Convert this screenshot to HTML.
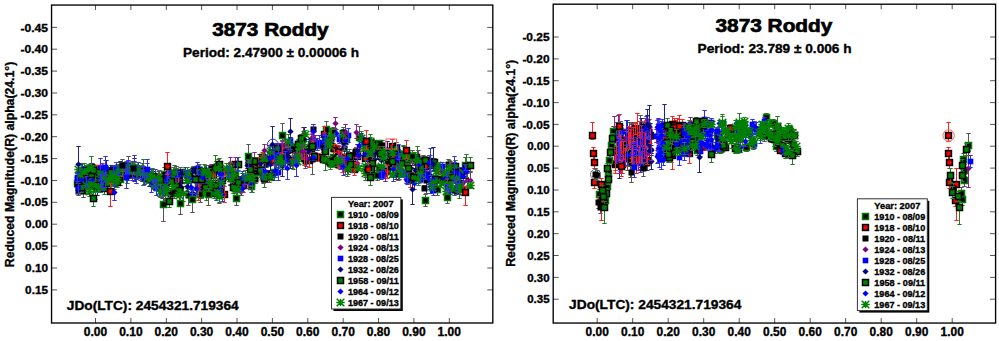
<!DOCTYPE html>
<html><head><meta charset="utf-8"><style>
html,body{margin:0;padding:0;background:#fff;}
svg{display:block;}
text{font-family:"Liberation Sans",sans-serif;font-weight:bold;fill:#000;stroke:#000;stroke-width:0.35px;}
.tk{stroke:#555;stroke-width:1;}
</style></head><body>
<svg width="999" height="341" viewBox="0 0 999 341">
<defs><g id="ast"><path d="M-4.2 0H4.2M0 -3.6V3.6M-3.8 -3.8L3.8 3.8M-3.8 3.8L3.8 -3.8" stroke="#008000" stroke-width="1.5"/><circle r="1.7" fill="#008000"/></g></defs>
<path d="M98.5 169.5V185.5M96.3 169.5h4.4M96.3 185.5h4.4" stroke="#555555"/>
<path d="M136.5 165.5V178.5M134.3 165.5h4.4M134.3 178.5h4.4" stroke="#555555"/>
<path d="M230.5 164.5V184.5M228.3 164.5h4.4M228.3 184.5h4.4" stroke="#555555"/>
<path d="M116.5 166.5V181.5M114.3 166.5h4.4M114.3 181.5h4.4" stroke="#555555"/>
<path d="M260.5 166.5V172.5M258.3 166.5h4.4M258.3 172.5h4.4" stroke="#555555"/>
<path d="M403.5 146.5V162.5M401.3 146.5h4.4M401.3 162.5h4.4" stroke="#555555"/>
<path d="M333.5 151.5V164.5M331.3 151.5h4.4M331.3 164.5h4.4" stroke="#555555"/>
<path d="M295.5 152.5V163.5M293.3 152.5h4.4M293.3 163.5h4.4" stroke="#555555"/>
<path d="M104.5 166.5V179.5M102.3 166.5h4.4M102.3 179.5h4.4" stroke="#555555"/>
<path d="M322.5 137.5V154.5M320.3 137.5h4.4M320.3 154.5h4.4" stroke="#555555"/>
<path d="M117.5 164.5V177.5M115.3 164.5h4.4M115.3 177.5h4.4" stroke="#555555"/>
<path d="M301.5 150.5V156.5M299.3 150.5h4.4M299.3 156.5h4.4" stroke="#555555"/>
<path d="M235.5 170.5V176.5M233.3 170.5h4.4M233.3 176.5h4.4" stroke="#555555"/>
<path d="M176.5 168.5V183.5M174.3 168.5h4.4M174.3 183.5h4.4" stroke="#555555"/>
<path d="M198.5 172.5V182.5M196.3 172.5h4.4M196.3 182.5h4.4" stroke="#555555"/>
<path d="M155.5 177.5V184.5M153.3 177.5h4.4M153.3 184.5h4.4" stroke="#555555"/>
<path d="M462.5 184.5V195.5M460.3 184.5h4.4M460.3 195.5h4.4" stroke="#555555"/>
<path d="M200.5 183.5V198.5M198.3 183.5h4.4M198.3 198.5h4.4" stroke="#555555"/>
<path d="M256.5 165.5V178.5M254.3 165.5h4.4M254.3 178.5h4.4" stroke="#555555"/>
<path d="M132.5 162.5V172.5M130.3 162.5h4.4M130.3 172.5h4.4" stroke="#555555"/>
<path d="M201.5 168.5V183.5M199.3 168.5h4.4M199.3 183.5h4.4" stroke="#555555"/>
<path d="M173.5 167.5V178.5M171.3 167.5h4.4M171.3 178.5h4.4" stroke="#555555"/>
<path d="M275.5 153.5V160.5M273.3 153.5h4.4M273.3 160.5h4.4" stroke="#555555"/>
<path d="M333.5 127.5V135.5M331.3 127.5h4.4M331.3 135.5h4.4" stroke="#555555"/>
<path d="M174.5 188.5V198.5M172.3 188.5h4.4M172.3 198.5h4.4" stroke="#555555"/>
<path d="M99.5 179.5V192.5M97.3 179.5h4.4M97.3 192.5h4.4" stroke="#555555"/>
<path d="M198.5 169.5V184.5M196.3 169.5h4.4M196.3 184.5h4.4" stroke="#555555"/>
<path d="M159.5 170.5V196.5M157.3 170.5h4.4M157.3 196.5h4.4" stroke="#555555"/>
<path d="M437.5 182.5V195.5M435.3 182.5h4.4M435.3 195.5h4.4" stroke="#555555"/>
<path d="M377.5 170.5V180.5M375.3 170.5h4.4M375.3 180.5h4.4" stroke="#555555"/>
<path d="M153.5 175.5V188.5M151.3 175.5h4.4M151.3 188.5h4.4" stroke="#555555"/>
<path d="M199.5 179.5V189.5M197.3 179.5h4.4M197.3 189.5h4.4" stroke="#555555"/>
<path d="M269.5 172.5V182.5M267.3 172.5h4.4M267.3 182.5h4.4" stroke="#555555"/>
<path d="M447.5 172.5V184.5M445.3 172.5h4.4M445.3 184.5h4.4" stroke="#555555"/>
<path d="M326.5 121.5V137.5M324.3 121.5h4.4M324.3 137.5h4.4" stroke="#555555"/>
<path d="M77.5 175.5V190.5M75.3 175.5h4.4M75.3 190.5h4.4" stroke="#555555"/>
<path d="M359.5 126.5V149.5M357.3 126.5h4.4M357.3 149.5h4.4" stroke="#555555"/>
<path d="M331.5 160.5V167.5M329.3 160.5h4.4M329.3 167.5h4.4" stroke="#555555"/>
<path d="M201.5 184.5V198.5M199.3 184.5h4.4M199.3 198.5h4.4" stroke="#555555"/>
<path d="M174.5 188.5V194.5M172.3 188.5h4.4M172.3 194.5h4.4" stroke="#555555"/>
<path d="M419.5 174.5V180.5M417.3 174.5h4.4M417.3 180.5h4.4" stroke="#555555"/>
<path d="M420.5 164.5V174.5M418.3 164.5h4.4M418.3 174.5h4.4" stroke="#555555"/>
<path d="M137.5 169.5V178.5M135.3 169.5h4.4M135.3 178.5h4.4" stroke="#555555"/>
<path d="M202.5 179.5V190.5M200.3 179.5h4.4M200.3 190.5h4.4" stroke="#555555"/>
<path d="M128.5 163.5V176.5M126.3 163.5h4.4M126.3 176.5h4.4" stroke="#555555"/>
<path d="M94.5 165.5V178.5M92.3 165.5h4.4M92.3 178.5h4.4" stroke="#555555"/>
<path d="M290.5 142.5V150.5M288.3 142.5h4.4M288.3 150.5h4.4" stroke="#555555"/>
<path d="M219.5 166.5V172.5M217.3 166.5h4.4M217.3 172.5h4.4" stroke="#555555"/>
<path d="M251.5 183.5V189.5M249.3 183.5h4.4M249.3 189.5h4.4" stroke="#555555"/>
<path d="M165.5 175.5V195.5M163.3 175.5h4.4M163.3 195.5h4.4" stroke="#555555"/>
<path d="M293.5 144.5V152.5M291.3 144.5h4.4M291.3 152.5h4.4" stroke="#555555"/>
<path d="M98.5 170.5V182.5M96.3 170.5h4.4M96.3 182.5h4.4" stroke="#555555"/>
<path d="M120.5 171.5V185.5M118.3 171.5h4.4M118.3 185.5h4.4" stroke="#555555"/>
<path d="M180.5 167.5V177.5M178.3 167.5h4.4M178.3 177.5h4.4" stroke="#555555"/>
<path d="M200.5 187.5V202.5M198.3 187.5h4.4M198.3 202.5h4.4" stroke="#555555"/>
<path d="M136.5 165.5V174.5M134.3 165.5h4.4M134.3 174.5h4.4" stroke="#555555"/>
<path d="M155.5 179.5V186.5M153.3 179.5h4.4M153.3 186.5h4.4" stroke="#555555"/>
<path d="M379.5 164.5V171.5M377.3 164.5h4.4M377.3 171.5h4.4" stroke="#555555"/>
<path d="M356.5 147.5V159.5M354.3 147.5h4.4M354.3 159.5h4.4" stroke="#555555"/>
<path d="M251.5 174.5V192.5M249.3 174.5h4.4M249.3 192.5h4.4" stroke="#555555"/>
<path d="M346.5 133.5V144.5M344.3 133.5h4.4M344.3 144.5h4.4" stroke="#555555"/>
<path d="M311.5 139.5V148.5M309.3 139.5h4.4M309.3 148.5h4.4" stroke="#555555"/>
<path d="M274.5 164.5V180.5M272.3 164.5h4.4M272.3 180.5h4.4" stroke="#555555"/>
<path d="M410.5 169.5V181.5M408.3 169.5h4.4M408.3 181.5h4.4" stroke="#555555"/>
<path d="M123.5 166.5V179.5M121.3 166.5h4.4M121.3 179.5h4.4" stroke="#555555"/>
<path d="M219.5 188.5V203.5M217.3 188.5h4.4M217.3 203.5h4.4" stroke="#555555"/>
<path d="M128.5 164.5V174.5M126.3 164.5h4.4M126.3 174.5h4.4" stroke="#555555"/>
<path d="M407.5 154.5V165.5M405.3 154.5h4.4M405.3 165.5h4.4" stroke="#555555"/>
<path d="M88.5 176.5V194.5M86.3 176.5h4.4M86.3 194.5h4.4" stroke="#555555"/>
<path d="M158.5 171.5V186.5M156.3 171.5h4.4M156.3 186.5h4.4" stroke="#555555"/>
<path d="M379.5 140.5V146.5M377.3 140.5h4.4M377.3 146.5h4.4" stroke="#555555"/>
<path d="M348.5 164.5V171.5M346.3 164.5h4.4M346.3 171.5h4.4" stroke="#555555"/>
<path d="M164.5 167.5V180.5M162.3 167.5h4.4M162.3 180.5h4.4" stroke="#555555"/>
<path d="M417.5 157.5V166.5M415.3 157.5h4.4M415.3 166.5h4.4" stroke="#555555"/>
<path d="M333.5 143.5V154.5M331.3 143.5h4.4M331.3 154.5h4.4" stroke="#555555"/>
<path d="M234.5 175.5V190.5M232.3 175.5h4.4M232.3 190.5h4.4" stroke="#555555"/>
<path d="M140.5 169.5V180.5M138.3 169.5h4.4M138.3 180.5h4.4" stroke="#555555"/>
<path d="M96.5 185.5V190.5M94.3 185.5h4.4M94.3 190.5h4.4" stroke="#555555"/>
<path d="M282.5 155.5V169.5M280.3 155.5h4.4M280.3 169.5h4.4" stroke="#555555"/>
<path d="M341.5 155.5V165.5M339.3 155.5h4.4M339.3 165.5h4.4" stroke="#555555"/>
<path d="M160.5 175.5V181.5M158.3 175.5h4.4M158.3 181.5h4.4" stroke="#555555"/>
<path d="M144.5 172.5V179.5M142.3 172.5h4.4M142.3 179.5h4.4" stroke="#555555"/>
<path d="M465.5 157.5V174.5M463.3 157.5h4.4M463.3 174.5h4.4" stroke="#555555"/>
<path d="M442.5 176.5V183.5M440.3 176.5h4.4M440.3 183.5h4.4" stroke="#555555"/>
<path d="M132.5 161.5V174.5M130.3 161.5h4.4M130.3 174.5h4.4" stroke="#555555"/>
<path d="M344.5 142.5V154.5M342.3 142.5h4.4M342.3 154.5h4.4" stroke="#555555"/>
<path d="M389.5 161.5V173.5M387.3 161.5h4.4M387.3 173.5h4.4" stroke="#555555"/>
<path d="M399.5 160.5V179.5M397.3 160.5h4.4M397.3 179.5h4.4" stroke="#555555"/>
<path d="M87.5 167.5V180.5M85.3 167.5h4.4M85.3 180.5h4.4" stroke="#555555"/>
<path d="M402.5 151.5V159.5M400.3 151.5h4.4M400.3 159.5h4.4" stroke="#555555"/>
<path d="M95.5 167.5V176.5M93.3 167.5h4.4M93.3 176.5h4.4" stroke="#555555"/>
<path d="M273.5 149.5V158.5M271.3 149.5h4.4M271.3 158.5h4.4" stroke="#555555"/>
<path d="M347.5 161.5V176.5M345.3 161.5h4.4M345.3 176.5h4.4" stroke="#555555"/>
<path d="M187.5 171.5V180.5M185.3 171.5h4.4M185.3 180.5h4.4" stroke="#555555"/>
<path d="M92.5 163.5V171.5M90.3 163.5h4.4M90.3 171.5h4.4" stroke="#555555"/>
<path d="M426.5 167.5V193.5M424.3 167.5h4.4M424.3 193.5h4.4" stroke="#555555"/>
<path d="M116.5 172.5V187.5M114.3 172.5h4.4M114.3 187.5h4.4" stroke="#555555"/>
<path d="M142.5 163.5V177.5M140.3 163.5h4.4M140.3 177.5h4.4" stroke="#555555"/>
<path d="M211.5 164.5V172.5M209.3 164.5h4.4M209.3 172.5h4.4" stroke="#555555"/>
<path d="M416.5 157.5V165.5M414.3 157.5h4.4M414.3 165.5h4.4" stroke="#555555"/>
<path d="M313.5 124.5V135.5M311.3 124.5h4.4M311.3 135.5h4.4" stroke="#555555"/>
<path d="M425.5 169.5V178.5M423.3 169.5h4.4M423.3 178.5h4.4" stroke="#555555"/>
<path d="M142.5 165.5V174.5M140.3 165.5h4.4M140.3 174.5h4.4" stroke="#555555"/>
<path d="M448.5 159.5V170.5M446.3 159.5h4.4M446.3 170.5h4.4" stroke="#555555"/>
<path d="M424.5 185.5V190.5M422.3 185.5h4.4M422.3 190.5h4.4" stroke="#555555"/>
<path d="M418.5 157.5V183.5M416.3 157.5h4.4M416.3 183.5h4.4" stroke="#555555"/>
<path d="M343.5 135.5V143.5M341.3 135.5h4.4M341.3 143.5h4.4" stroke="#555555"/>
<path d="M307.5 148.5V153.5M305.3 148.5h4.4M305.3 153.5h4.4" stroke="#555555"/>
<path d="M129.5 172.5V178.5M127.3 172.5h4.4M127.3 178.5h4.4" stroke="#555555"/>
<path d="M165.5 172.5V178.5M163.3 172.5h4.4M163.3 178.5h4.4" stroke="#555555"/>
<path d="M387.5 155.5V168.5M385.3 155.5h4.4M385.3 168.5h4.4" stroke="#555555"/>
<path d="M423.5 155.5V163.5M421.3 155.5h4.4M421.3 163.5h4.4" stroke="#555555"/>
<path d="M84.5 166.5V178.5M82.3 166.5h4.4M82.3 178.5h4.4" stroke="#555555"/>
<path d="M137.5 165.5V173.5M135.3 165.5h4.4M135.3 173.5h4.4" stroke="#555555"/>
<path d="M216.5 161.5V170.5M214.3 161.5h4.4M214.3 170.5h4.4" stroke="#555555"/>
<path d="M447.5 171.5V185.5M445.3 171.5h4.4M445.3 185.5h4.4" stroke="#555555"/>
<path d="M77.5 180.5V188.5M75.3 180.5h4.4M75.3 188.5h4.4" stroke="#555555"/>
<path d="M116.5 162.5V175.5M114.3 162.5h4.4M114.3 175.5h4.4" stroke="#555555"/>
<path d="M345.5 158.5V174.5M343.3 158.5h4.4M343.3 174.5h4.4" stroke="#555555"/>
<path d="M206.5 169.5V181.5M204.3 169.5h4.4M204.3 181.5h4.4" stroke="#555555"/>
<path d="M353.5 158.5V171.5M351.3 158.5h4.4M351.3 171.5h4.4" stroke="#555555"/>
<path d="M346.5 162.5V168.5M344.3 162.5h4.4M344.3 168.5h4.4" stroke="#555555"/>
<path d="M259.5 154.5V168.5M257.3 154.5h4.4M257.3 168.5h4.4" stroke="#555555"/>
<path d="M176.5 166.5V177.5M174.3 166.5h4.4M174.3 177.5h4.4" stroke="#555555"/>
<path d="M457.5 188.5V193.5M455.3 188.5h4.4M455.3 193.5h4.4" stroke="#555555"/>
<path d="M316.5 140.5V148.5M314.3 140.5h4.4M314.3 148.5h4.4" stroke="#555555"/>
<path d="M398.5 168.5V180.5M396.3 168.5h4.4M396.3 180.5h4.4" stroke="#555555"/>
<path d="M382.5 150.5V158.5M380.3 150.5h4.4M380.3 158.5h4.4" stroke="#555555"/>
<path d="M454.5 185.5V195.5M452.3 185.5h4.4M452.3 195.5h4.4" stroke="#555555"/>
<path d="M451.5 166.5V177.5M449.3 166.5h4.4M449.3 177.5h4.4" stroke="#555555"/>
<path d="M453.5 173.5V183.5M451.3 173.5h4.4M451.3 183.5h4.4" stroke="#555555"/>
<path d="M124.5 162.5V171.5M122.3 162.5h4.4M122.3 171.5h4.4" stroke="#555555"/>
<path d="M198.5 169.5V179.5M196.3 169.5h4.4M196.3 179.5h4.4" stroke="#555555"/>
<path d="M188.5 183.5V205.5M186.3 183.5h4.4M186.3 205.5h4.4" stroke="#555555"/>
<path d="M324.5 134.5V163.5M322.3 134.5h4.4M322.3 163.5h4.4" stroke="#555555"/>
<path d="M238.5 180.5V191.5M236.3 180.5h4.4M236.3 191.5h4.4" stroke="#555555"/>
<path d="M267.5 170.5V176.5M265.3 170.5h4.4M265.3 176.5h4.4" stroke="#555555"/>
<path d="M151.5 173.5V179.5M149.3 173.5h4.4M149.3 179.5h4.4" stroke="#555555"/>
<path d="M278.5 154.5V167.5M276.3 154.5h4.4M276.3 167.5h4.4" stroke="#555555"/>
<path d="M193.5 166.5V173.5M191.3 166.5h4.4M191.3 173.5h4.4" stroke="#555555"/>
<path d="M405.5 170.5V176.5M403.3 170.5h4.4M403.3 176.5h4.4" stroke="#555555"/>
<path d="M353.5 157.5V170.5M351.3 157.5h4.4M351.3 170.5h4.4" stroke="#555555"/>
<path d="M221.5 187.5V193.5M219.3 187.5h4.4M219.3 193.5h4.4" stroke="#555555"/>
<path d="M382.5 140.5V149.5M380.3 140.5h4.4M380.3 149.5h4.4" stroke="#555555"/>
<path d="M119.5 171.5V182.5M117.3 171.5h4.4M117.3 182.5h4.4" stroke="#555555"/>
<path d="M105.5 160.5V187.5M103.3 160.5h4.4M103.3 187.5h4.4" stroke="#555555"/>
<path d="M266.5 159.5V167.5M264.3 159.5h4.4M264.3 167.5h4.4" stroke="#555555"/>
<path d="M142.5 166.5V175.5M140.3 166.5h4.4M140.3 175.5h4.4" stroke="#555555"/>
<path d="M305.5 154.5V168.5M303.3 154.5h4.4M303.3 168.5h4.4" stroke="#555555"/>
<path d="M392.5 153.5V166.5M390.3 153.5h4.4M390.3 166.5h4.4" stroke="#555555"/>
<path d="M179.5 177.5V185.5M177.3 177.5h4.4M177.3 185.5h4.4" stroke="#555555"/>
<path d="M193.5 189.5V200.5M191.3 189.5h4.4M191.3 200.5h4.4" stroke="#555555"/>
<path d="M83.5 184.5V197.5M81.3 184.5h4.4M81.3 197.5h4.4" stroke="#555555"/>
<path d="M78.5 187.5V195.5M76.3 187.5h4.4M76.3 195.5h4.4" stroke="#555555"/>
<path d="M312.5 145.5V174.5M310.3 145.5h4.4M310.3 174.5h4.4" stroke="#555555"/>
<path d="M207.5 172.5V185.5M205.3 172.5h4.4M205.3 185.5h4.4" stroke="#555555"/>
<path d="M154.5 176.5V182.5M152.3 176.5h4.4M152.3 182.5h4.4" stroke="#555555"/>
<path d="M344.5 135.5V141.5M342.3 135.5h4.4M342.3 141.5h4.4" stroke="#555555"/>
<path d="M454.5 167.5V182.5M452.3 167.5h4.4M452.3 182.5h4.4" stroke="#555555"/>
<path d="M255.5 175.5V183.5M253.3 175.5h4.4M253.3 183.5h4.4" stroke="#555555"/>
<path d="M199.5 164.5V174.5M197.3 164.5h4.4M197.3 174.5h4.4" stroke="#555555"/>
<path d="M215.5 189.5V196.5M213.3 189.5h4.4M213.3 196.5h4.4" stroke="#555555"/>
<path d="M314.5 148.5V161.5M312.3 148.5h4.4M312.3 161.5h4.4" stroke="#555555"/>
<path d="M162.5 181.5V196.5M160.3 181.5h4.4M160.3 196.5h4.4" stroke="#555555"/>
<path d="M355.5 148.5V155.5M353.3 148.5h4.4M353.3 155.5h4.4" stroke="#555555"/>
<path d="M128.5 156.5V176.5M126.3 156.5h4.4M126.3 176.5h4.4" stroke="#555555"/>
<path d="M170.5 188.5V201.5M168.3 188.5h4.4M168.3 201.5h4.4" stroke="#555555"/>
<path d="M250.5 175.5V183.5M248.3 175.5h4.4M248.3 183.5h4.4" stroke="#555555"/>
<path d="M86.5 179.5V188.5M84.3 179.5h4.4M84.3 188.5h4.4" stroke="#555555"/>
<path d="M458.5 171.5V194.5M456.3 171.5h4.4M456.3 194.5h4.4" stroke="#555555"/>
<path d="M208.5 176.5V186.5M206.3 176.5h4.4M206.3 186.5h4.4" stroke="#555555"/>
<path d="M326.5 132.5V142.5M324.3 132.5h4.4M324.3 142.5h4.4" stroke="#555555"/>
<path d="M88.5 180.5V188.5M86.3 180.5h4.4M86.3 188.5h4.4" stroke="#555555"/>
<path d="M389.5 148.5V159.5M387.3 148.5h4.4M387.3 159.5h4.4" stroke="#555555"/>
<rect x="95.5" y="175.5" width="6.0" height="6.0" fill="#000" stroke="#008000" stroke-width="1.5"/>
<rect x="133.5" y="168.5" width="6.0" height="6.0" fill="#000" stroke="#008000" stroke-width="1.5"/>
<rect x="227.5" y="172.5" width="6.0" height="6.0" fill="#000" stroke="#008000" stroke-width="1.5"/>
<rect x="113.5" y="170.5" width="6.0" height="6.0" fill="#000" stroke="#008000" stroke-width="1.5"/>
<rect x="257.5" y="166.5" width="6.0" height="6.0" fill="#000" stroke="#008000" stroke-width="1.5"/>
<rect x="400.5" y="151.5" width="6.0" height="6.0" fill="#000" stroke="#008000" stroke-width="1.5"/>
<rect x="330.5" y="154.5" width="6.0" height="6.0" fill="#000" stroke="#008000" stroke-width="1.5"/>
<rect x="292.5" y="155.5" width="6.0" height="6.0" fill="#000" stroke="#008000" stroke-width="1.5"/>
<rect x="101.5" y="169.5" width="6.0" height="6.0" fill="#000" stroke="#008000" stroke-width="1.5"/>
<rect x="319.5" y="142.5" width="6.0" height="6.0" fill="#000" stroke="#008000" stroke-width="1.5"/>
<rect x="114.5" y="168.5" width="6.0" height="6.0" fill="#000" stroke="#008000" stroke-width="1.5"/>
<rect x="298.5" y="150.5" width="6.0" height="6.0" fill="#000" stroke="#008000" stroke-width="1.5"/>
<rect x="232.5" y="170.5" width="6.0" height="6.0" fill="#000" stroke="#008000" stroke-width="1.5"/>
<rect x="173.5" y="172.5" width="6.0" height="6.0" fill="#000" stroke="#008000" stroke-width="1.5"/>
<rect x="195.5" y="174.5" width="6.0" height="6.0" fill="#000" stroke="#008000" stroke-width="1.5"/>
<rect x="152.5" y="178.5" width="6.0" height="6.0" fill="#000" stroke="#008000" stroke-width="1.5"/>
<rect x="459.5" y="186.5" width="6.0" height="6.0" fill="#000" stroke="#008000" stroke-width="1.5"/>
<rect x="197.5" y="187.5" width="6.0" height="6.0" fill="#000" stroke="#008000" stroke-width="1.5"/>
<rect x="253.5" y="169.5" width="6.0" height="6.0" fill="#000" stroke="#008000" stroke-width="1.5"/>
<rect x="129.5" y="164.5" width="6.0" height="6.0" fill="#000" stroke="#008000" stroke-width="1.5"/>
<rect x="198.5" y="172.5" width="6.0" height="6.0" fill="#000" stroke="#008000" stroke-width="1.5"/>
<rect x="170.5" y="170.5" width="6.0" height="6.0" fill="#000" stroke="#008000" stroke-width="1.5"/>
<rect x="272.5" y="154.5" width="6.0" height="6.0" fill="#000" stroke="#008000" stroke-width="1.5"/>
<rect x="330.5" y="128.5" width="6.0" height="6.0" fill="#000" stroke="#008000" stroke-width="1.5"/>
<rect x="171.5" y="190.5" width="6.0" height="6.0" fill="#000" stroke="#008000" stroke-width="1.5"/>
<rect x="96.5" y="182.5" width="6.0" height="6.0" fill="#000" stroke="#008000" stroke-width="1.5"/>
<rect x="195.5" y="173.5" width="6.0" height="6.0" fill="#000" stroke="#008000" stroke-width="1.5"/>
<rect x="156.5" y="181.5" width="6.0" height="6.0" fill="#000" stroke="#008000" stroke-width="1.5"/>
<rect x="434.5" y="186.5" width="6.0" height="6.0" fill="#000" stroke="#008000" stroke-width="1.5"/>
<rect x="374.5" y="172.5" width="6.0" height="6.0" fill="#000" stroke="#008000" stroke-width="1.5"/>
<rect x="150.5" y="179.5" width="6.0" height="6.0" fill="#000" stroke="#008000" stroke-width="1.5"/>
<rect x="196.5" y="181.5" width="6.0" height="6.0" fill="#000" stroke="#008000" stroke-width="1.5"/>
<rect x="266.5" y="174.5" width="6.0" height="6.0" fill="#000" stroke="#008000" stroke-width="1.5"/>
<rect x="444.5" y="175.5" width="6.0" height="6.0" fill="#000" stroke="#008000" stroke-width="1.5"/>
<rect x="323.5" y="126.5" width="6.0" height="6.0" fill="#000" stroke="#008000" stroke-width="1.5"/>
<rect x="74.5" y="180.5" width="6.0" height="6.0" fill="#000" stroke="#008000" stroke-width="1.5"/>
<rect x="356.5" y="134.5" width="6.0" height="6.0" fill="#000" stroke="#008000" stroke-width="1.5"/>
<rect x="328.5" y="160.5" width="6.0" height="6.0" fill="#000" stroke="#008000" stroke-width="1.5"/>
<rect x="198.5" y="189.5" width="6.0" height="6.0" fill="#000" stroke="#008000" stroke-width="1.5"/>
<rect x="171.5" y="188.5" width="6.0" height="6.0" fill="#000" stroke="#008000" stroke-width="1.5"/>
<rect x="416.5" y="174.5" width="6.0" height="6.0" fill="#000" stroke="#008000" stroke-width="1.5"/>
<rect x="417.5" y="166.5" width="6.0" height="6.0" fill="#000" stroke="#008000" stroke-width="1.5"/>
<rect x="134.5" y="170.5" width="6.0" height="6.0" fill="#000" stroke="#008000" stroke-width="1.5"/>
<rect x="199.5" y="182.5" width="6.0" height="6.0" fill="#000" stroke="#008000" stroke-width="1.5"/>
<rect x="125.5" y="166.5" width="6.0" height="6.0" fill="#000" stroke="#008000" stroke-width="1.5"/>
<rect x="91.5" y="169.5" width="6.0" height="6.0" fill="#000" stroke="#008000" stroke-width="1.5"/>
<rect x="287.5" y="143.5" width="6.0" height="6.0" fill="#000" stroke="#008000" stroke-width="1.5"/>
<rect x="216.5" y="166.5" width="6.0" height="6.0" fill="#000" stroke="#008000" stroke-width="1.5"/>
<rect x="248.5" y="183.5" width="6.0" height="6.0" fill="#000" stroke="#008000" stroke-width="1.5"/>
<rect x="162.5" y="182.5" width="6.0" height="6.0" fill="#000" stroke="#008000" stroke-width="1.5"/>
<rect x="290.5" y="145.5" width="6.0" height="6.0" fill="#000" stroke="#008000" stroke-width="1.5"/>
<rect x="95.5" y="173.5" width="6.0" height="6.0" fill="#000" stroke="#008000" stroke-width="1.5"/>
<rect x="117.5" y="176.5" width="6.0" height="6.0" fill="#000" stroke="#008000" stroke-width="1.5"/>
<rect x="177.5" y="169.5" width="6.0" height="6.0" fill="#000" stroke="#008000" stroke-width="1.5"/>
<rect x="197.5" y="191.5" width="6.0" height="6.0" fill="#000" stroke="#008000" stroke-width="1.5"/>
<rect x="133.5" y="166.5" width="6.0" height="6.0" fill="#000" stroke="#008000" stroke-width="1.5"/>
<rect x="152.5" y="179.5" width="6.0" height="6.0" fill="#000" stroke="#008000" stroke-width="1.5"/>
<rect x="376.5" y="165.5" width="6.0" height="6.0" fill="#000" stroke="#008000" stroke-width="1.5"/>
<rect x="353.5" y="150.5" width="6.0" height="6.0" fill="#000" stroke="#008000" stroke-width="1.5"/>
<rect x="248.5" y="180.5" width="6.0" height="6.0" fill="#000" stroke="#008000" stroke-width="1.5"/>
<rect x="343.5" y="136.5" width="6.0" height="6.0" fill="#000" stroke="#008000" stroke-width="1.5"/>
<rect x="308.5" y="141.5" width="6.0" height="6.0" fill="#000" stroke="#008000" stroke-width="1.5"/>
<rect x="271.5" y="169.5" width="6.0" height="6.0" fill="#000" stroke="#008000" stroke-width="1.5"/>
<rect x="407.5" y="172.5" width="6.0" height="6.0" fill="#000" stroke="#008000" stroke-width="1.5"/>
<rect x="120.5" y="170.5" width="6.0" height="6.0" fill="#000" stroke="#008000" stroke-width="1.5"/>
<rect x="216.5" y="192.5" width="6.0" height="6.0" fill="#000" stroke="#008000" stroke-width="1.5"/>
<rect x="125.5" y="166.5" width="6.0" height="6.0" fill="#000" stroke="#008000" stroke-width="1.5"/>
<rect x="404.5" y="157.5" width="6.0" height="6.0" fill="#000" stroke="#008000" stroke-width="1.5"/>
<rect x="85.5" y="182.5" width="6.0" height="6.0" fill="#000" stroke="#008000" stroke-width="1.5"/>
<rect x="155.5" y="175.5" width="6.0" height="6.0" fill="#000" stroke="#008000" stroke-width="1.5"/>
<rect x="376.5" y="140.5" width="6.0" height="6.0" fill="#000" stroke="#008000" stroke-width="1.5"/>
<rect x="345.5" y="165.5" width="6.0" height="6.0" fill="#000" stroke="#008000" stroke-width="1.5"/>
<rect x="161.5" y="171.5" width="6.0" height="6.0" fill="#000" stroke="#008000" stroke-width="1.5"/>
<rect x="414.5" y="158.5" width="6.0" height="6.0" fill="#000" stroke="#008000" stroke-width="1.5"/>
<rect x="330.5" y="145.5" width="6.0" height="6.0" fill="#000" stroke="#008000" stroke-width="1.5"/>
<rect x="231.5" y="180.5" width="6.0" height="6.0" fill="#000" stroke="#008000" stroke-width="1.5"/>
<rect x="137.5" y="172.5" width="6.0" height="6.0" fill="#000" stroke="#008000" stroke-width="1.5"/>
<rect x="93.5" y="185.5" width="6.0" height="6.0" fill="#000" stroke="#008000" stroke-width="1.5"/>
<rect x="279.5" y="159.5" width="6.0" height="6.0" fill="#000" stroke="#008000" stroke-width="1.5"/>
<rect x="338.5" y="157.5" width="6.0" height="6.0" fill="#000" stroke="#008000" stroke-width="1.5"/>
<rect x="157.5" y="175.5" width="6.0" height="6.0" fill="#000" stroke="#008000" stroke-width="1.5"/>
<rect x="141.5" y="173.5" width="6.0" height="6.0" fill="#000" stroke="#008000" stroke-width="1.5"/>
<rect x="462.5" y="162.5" width="6.0" height="6.0" fill="#000" stroke="#008000" stroke-width="1.5"/>
<rect x="439.5" y="176.5" width="6.0" height="6.0" fill="#000" stroke="#008000" stroke-width="1.5"/>
<rect x="240.6" y="182.6" width="5.8" height="5.8" fill="#f00" stroke="#000" stroke-width="1.6"/>
<rect x="81.6" y="174.6" width="5.8" height="5.8" fill="#f00" stroke="#000" stroke-width="1.6"/>
<rect x="176.6" y="177.6" width="5.8" height="5.8" fill="#f00" stroke="#000" stroke-width="1.6"/>
<rect x="369.6" y="154.6" width="5.8" height="5.8" fill="#f00" stroke="#000" stroke-width="1.6"/>
<rect x="175.6" y="178.6" width="5.8" height="5.8" fill="#f00" stroke="#000" stroke-width="1.6"/>
<rect x="362.6" y="155.6" width="5.8" height="5.8" fill="#f00" stroke="#000" stroke-width="1.6"/>
<rect x="342.6" y="154.6" width="5.8" height="5.8" fill="#f00" stroke="#000" stroke-width="1.6"/>
<rect x="250.6" y="162.6" width="5.8" height="5.8" fill="#f00" stroke="#000" stroke-width="1.6"/>
<rect x="327.6" y="137.6" width="5.8" height="5.8" fill="#f00" stroke="#000" stroke-width="1.6"/>
<rect x="336.6" y="161.6" width="5.8" height="5.8" fill="#f00" stroke="#000" stroke-width="1.6"/>
<rect x="335.6" y="161.6" width="5.8" height="5.8" fill="#f00" stroke="#000" stroke-width="1.6"/>
<rect x="353.6" y="149.6" width="5.8" height="5.8" fill="#f00" stroke="#000" stroke-width="1.6"/>
<rect x="308.6" y="145.6" width="5.8" height="5.8" fill="#f00" stroke="#000" stroke-width="1.6"/>
<rect x="219.6" y="177.6" width="5.8" height="5.8" fill="#f00" stroke="#000" stroke-width="1.6"/>
<rect x="277.6" y="152.6" width="5.8" height="5.8" fill="#f00" stroke="#000" stroke-width="1.6"/>
<rect x="259.6" y="154.6" width="5.8" height="5.8" fill="#f00" stroke="#000" stroke-width="1.6"/>
<rect x="341.6" y="161.6" width="5.8" height="5.8" fill="#f00" stroke="#000" stroke-width="1.6"/>
<rect x="210.6" y="172.6" width="5.8" height="5.8" fill="#f00" stroke="#000" stroke-width="1.6"/>
<rect x="422.6" y="163.6" width="5.8" height="5.8" fill="#f00" stroke="#000" stroke-width="1.6"/>
<rect x="339.6" y="162.6" width="5.8" height="5.8" fill="#f00" stroke="#000" stroke-width="1.6"/>
<rect x="430.6" y="181.6" width="5.8" height="5.8" fill="#f00" stroke="#000" stroke-width="1.6"/>
<rect x="195.6" y="184.6" width="5.8" height="5.8" fill="#f00" stroke="#000" stroke-width="1.6"/>
<rect x="309.6" y="138.6" width="5.8" height="5.8" fill="#f00" stroke="#000" stroke-width="1.6"/>
<rect x="354.6" y="153.6" width="5.8" height="5.8" fill="#f00" stroke="#000" stroke-width="1.6"/>
<rect x="391.6" y="154.6" width="5.8" height="5.8" fill="#f00" stroke="#000" stroke-width="1.6"/>
<rect x="393.6" y="162.6" width="5.8" height="5.8" fill="#f00" stroke="#000" stroke-width="1.6"/>
<rect x="270.6" y="158.6" width="5.8" height="5.8" fill="#f00" stroke="#000" stroke-width="1.6"/>
<rect x="232.6" y="161.6" width="5.8" height="5.8" fill="#f00" stroke="#000" stroke-width="1.6"/>
<rect x="221.6" y="191.6" width="5.8" height="5.8" fill="#f00" stroke="#000" stroke-width="1.6"/>
<rect x="321.6" y="131.6" width="5.8" height="5.8" fill="#f00" stroke="#000" stroke-width="1.6"/>
<rect x="88.6" y="164.6" width="5.8" height="5.8" fill="#f00" stroke="#000" stroke-width="1.6"/>
<rect x="407.6" y="176.6" width="5.8" height="5.8" fill="#f00" stroke="#000" stroke-width="1.6"/>
<rect x="295.6" y="141.6" width="5.8" height="5.8" fill="#f00" stroke="#000" stroke-width="1.6"/>
<rect x="289.6" y="157.6" width="5.8" height="5.8" fill="#f00" stroke="#000" stroke-width="1.6"/>
<rect x="389.6" y="143.6" width="5.8" height="5.8" fill="#f00" stroke="#000" stroke-width="1.6"/>
<rect x="264.6" y="173.6" width="5.8" height="5.8" fill="#f00" stroke="#000" stroke-width="1.6"/>
<rect x="301.6" y="155.6" width="5.8" height="5.8" fill="#f00" stroke="#000" stroke-width="1.6"/>
<rect x="126.6" y="167.6" width="5.8" height="5.8" fill="#f00" stroke="#000" stroke-width="1.6"/>
<rect x="221.6" y="168.6" width="5.8" height="5.8" fill="#f00" stroke="#000" stroke-width="1.6"/>
<rect x="306.6" y="157.6" width="5.8" height="5.8" fill="#f00" stroke="#000" stroke-width="1.6"/>
<rect x="321.6" y="143.6" width="5.8" height="5.8" fill="#f00" stroke="#000" stroke-width="1.6"/>
<rect x="119.6" y="168.6" width="5.8" height="5.8" fill="#f00" stroke="#000" stroke-width="1.6"/>
<rect x="298.6" y="150.6" width="5.8" height="5.8" fill="#f00" stroke="#000" stroke-width="1.6"/>
<rect x="384.6" y="168.6" width="5.8" height="5.8" fill="#f00" stroke="#000" stroke-width="1.6"/>
<rect x="261.6" y="172.6" width="5.8" height="5.8" fill="#f00" stroke="#000" stroke-width="1.6"/>
<rect x="338.6" y="154.6" width="5.8" height="5.8" fill="#f00" stroke="#000" stroke-width="1.6"/>
<rect x="436.6" y="166.6" width="5.8" height="5.8" fill="#f00" stroke="#000" stroke-width="1.6"/>
<rect x="457.6" y="180.6" width="5.8" height="5.8" fill="#f00" stroke="#000" stroke-width="1.6"/>
<rect x="216.6" y="184.6" width="5.8" height="5.8" fill="#f00" stroke="#000" stroke-width="1.6"/>
<rect x="279.6" y="144.6" width="5.8" height="5.8" fill="#f00" stroke="#000" stroke-width="1.6"/>
<rect x="375.6" y="147.6" width="5.8" height="5.8" fill="#f00" stroke="#000" stroke-width="1.6"/>
<rect x="246.6" y="160.6" width="5.8" height="5.8" fill="#f00" stroke="#000" stroke-width="1.6"/>
<rect x="294.6" y="151.6" width="5.8" height="5.8" fill="#f00" stroke="#000" stroke-width="1.6"/>
<rect x="331.6" y="145.6" width="5.8" height="5.8" fill="#f00" stroke="#000" stroke-width="1.6"/>
<rect x="351.6" y="166.6" width="5.8" height="5.8" fill="#f00" stroke="#000" stroke-width="1.6"/>
<rect x="94.6" y="165.6" width="5.8" height="5.8" fill="#f00" stroke="#000" stroke-width="1.6"/>
<rect x="335.6" y="148.6" width="5.8" height="5.8" fill="#f00" stroke="#000" stroke-width="1.6"/>
<rect x="315.6" y="154.6" width="5.8" height="5.8" fill="#f00" stroke="#000" stroke-width="1.6"/>
<rect x="255.6" y="159.6" width="5.8" height="5.8" fill="#f00" stroke="#000" stroke-width="1.6"/>
<rect x="129.5" y="165.5" width="6.0" height="6.0" fill="#000"/>
<rect x="341.5" y="145.5" width="6.0" height="6.0" fill="#000"/>
<rect x="386.5" y="164.5" width="6.0" height="6.0" fill="#000"/>
<rect x="396.5" y="167.5" width="6.0" height="6.0" fill="#000"/>
<rect x="84.5" y="170.5" width="6.0" height="6.0" fill="#000"/>
<rect x="399.5" y="152.5" width="6.0" height="6.0" fill="#000"/>
<rect x="92.5" y="168.5" width="6.0" height="6.0" fill="#000"/>
<rect x="270.5" y="151.5" width="6.0" height="6.0" fill="#000"/>
<rect x="344.5" y="165.5" width="6.0" height="6.0" fill="#000"/>
<rect x="184.5" y="173.5" width="6.0" height="6.0" fill="#000"/>
<rect x="89.5" y="164.5" width="6.0" height="6.0" fill="#000"/>
<rect x="423.5" y="177.5" width="6.0" height="6.0" fill="#000"/>
<rect x="113.5" y="177.5" width="6.0" height="6.0" fill="#000"/>
<rect x="139.5" y="167.5" width="6.0" height="6.0" fill="#000"/>
<rect x="208.5" y="165.5" width="6.0" height="6.0" fill="#000"/>
<rect x="413.5" y="158.5" width="6.0" height="6.0" fill="#000"/>
<rect x="310.5" y="126.5" width="6.0" height="6.0" fill="#000"/>
<rect x="422.5" y="170.5" width="6.0" height="6.0" fill="#000"/>
<rect x="139.5" y="166.5" width="6.0" height="6.0" fill="#000"/>
<rect x="445.5" y="161.5" width="6.0" height="6.0" fill="#000"/>
<rect x="421.5" y="185.5" width="6.0" height="6.0" fill="#000"/>
<rect x="415.5" y="166.5" width="6.0" height="6.0" fill="#000"/>
<rect x="340.5" y="136.5" width="6.0" height="6.0" fill="#000"/>
<rect x="304.5" y="148.5" width="6.0" height="6.0" fill="#000"/>
<rect x="126.5" y="172.5" width="6.0" height="6.0" fill="#000"/>
<rect x="162.5" y="172.5" width="6.0" height="6.0" fill="#000"/>
<rect x="384.5" y="158.5" width="6.0" height="6.0" fill="#000"/>
<rect x="420.5" y="156.5" width="6.0" height="6.0" fill="#000"/>
<rect x="81.5" y="169.5" width="6.0" height="6.0" fill="#000"/>
<rect x="134.5" y="166.5" width="6.0" height="6.0" fill="#000"/>
<rect x="213.5" y="163.5" width="6.0" height="6.0" fill="#000"/>
<rect x="444.5" y="175.5" width="6.0" height="6.0" fill="#000"/>
<rect x="74.5" y="181.5" width="6.0" height="6.0" fill="#000"/>
<rect x="113.5" y="166.5" width="6.0" height="6.0" fill="#000"/>
<rect x="342.5" y="163.5" width="6.0" height="6.0" fill="#000"/>
<rect x="203.5" y="172.5" width="6.0" height="6.0" fill="#000"/>
<rect x="350.5" y="161.5" width="6.0" height="6.0" fill="#000"/>
<rect x="343.5" y="162.5" width="6.0" height="6.0" fill="#000"/>
<rect x="256.5" y="158.5" width="6.0" height="6.0" fill="#000"/>
<rect x="173.5" y="169.5" width="6.0" height="6.0" fill="#000"/>
<rect x="454.5" y="188.5" width="6.0" height="6.0" fill="#000"/>
<rect x="313.5" y="141.5" width="6.0" height="6.0" fill="#000"/>
<rect x="395.5" y="171.5" width="6.0" height="6.0" fill="#000"/>
<rect x="379.5" y="151.5" width="6.0" height="6.0" fill="#000"/>
<rect x="451.5" y="187.5" width="6.0" height="6.0" fill="#000"/>
<rect x="448.5" y="169.5" width="6.0" height="6.0" fill="#000"/>
<rect x="450.5" y="175.5" width="6.0" height="6.0" fill="#000"/>
<rect x="121.5" y="164.5" width="6.0" height="6.0" fill="#000"/>
<rect x="195.5" y="171.5" width="6.0" height="6.0" fill="#000"/>
<rect x="185.5" y="192.5" width="6.0" height="6.0" fill="#000"/>
<rect x="321.5" y="145.5" width="6.0" height="6.0" fill="#000"/>
<rect x="235.5" y="183.5" width="6.0" height="6.0" fill="#000"/>
<rect x="264.5" y="170.5" width="6.0" height="6.0" fill="#000"/>
<rect x="148.5" y="173.5" width="6.0" height="6.0" fill="#000"/>
<rect x="275.5" y="158.5" width="6.0" height="6.0" fill="#000"/>
<rect x="190.5" y="167.5" width="6.0" height="6.0" fill="#000"/>
<rect x="402.5" y="170.5" width="6.0" height="6.0" fill="#000"/>
<rect x="350.5" y="160.5" width="6.0" height="6.0" fill="#000"/>
<rect x="218.5" y="187.5" width="6.0" height="6.0" fill="#000"/>
<rect x="379.5" y="142.5" width="6.0" height="6.0" fill="#000"/>
<rect x="116.5" y="174.5" width="6.0" height="6.0" fill="#000"/>
<rect x="102.5" y="170.5" width="6.0" height="6.0" fill="#000"/>
<rect x="263.5" y="160.5" width="6.0" height="6.0" fill="#000"/>
<rect x="139.5" y="167.5" width="6.0" height="6.0" fill="#000"/>
<rect x="302.5" y="158.5" width="6.0" height="6.0" fill="#000"/>
<rect x="389.5" y="157.5" width="6.0" height="6.0" fill="#000"/>
<rect x="176.5" y="178.5" width="6.0" height="6.0" fill="#000"/>
<rect x="190.5" y="192.5" width="6.0" height="6.0" fill="#000"/>
<rect x="80.5" y="188.5" width="6.0" height="6.0" fill="#000"/>
<rect x="75.5" y="188.5" width="6.0" height="6.0" fill="#000"/>
<rect x="309.5" y="156.5" width="6.0" height="6.0" fill="#000"/>
<rect x="204.5" y="176.5" width="6.0" height="6.0" fill="#000"/>
<rect x="151.5" y="176.5" width="6.0" height="6.0" fill="#000"/>
<rect x="341.5" y="135.5" width="6.0" height="6.0" fill="#000"/>
<rect x="451.5" y="171.5" width="6.0" height="6.0" fill="#000"/>
<rect x="252.5" y="176.5" width="6.0" height="6.0" fill="#000"/>
<rect x="196.5" y="166.5" width="6.0" height="6.0" fill="#000"/>
<rect x="212.5" y="190.5" width="6.0" height="6.0" fill="#000"/>
<rect x="311.5" y="152.5" width="6.0" height="6.0" fill="#000"/>
<rect x="159.5" y="185.5" width="6.0" height="6.0" fill="#000"/>
<rect x="352.5" y="149.5" width="6.0" height="6.0" fill="#000"/>
<rect x="125.5" y="163.5" width="6.0" height="6.0" fill="#000"/>
<rect x="167.5" y="191.5" width="6.0" height="6.0" fill="#000"/>
<rect x="247.5" y="176.5" width="6.0" height="6.0" fill="#000"/>
<rect x="83.5" y="180.5" width="6.0" height="6.0" fill="#000"/>
<rect x="455.5" y="180.5" width="6.0" height="6.0" fill="#000"/>
<rect x="205.5" y="178.5" width="6.0" height="6.0" fill="#000"/>
<rect x="323.5" y="134.5" width="6.0" height="6.0" fill="#000"/>
<rect x="85.5" y="181.5" width="6.0" height="6.0" fill="#000"/>
<rect x="386.5" y="151.5" width="6.0" height="6.0" fill="#000"/>
<path d="M158.5 173.4L161.6 176.5L158.5 179.6L155.4 176.5Z" fill="#800080"/>
<path d="M175.5 177.4L178.6 180.5L175.5 183.6L172.4 180.5Z" fill="#800080"/>
<path d="M463.5 179.4L466.6 182.5L463.5 185.6L460.4 182.5Z" fill="#800080"/>
<path d="M306.5 155.4L309.6 158.5L306.5 161.6L303.4 158.5Z" fill="#800080"/>
<path d="M282.5 141.4L285.6 144.5L282.5 147.6L279.4 144.5Z" fill="#800080"/>
<path d="M280.5 155.4L283.6 158.5L280.5 161.6L277.4 158.5Z" fill="#800080"/>
<path d="M470.5 177.4L473.6 180.5L470.5 183.6L467.4 180.5Z" fill="#800080"/>
<path d="M277.5 149.4L280.6 152.5L277.5 155.6L274.4 152.5Z" fill="#800080"/>
<path d="M372.5 152.4L375.6 155.5L372.5 158.6L369.4 155.5Z" fill="#800080"/>
<path d="M456.5 167.4L459.6 170.5L456.5 173.6L453.4 170.5Z" fill="#800080"/>
<path d="M95.5 174.4L98.6 177.5L95.5 180.6L92.4 177.5Z" fill="#800080"/>
<path d="M199.5 180.4L202.6 183.5L199.5 186.6L196.4 183.5Z" fill="#800080"/>
<path d="M243.5 182.4L246.6 185.5L243.5 188.6L240.4 185.5Z" fill="#800080"/>
<path d="M467.5 177.4L470.6 180.5L467.5 183.6L464.4 180.5Z" fill="#800080"/>
<path d="M351.5 162.4L354.6 165.5L351.5 168.6L348.4 165.5Z" fill="#800080"/>
<path d="M118.5 177.4L121.6 180.5L118.5 183.6L115.4 180.5Z" fill="#800080"/>
<path d="M248.5 179.4L251.6 182.5L248.5 185.6L245.4 182.5Z" fill="#800080"/>
<path d="M148.5 173.4L151.6 176.5L148.5 179.6L145.4 176.5Z" fill="#800080"/>
<path d="M302.5 151.4L305.6 154.5L302.5 157.6L299.4 154.5Z" fill="#800080"/>
<path d="M324.5 134.4L327.6 137.5L324.5 140.6L321.4 137.5Z" fill="#800080"/>
<path d="M158.5 182.4L161.6 185.5L158.5 188.6L155.4 185.5Z" fill="#800080"/>
<path d="M242.5 179.4L245.6 182.5L242.5 185.6L239.4 182.5Z" fill="#800080"/>
<path d="M165.5 190.4L168.6 193.5L165.5 196.6L162.4 193.5Z" fill="#800080"/>
<path d="M412.5 158.4L415.6 161.5L412.5 164.6L409.4 161.5Z" fill="#800080"/>
<path d="M285.5 158.4L288.6 161.5L285.5 164.6L282.4 161.5Z" fill="#800080"/>
<path d="M324.5 149.4L327.6 152.5L324.5 155.6L321.4 152.5Z" fill="#800080"/>
<path d="M313.5 135.4L316.6 138.5L313.5 141.6L310.4 138.5Z" fill="#800080"/>
<path d="M147.5 174.4L150.6 177.5L147.5 180.6L144.4 177.5Z" fill="#800080"/>
<path d="M296.5 157.4L299.6 160.5L296.5 163.6L293.4 160.5Z" fill="#800080"/>
<path d="M149.5 177.4L152.6 180.5L149.5 183.6L146.4 180.5Z" fill="#800080"/>
<path d="M285.5 141.4L288.6 144.5L285.5 147.6L282.4 144.5Z" fill="#800080"/>
<path d="M315.5 137.4L318.6 140.5L315.5 143.6L312.4 140.5Z" fill="#800080"/>
<path d="M230.5 177.4L233.6 180.5L230.5 183.6L227.4 180.5Z" fill="#800080"/>
<path d="M300.5 139.4L303.6 142.5L300.5 145.6L297.4 142.5Z" fill="#800080"/>
<path d="M359.5 143.4L362.6 146.5L359.5 149.6L356.4 146.5Z" fill="#800080"/>
<path d="M132.5 168.4L135.6 171.5L132.5 174.6L129.4 171.5Z" fill="#800080"/>
<path d="M121.5 166.4L124.6 169.5L121.5 172.6L118.4 169.5Z" fill="#800080"/>
<path d="M222.5 179.4L225.6 182.5L222.5 185.6L219.4 182.5Z" fill="#800080"/>
<path d="M450.5 161.4L453.6 164.5L450.5 167.6L447.4 164.5Z" fill="#800080"/>
<path d="M78.5 177.4L81.6 180.5L78.5 183.6L75.4 180.5Z" fill="#800080"/>
<path d="M312.5 134.4L315.6 137.5L312.5 140.6L309.4 137.5Z" fill="#800080"/>
<path d="M273.5 149.4L276.6 152.5L273.5 155.6L270.4 152.5Z" fill="#800080"/>
<path d="M241.5 188.4L244.6 191.5L241.5 194.6L238.4 191.5Z" fill="#800080"/>
<path d="M418.5 154.4L421.6 157.5L418.5 160.6L415.4 157.5Z" fill="#800080"/>
<path d="M254.5 157.4L257.6 160.5L254.5 163.6L251.4 160.5Z" fill="#800080"/>
<path d="M281.5 148.4L284.6 151.5L281.5 154.6L278.4 151.5Z" fill="#800080"/>
<path d="M396.5 155.4L399.6 158.5L396.5 161.6L393.4 158.5Z" fill="#800080"/>
<path d="M459.5 181.4L462.6 184.5L459.5 187.6L456.4 184.5Z" fill="#800080"/>
<path d="M263.5 175.4L266.6 178.5L263.5 181.6L260.4 178.5Z" fill="#800080"/>
<path d="M340.5 155.4L343.6 158.5L340.5 161.6L337.4 158.5Z" fill="#800080"/>
<path d="M288.5 148.4L291.6 151.5L288.5 154.6L285.4 151.5Z" fill="#800080"/>
<path d="M385.5 172.4L388.6 175.5L385.5 178.6L382.4 175.5Z" fill="#800080"/>
<path d="M230.5 160.4L233.6 163.5L230.5 166.6L227.4 163.5Z" fill="#800080"/>
<path d="M128.5 168.4L131.6 171.5L128.5 174.6L125.4 171.5Z" fill="#800080"/>
<path d="M143.5 174.4L146.6 177.5L143.5 180.6L140.4 177.5Z" fill="#800080"/>
<path d="M346.5 155.4L349.6 158.5L346.5 161.6L343.4 158.5Z" fill="#800080"/>
<path d="M208.5 169.4L211.6 172.5L208.5 175.6L205.4 172.5Z" fill="#800080"/>
<path d="M416.5 167.4L419.6 170.5L416.5 173.6L413.4 170.5Z" fill="#800080"/>
<path d="M303.5 131.4L306.6 134.5L303.5 137.6L300.4 134.5Z" fill="#800080"/>
<path d="M393.5 164.4L396.6 167.5L393.5 170.6L390.4 167.5Z" fill="#800080"/>
<path d="M373.5 148.4L376.6 151.5L373.5 154.6L370.4 151.5Z" fill="#800080"/>
<path d="M373.5 161.4L376.6 164.5L373.5 167.6L370.4 164.5Z" fill="#800080"/>
<path d="M447.5 181.4L450.6 184.5L447.5 187.6L444.4 184.5Z" fill="#800080"/>
<path d="M339.5 149.4L342.6 152.5L339.5 155.6L336.4 152.5Z" fill="#800080"/>
<path d="M332.5 134.4L335.6 137.5L332.5 140.6L329.4 137.5Z" fill="#800080"/>
<path d="M281.5 154.4L284.6 157.5L281.5 160.6L278.4 157.5Z" fill="#800080"/>
<path d="M344.5 160.4L347.6 163.5L344.5 166.6L341.4 163.5Z" fill="#800080"/>
<path d="M199.5 181.4L202.6 184.5L199.5 187.6L196.4 184.5Z" fill="#800080"/>
<path d="M102.5 163.4L105.6 166.5L102.5 169.6L99.4 166.5Z" fill="#800080"/>
<path d="M122.5 164.4L125.6 167.5L122.5 170.6L119.4 167.5Z" fill="#800080"/>
<path d="M203.5 175.4L206.6 178.5L203.5 181.6L200.4 178.5Z" fill="#800080"/>
<path d="M357.5 160.4L360.6 163.5L357.5 166.6L354.4 163.5Z" fill="#800080"/>
<path d="M243.5 181.5V189.5M241.3 181.5h4.4M241.3 189.5h4.4" stroke="#ff2020"/>
<path d="M84.5 174.5V180.5M82.3 174.5h4.4M82.3 180.5h4.4" stroke="#ff2020"/>
<path d="M179.5 173.5V187.5M177.3 173.5h4.4M177.3 187.5h4.4" stroke="#ff2020"/>
<path d="M372.5 150.5V163.5M370.3 150.5h4.4M370.3 163.5h4.4" stroke="#ff2020"/>
<path d="M178.5 173.5V188.5M176.3 173.5h4.4M176.3 188.5h4.4" stroke="#ff2020"/>
<path d="M365.5 149.5V169.5M363.3 149.5h4.4M363.3 169.5h4.4" stroke="#ff2020"/>
<path d="M345.5 154.5V159.5M343.3 154.5h4.4M343.3 159.5h4.4" stroke="#ff2020"/>
<path d="M253.5 157.5V172.5M251.3 157.5h4.4M251.3 172.5h4.4" stroke="#ff2020"/>
<path d="M330.5 136.5V144.5M328.3 136.5h4.4M328.3 144.5h4.4" stroke="#ff2020"/>
<path d="M339.5 161.5V167.5M337.3 161.5h4.4M337.3 167.5h4.4" stroke="#ff2020"/>
<path d="M338.5 159.5V168.5M336.3 159.5h4.4M336.3 168.5h4.4" stroke="#ff2020"/>
<path d="M356.5 147.5V157.5M354.3 147.5h4.4M354.3 157.5h4.4" stroke="#ff2020"/>
<path d="M311.5 143.5V152.5M309.3 143.5h4.4M309.3 152.5h4.4" stroke="#ff2020"/>
<path d="M222.5 176.5V184.5M220.3 176.5h4.4M220.3 184.5h4.4" stroke="#ff2020"/>
<path d="M280.5 151.5V159.5M278.3 151.5h4.4M278.3 159.5h4.4" stroke="#ff2020"/>
<path d="M262.5 152.5V161.5M260.3 152.5h4.4M260.3 161.5h4.4" stroke="#ff2020"/>
<path d="M344.5 157.5V170.5M342.3 157.5h4.4M342.3 170.5h4.4" stroke="#ff2020"/>
<path d="M213.5 168.5V183.5M211.3 168.5h4.4M211.3 183.5h4.4" stroke="#ff2020"/>
<path d="M425.5 162.5V170.5M423.3 162.5h4.4M423.3 170.5h4.4" stroke="#ff2020"/>
<path d="M342.5 159.5V172.5M340.3 159.5h4.4M340.3 172.5h4.4" stroke="#ff2020"/>
<path d="M433.5 177.5V192.5M431.3 177.5h4.4M431.3 192.5h4.4" stroke="#ff2020"/>
<path d="M198.5 174.5V200.5M196.3 174.5h4.4M196.3 200.5h4.4" stroke="#ff2020"/>
<path d="M312.5 133.5V148.5M310.3 133.5h4.4M310.3 148.5h4.4" stroke="#ff2020"/>
<path d="M357.5 149.5V163.5M355.3 149.5h4.4M355.3 163.5h4.4" stroke="#ff2020"/>
<path d="M394.5 154.5V160.5M392.3 154.5h4.4M392.3 160.5h4.4" stroke="#ff2020"/>
<path d="M396.5 162.5V168.5M394.3 162.5h4.4M394.3 168.5h4.4" stroke="#ff2020"/>
<path d="M273.5 157.5V165.5M271.3 157.5h4.4M271.3 165.5h4.4" stroke="#ff2020"/>
<path d="M235.5 157.5V171.5M233.3 157.5h4.4M233.3 171.5h4.4" stroke="#ff2020"/>
<path d="M224.5 186.5V202.5M222.3 186.5h4.4M222.3 202.5h4.4" stroke="#ff2020"/>
<path d="M324.5 126.5V142.5M322.3 126.5h4.4M322.3 142.5h4.4" stroke="#ff2020"/>
<path d="M91.5 163.5V170.5M89.3 163.5h4.4M89.3 170.5h4.4" stroke="#ff2020"/>
<path d="M410.5 172.5V187.5M408.3 172.5h4.4M408.3 187.5h4.4" stroke="#ff2020"/>
<path d="M298.5 141.5V147.5M296.3 141.5h4.4M296.3 147.5h4.4" stroke="#ff2020"/>
<path d="M292.5 152.5V168.5M290.3 152.5h4.4M290.3 168.5h4.4" stroke="#ff2020"/>
<path d="M392.5 139.5V154.5M390.3 139.5h4.4M390.3 154.5h4.4" stroke="#ff2020"/>
<path d="M267.5 170.5V182.5M265.3 170.5h4.4M265.3 182.5h4.4" stroke="#ff2020"/>
<path d="M304.5 151.5V165.5M302.3 151.5h4.4M302.3 165.5h4.4" stroke="#ff2020"/>
<path d="M129.5 164.5V175.5M127.3 164.5h4.4M127.3 175.5h4.4" stroke="#ff2020"/>
<path d="M224.5 168.5V175.5M222.3 168.5h4.4M222.3 175.5h4.4" stroke="#ff2020"/>
<path d="M309.5 154.5V167.5M307.3 154.5h4.4M307.3 167.5h4.4" stroke="#ff2020"/>
<path d="M324.5 140.5V151.5M322.3 140.5h4.4M322.3 151.5h4.4" stroke="#ff2020"/>
<path d="M122.5 166.5V176.5M120.3 166.5h4.4M120.3 176.5h4.4" stroke="#ff2020"/>
<path d="M301.5 146.5V159.5M299.3 146.5h4.4M299.3 159.5h4.4" stroke="#ff2020"/>
<path d="M387.5 165.5V178.5M385.3 165.5h4.4M385.3 178.5h4.4" stroke="#ff2020"/>
<path d="M264.5 172.5V178.5M262.3 172.5h4.4M262.3 178.5h4.4" stroke="#ff2020"/>
<path d="M341.5 151.5V164.5M339.3 151.5h4.4M339.3 164.5h4.4" stroke="#ff2020"/>
<path d="M439.5 164.5V174.5M437.3 164.5h4.4M437.3 174.5h4.4" stroke="#ff2020"/>
<path d="M460.5 176.5V189.5M458.3 176.5h4.4M458.3 189.5h4.4" stroke="#ff2020"/>
<path d="M219.5 180.5V193.5M217.3 180.5h4.4M217.3 193.5h4.4" stroke="#ff2020"/>
<path d="M282.5 140.5V153.5M280.3 140.5h4.4M280.3 153.5h4.4" stroke="#ff2020"/>
<path d="M378.5 146.5V154.5M376.3 146.5h4.4M376.3 154.5h4.4" stroke="#ff2020"/>
<path d="M249.5 156.5V170.5M247.3 156.5h4.4M247.3 170.5h4.4" stroke="#ff2020"/>
<path d="M297.5 150.5V157.5M295.3 150.5h4.4M295.3 157.5h4.4" stroke="#ff2020"/>
<path d="M334.5 144.5V152.5M332.3 144.5h4.4M332.3 152.5h4.4" stroke="#ff2020"/>
<path d="M354.5 162.5V175.5M352.3 162.5h4.4M352.3 175.5h4.4" stroke="#ff2020"/>
<path d="M97.5 165.5V171.5M95.3 165.5h4.4M95.3 171.5h4.4" stroke="#ff2020"/>
<path d="M338.5 145.5V158.5M336.3 145.5h4.4M336.3 158.5h4.4" stroke="#ff2020"/>
<path d="M318.5 153.5V161.5M316.3 153.5h4.4M316.3 161.5h4.4" stroke="#ff2020"/>
<path d="M258.5 157.5V167.5M256.3 157.5h4.4M256.3 167.5h4.4" stroke="#ff2020"/>
<path d="M158.5 173.5V178.5M156.3 173.5h4.4M156.3 178.5h4.4" stroke="#902090"/>
<path d="M175.5 177.5V184.5M173.3 177.5h4.4M173.3 184.5h4.4" stroke="#902090"/>
<path d="M463.5 172.5V190.5M461.3 172.5h4.4M461.3 190.5h4.4" stroke="#902090"/>
<path d="M306.5 150.5V166.5M304.3 150.5h4.4M304.3 166.5h4.4" stroke="#902090"/>
<path d="M282.5 140.5V147.5M280.3 140.5h4.4M280.3 147.5h4.4" stroke="#902090"/>
<path d="M280.5 155.5V162.5M278.3 155.5h4.4M278.3 162.5h4.4" stroke="#902090"/>
<path d="M470.5 171.5V188.5M468.3 171.5h4.4M468.3 188.5h4.4" stroke="#902090"/>
<path d="M277.5 144.5V161.5M275.3 144.5h4.4M275.3 161.5h4.4" stroke="#902090"/>
<path d="M372.5 150.5V160.5M370.3 150.5h4.4M370.3 160.5h4.4" stroke="#902090"/>
<path d="M456.5 163.5V178.5M454.3 163.5h4.4M454.3 178.5h4.4" stroke="#902090"/>
<path d="M95.5 169.5V184.5M93.3 169.5h4.4M93.3 184.5h4.4" stroke="#902090"/>
<path d="M199.5 178.5V188.5M197.3 178.5h4.4M197.3 188.5h4.4" stroke="#902090"/>
<path d="M243.5 178.5V192.5M241.3 178.5h4.4M241.3 192.5h4.4" stroke="#902090"/>
<path d="M467.5 173.5V187.5M465.3 173.5h4.4M465.3 187.5h4.4" stroke="#902090"/>
<path d="M351.5 159.5V172.5M349.3 159.5h4.4M349.3 172.5h4.4" stroke="#902090"/>
<path d="M118.5 174.5V185.5M116.3 174.5h4.4M116.3 185.5h4.4" stroke="#902090"/>
<path d="M248.5 176.5V188.5M246.3 176.5h4.4M246.3 188.5h4.4" stroke="#902090"/>
<path d="M148.5 169.5V182.5M146.3 169.5h4.4M146.3 182.5h4.4" stroke="#902090"/>
<path d="M302.5 150.5V158.5M300.3 150.5h4.4M300.3 158.5h4.4" stroke="#902090"/>
<path d="M324.5 132.5V142.5M322.3 132.5h4.4M322.3 142.5h4.4" stroke="#902090"/>
<path d="M158.5 178.5V191.5M156.3 178.5h4.4M156.3 191.5h4.4" stroke="#902090"/>
<path d="M242.5 178.5V186.5M240.3 178.5h4.4M240.3 186.5h4.4" stroke="#902090"/>
<path d="M165.5 187.5V200.5M163.3 187.5h4.4M163.3 200.5h4.4" stroke="#902090"/>
<path d="M412.5 157.5V165.5M410.3 157.5h4.4M410.3 165.5h4.4" stroke="#902090"/>
<path d="M285.5 154.5V169.5M283.3 154.5h4.4M283.3 169.5h4.4" stroke="#902090"/>
<path d="M324.5 144.5V159.5M322.3 144.5h4.4M322.3 159.5h4.4" stroke="#902090"/>
<path d="M313.5 131.5V145.5M311.3 131.5h4.4M311.3 145.5h4.4" stroke="#902090"/>
<path d="M147.5 171.5V182.5M145.3 171.5h4.4M145.3 182.5h4.4" stroke="#902090"/>
<path d="M296.5 146.5V176.5M294.3 146.5h4.4M294.3 176.5h4.4" stroke="#902090"/>
<path d="M149.5 177.5V183.5M147.3 177.5h4.4M147.3 183.5h4.4" stroke="#902090"/>
<path d="M285.5 139.5V148.5M283.3 139.5h4.4M283.3 148.5h4.4" stroke="#902090"/>
<path d="M315.5 135.5V145.5M313.3 135.5h4.4M313.3 145.5h4.4" stroke="#902090"/>
<path d="M230.5 176.5V185.5M228.3 176.5h4.4M228.3 185.5h4.4" stroke="#902090"/>
<path d="M300.5 139.5V145.5M298.3 139.5h4.4M298.3 145.5h4.4" stroke="#902090"/>
<path d="M359.5 135.5V157.5M357.3 135.5h4.4M357.3 157.5h4.4" stroke="#902090"/>
<path d="M132.5 164.5V178.5M130.3 164.5h4.4M130.3 178.5h4.4" stroke="#902090"/>
<path d="M121.5 165.5V172.5M119.3 165.5h4.4M119.3 172.5h4.4" stroke="#902090"/>
<path d="M222.5 177.5V188.5M220.3 177.5h4.4M220.3 188.5h4.4" stroke="#902090"/>
<path d="M450.5 161.5V167.5M448.3 161.5h4.4M448.3 167.5h4.4" stroke="#902090"/>
<path d="M78.5 177.5V183.5M76.3 177.5h4.4M76.3 183.5h4.4" stroke="#902090"/>
<path d="M312.5 134.5V140.5M310.3 134.5h4.4M310.3 140.5h4.4" stroke="#902090"/>
<path d="M273.5 147.5V158.5M271.3 147.5h4.4M271.3 158.5h4.4" stroke="#902090"/>
<path d="M241.5 186.5V195.5M239.3 186.5h4.4M239.3 195.5h4.4" stroke="#902090"/>
<path d="M418.5 150.5V165.5M416.3 150.5h4.4M416.3 165.5h4.4" stroke="#902090"/>
<path d="M254.5 152.5V169.5M252.3 152.5h4.4M252.3 169.5h4.4" stroke="#902090"/>
<path d="M281.5 143.5V158.5M279.3 143.5h4.4M279.3 158.5h4.4" stroke="#902090"/>
<path d="M396.5 152.5V165.5M394.3 152.5h4.4M394.3 165.5h4.4" stroke="#902090"/>
<path d="M459.5 173.5V194.5M457.3 173.5h4.4M457.3 194.5h4.4" stroke="#902090"/>
<path d="M263.5 173.5V183.5M261.3 173.5h4.4M261.3 183.5h4.4" stroke="#902090"/>
<path d="M340.5 155.5V161.5M338.3 155.5h4.4M338.3 161.5h4.4" stroke="#902090"/>
<path d="M288.5 146.5V156.5M286.3 146.5h4.4M286.3 156.5h4.4" stroke="#902090"/>
<path d="M385.5 169.5V181.5M383.3 169.5h4.4M383.3 181.5h4.4" stroke="#902090"/>
<path d="M230.5 157.5V168.5M228.3 157.5h4.4M228.3 168.5h4.4" stroke="#902090"/>
<path d="M128.5 166.5V176.5M126.3 166.5h4.4M126.3 176.5h4.4" stroke="#902090"/>
<path d="M143.5 170.5V185.5M141.3 170.5h4.4M141.3 185.5h4.4" stroke="#902090"/>
<path d="M346.5 151.5V166.5M344.3 151.5h4.4M344.3 166.5h4.4" stroke="#902090"/>
<path d="M208.5 165.5V179.5M206.3 165.5h4.4M206.3 179.5h4.4" stroke="#902090"/>
<path d="M416.5 162.5V179.5M414.3 162.5h4.4M414.3 179.5h4.4" stroke="#902090"/>
<path d="M303.5 127.5V141.5M301.3 127.5h4.4M301.3 141.5h4.4" stroke="#902090"/>
<path d="M393.5 159.5V175.5M391.3 159.5h4.4M391.3 175.5h4.4" stroke="#902090"/>
<path d="M373.5 143.5V159.5M371.3 143.5h4.4M371.3 159.5h4.4" stroke="#902090"/>
<path d="M373.5 157.5V170.5M371.3 157.5h4.4M371.3 170.5h4.4" stroke="#902090"/>
<path d="M447.5 179.5V189.5M445.3 179.5h4.4M445.3 189.5h4.4" stroke="#902090"/>
<path d="M339.5 146.5V157.5M337.3 146.5h4.4M337.3 157.5h4.4" stroke="#902090"/>
<path d="M332.5 134.5V141.5M330.3 134.5h4.4M330.3 141.5h4.4" stroke="#902090"/>
<path d="M281.5 151.5V163.5M279.3 151.5h4.4M279.3 163.5h4.4" stroke="#902090"/>
<path d="M344.5 156.5V169.5M342.3 156.5h4.4M342.3 169.5h4.4" stroke="#902090"/>
<path d="M199.5 179.5V190.5M197.3 179.5h4.4M197.3 190.5h4.4" stroke="#902090"/>
<path d="M102.5 163.5V169.5M100.3 163.5h4.4M100.3 169.5h4.4" stroke="#902090"/>
<path d="M122.5 162.5V173.5M120.3 162.5h4.4M120.3 173.5h4.4" stroke="#902090"/>
<path d="M203.5 172.5V183.5M201.3 172.5h4.4M201.3 183.5h4.4" stroke="#902090"/>
<path d="M357.5 158.5V169.5M355.3 158.5h4.4M355.3 169.5h4.4" stroke="#902090"/>
<polyline points="76,178.0 79,178.2 82,178.4 85,178.6 88,178.9 91,178.9 94,178.7 97,178.5 100,178.3 103,178.1 106,177.8 109,177.2 112,176.6 115,176.0 118,174.3 121,172.6 124,171.8 127,171.4 130,171.0 133,171.4 136,171.9 139,172.4 142,173.4 145,174.7 148,176.0 151,178.4 154,180.7 157,182.0 160,182.8 163,183.5 166,184.0 169,184.0 172,184.0 175,184.0 178,183.7 181,183.4 184,183.1 187,182.8 190,182.5 193,182.2 196,181.9 199,181.6 202,181.3 205,181.0 208,180.7 211,180.5 214,180.5 217,180.5 220,180.5 223,180.0 226,179.6 229,179.1 232,178.7 235,178.0 238,177.3 241,176.7 244,176.0 247,175.1 250,173.8 253,172.5 256,171.2 259,169.9 262,168.6 265,167.2 268,165.8 271,164.4 274,162.9 277,161.0 280,159.2 283,157.3 286,155.5 289,153.9 292,152.3 295,150.7 298,149.0 301,148.0 304,147.2 307,146.3 310,145.5 313,144.9 316,144.8 319,144.6 322,144.9 325,145.5 328,146.1 331,146.8 334,147.7 337,148.6 340,149.5 343,150.4 346,151.3 349,152.1 352,152.9 355,153.7 358,154.5 361,155.3 364,156.1 367,156.9 370,157.7 373,158.5 376,159.1 379,159.5 382,159.9 385,160.3 388,160.7 391,161.3 394,162.1 397,162.9 400,163.7 403,164.5 406,165.4 409,166.6 412,167.8 415,169.0 418,170.5 421,172.0 424,173.5 427,174.4 430,175.0 433,175.6 436,176.2 439,176.8 442,177.2 445,177.5 448,177.8 451,178.1 454,178.4 457,178.4 460,178.3 463,178.2 466,178.1 469,178.0" fill="none" stroke="#000" stroke-width="1.5"/>
<path d="M328.5 138.5V143.5M326.3 138.5h4.4M326.3 143.5h4.4" stroke="#202090"/>
<path d="M168.5 179.5V186.5M166.3 179.5h4.4M166.3 186.5h4.4" stroke="#202090"/>
<path d="M459.5 174.5V189.5M457.3 174.5h4.4M457.3 189.5h4.4" stroke="#202090"/>
<path d="M381.5 153.5V168.5M379.3 153.5h4.4M379.3 168.5h4.4" stroke="#202090"/>
<path d="M139.5 167.5V175.5M137.3 167.5h4.4M137.3 175.5h4.4" stroke="#202090"/>
<path d="M361.5 133.5V142.5M359.3 133.5h4.4M359.3 142.5h4.4" stroke="#202090"/>
<path d="M181.5 169.5V176.5M179.3 169.5h4.4M179.3 176.5h4.4" stroke="#202090"/>
<path d="M117.5 173.5V185.5M115.3 173.5h4.4M115.3 185.5h4.4" stroke="#202090"/>
<path d="M429.5 171.5V176.5M427.3 171.5h4.4M427.3 176.5h4.4" stroke="#202090"/>
<path d="M120.5 161.5V172.5M118.3 161.5h4.4M118.3 172.5h4.4" stroke="#202090"/>
<path d="M136.5 171.5V179.5M134.3 171.5h4.4M134.3 179.5h4.4" stroke="#202090"/>
<path d="M164.5 181.5V189.5M162.3 181.5h4.4M162.3 189.5h4.4" stroke="#202090"/>
<path d="M154.5 176.5V189.5M152.3 176.5h4.4M152.3 189.5h4.4" stroke="#202090"/>
<path d="M168.5 176.5V190.5M166.3 176.5h4.4M166.3 190.5h4.4" stroke="#202090"/>
<path d="M260.5 160.5V167.5M258.3 160.5h4.4M258.3 167.5h4.4" stroke="#202090"/>
<path d="M270.5 157.5V170.5M268.3 157.5h4.4M268.3 170.5h4.4" stroke="#202090"/>
<path d="M220.5 172.5V185.5M218.3 172.5h4.4M218.3 185.5h4.4" stroke="#202090"/>
<path d="M400.5 168.5V176.5M398.3 168.5h4.4M398.3 176.5h4.4" stroke="#202090"/>
<path d="M81.5 167.5V184.5M79.3 167.5h4.4M79.3 184.5h4.4" stroke="#202090"/>
<path d="M449.5 182.5V189.5M447.3 182.5h4.4M447.3 189.5h4.4" stroke="#202090"/>
<path d="M396.5 170.5V179.5M394.3 170.5h4.4M394.3 179.5h4.4" stroke="#202090"/>
<path d="M387.5 141.5V157.5M385.3 141.5h4.4M385.3 157.5h4.4" stroke="#202090"/>
<path d="M343.5 136.5V149.5M341.3 136.5h4.4M341.3 149.5h4.4" stroke="#202090"/>
<path d="M82.5 171.5V191.5M80.3 171.5h4.4M80.3 191.5h4.4" stroke="#202090"/>
<path d="M290.5 160.5V168.5M288.3 160.5h4.4M288.3 168.5h4.4" stroke="#202090"/>
<path d="M272.5 170.5V180.5M270.3 170.5h4.4M270.3 180.5h4.4" stroke="#202090"/>
<path d="M234.5 173.5V189.5M232.3 173.5h4.4M232.3 189.5h4.4" stroke="#202090"/>
<path d="M137.5 165.5V175.5M135.3 165.5h4.4M135.3 175.5h4.4" stroke="#202090"/>
<path d="M181.5 179.5V195.5M179.3 179.5h4.4M179.3 195.5h4.4" stroke="#202090"/>
<path d="M282.5 154.5V176.5M280.3 154.5h4.4M280.3 176.5h4.4" stroke="#202090"/>
<path d="M115.5 178.5V186.5M113.3 178.5h4.4M113.3 186.5h4.4" stroke="#202090"/>
<path d="M97.5 179.5V195.5M95.3 179.5h4.4M95.3 195.5h4.4" stroke="#202090"/>
<path d="M459.5 169.5V175.5M457.3 169.5h4.4M457.3 175.5h4.4" stroke="#202090"/>
<path d="M221.5 168.5V176.5M219.3 168.5h4.4M219.3 176.5h4.4" stroke="#202090"/>
<path d="M142.5 170.5V181.5M140.3 170.5h4.4M140.3 181.5h4.4" stroke="#202090"/>
<path d="M247.5 162.5V168.5M245.3 162.5h4.4M245.3 168.5h4.4" stroke="#202090"/>
<path d="M138.5 167.5V173.5M136.3 167.5h4.4M136.3 173.5h4.4" stroke="#202090"/>
<path d="M187.5 181.5V191.5M185.3 181.5h4.4M185.3 191.5h4.4" stroke="#202090"/>
<path d="M176.5 169.5V177.5M174.3 169.5h4.4M174.3 177.5h4.4" stroke="#202090"/>
<path d="M179.5 171.5V202.5M177.3 171.5h4.4M177.3 202.5h4.4" stroke="#202090"/>
<path d="M288.5 150.5V162.5M286.3 150.5h4.4M286.3 162.5h4.4" stroke="#202090"/>
<path d="M99.5 174.5V182.5M97.3 174.5h4.4M97.3 182.5h4.4" stroke="#202090"/>
<path d="M357.5 144.5V156.5M355.3 144.5h4.4M355.3 156.5h4.4" stroke="#202090"/>
<path d="M442.5 173.5V184.5M440.3 173.5h4.4M440.3 184.5h4.4" stroke="#202090"/>
<path d="M374.5 149.5V160.5M372.3 149.5h4.4M372.3 160.5h4.4" stroke="#202090"/>
<path d="M415.5 165.5V174.5M413.3 165.5h4.4M413.3 174.5h4.4" stroke="#202090"/>
<path d="M286.5 148.5V156.5M284.3 148.5h4.4M284.3 156.5h4.4" stroke="#202090"/>
<path d="M191.5 171.5V179.5M189.3 171.5h4.4M189.3 179.5h4.4" stroke="#202090"/>
<path d="M267.5 170.5V180.5M265.3 170.5h4.4M265.3 180.5h4.4" stroke="#202090"/>
<path d="M193.5 167.5V173.5M191.3 167.5h4.4M191.3 173.5h4.4" stroke="#202090"/>
<path d="M88.5 169.5V185.5M86.3 169.5h4.4M86.3 185.5h4.4" stroke="#202090"/>
<path d="M304.5 127.5V152.5M302.3 127.5h4.4M302.3 152.5h4.4" stroke="#202090"/>
<path d="M404.5 151.5V156.5M402.3 151.5h4.4M402.3 156.5h4.4" stroke="#202090"/>
<path d="M377.5 147.5V158.5M375.3 147.5h4.4M375.3 158.5h4.4" stroke="#202090"/>
<path d="M185.5 167.5V182.5M183.3 167.5h4.4M183.3 182.5h4.4" stroke="#202090"/>
<path d="M149.5 175.5V186.5M147.3 175.5h4.4M147.3 186.5h4.4" stroke="#202090"/>
<path d="M99.5 170.5V183.5M97.3 170.5h4.4M97.3 183.5h4.4" stroke="#202090"/>
<path d="M324.5 147.5V157.5M322.3 147.5h4.4M322.3 157.5h4.4" stroke="#202090"/>
<path d="M152.5 177.5V186.5M150.3 177.5h4.4M150.3 186.5h4.4" stroke="#202090"/>
<path d="M153.5 171.5V185.5M151.3 171.5h4.4M151.3 185.5h4.4" stroke="#202090"/>
<path d="M132.5 171.5V177.5M130.3 171.5h4.4M130.3 177.5h4.4" stroke="#202090"/>
<path d="M106.5 160.5V174.5M104.3 160.5h4.4M104.3 174.5h4.4" stroke="#202090"/>
<path d="M309.5 139.5V160.5M307.3 139.5h4.4M307.3 160.5h4.4" stroke="#202090"/>
<path d="M168.5 177.5V188.5M166.3 177.5h4.4M166.3 188.5h4.4" stroke="#202090"/>
<path d="M134.5 158.5V180.5M132.3 158.5h4.4M132.3 180.5h4.4" stroke="#202090"/>
<path d="M168.5 171.5V181.5M166.3 171.5h4.4M166.3 181.5h4.4" stroke="#202090"/>
<path d="M111.5 165.5V172.5M109.3 165.5h4.4M109.3 172.5h4.4" stroke="#202090"/>
<path d="M203.5 168.5V174.5M201.3 168.5h4.4M201.3 174.5h4.4" stroke="#208020"/>
<path d="M421.5 161.5V173.5M419.3 161.5h4.4M419.3 173.5h4.4" stroke="#208020"/>
<path d="M153.5 169.5V184.5M151.3 169.5h4.4M151.3 184.5h4.4" stroke="#208020"/>
<path d="M144.5 168.5V179.5M142.3 168.5h4.4M142.3 179.5h4.4" stroke="#208020"/>
<path d="M264.5 171.5V187.5M262.3 171.5h4.4M262.3 187.5h4.4" stroke="#208020"/>
<path d="M137.5 170.5V177.5M135.3 170.5h4.4M135.3 177.5h4.4" stroke="#208020"/>
<path d="M104.5 181.5V194.5M102.3 181.5h4.4M102.3 194.5h4.4" stroke="#208020"/>
<path d="M372.5 156.5V170.5M370.3 156.5h4.4M370.3 170.5h4.4" stroke="#208020"/>
<path d="M99.5 166.5V179.5M97.3 166.5h4.4M97.3 179.5h4.4" stroke="#208020"/>
<path d="M461.5 167.5V175.5M459.3 167.5h4.4M459.3 175.5h4.4" stroke="#208020"/>
<path d="M370.5 137.5V146.5M368.3 137.5h4.4M368.3 146.5h4.4" stroke="#208020"/>
<path d="M371.5 166.5V173.5M369.3 166.5h4.4M369.3 173.5h4.4" stroke="#208020"/>
<path d="M299.5 140.5V147.5M297.3 140.5h4.4M297.3 147.5h4.4" stroke="#208020"/>
<path d="M176.5 182.5V189.5M174.3 182.5h4.4M174.3 189.5h4.4" stroke="#208020"/>
<path d="M219.5 166.5V173.5M217.3 166.5h4.4M217.3 173.5h4.4" stroke="#208020"/>
<path d="M81.5 171.5V185.5M79.3 171.5h4.4M79.3 185.5h4.4" stroke="#208020"/>
<path d="M312.5 142.5V150.5M310.3 142.5h4.4M310.3 150.5h4.4" stroke="#208020"/>
<path d="M277.5 145.5V151.5M275.3 145.5h4.4M275.3 151.5h4.4" stroke="#208020"/>
<path d="M117.5 177.5V187.5M115.3 177.5h4.4M115.3 187.5h4.4" stroke="#208020"/>
<path d="M298.5 139.5V150.5M296.3 139.5h4.4M296.3 150.5h4.4" stroke="#208020"/>
<path d="M350.5 160.5V168.5M348.3 160.5h4.4M348.3 168.5h4.4" stroke="#208020"/>
<path d="M325.5 143.5V159.5M323.3 143.5h4.4M323.3 159.5h4.4" stroke="#208020"/>
<path d="M349.5 149.5V161.5M347.3 149.5h4.4M347.3 161.5h4.4" stroke="#208020"/>
<path d="M410.5 169.5V183.5M408.3 169.5h4.4M408.3 183.5h4.4" stroke="#208020"/>
<path d="M188.5 170.5V179.5M186.3 170.5h4.4M186.3 179.5h4.4" stroke="#208020"/>
<path d="M107.5 176.5V190.5M105.3 176.5h4.4M105.3 190.5h4.4" stroke="#208020"/>
<path d="M233.5 182.5V193.5M231.3 182.5h4.4M231.3 193.5h4.4" stroke="#208020"/>
<path d="M245.5 175.5V184.5M243.3 175.5h4.4M243.3 184.5h4.4" stroke="#208020"/>
<path d="M260.5 163.5V177.5M258.3 163.5h4.4M258.3 177.5h4.4" stroke="#208020"/>
<path d="M455.5 160.5V171.5M453.3 160.5h4.4M453.3 171.5h4.4" stroke="#208020"/>
<path d="M430.5 155.5V167.5M428.3 155.5h4.4M428.3 167.5h4.4" stroke="#208020"/>
<path d="M435.5 173.5V185.5M433.3 173.5h4.4M433.3 185.5h4.4" stroke="#208020"/>
<path d="M344.5 131.5V150.5M342.3 131.5h4.4M342.3 150.5h4.4" stroke="#208020"/>
<path d="M201.5 171.5V185.5M199.3 171.5h4.4M199.3 185.5h4.4" stroke="#208020"/>
<path d="M238.5 157.5V170.5M236.3 157.5h4.4M236.3 170.5h4.4" stroke="#208020"/>
<path d="M126.5 162.5V170.5M124.3 162.5h4.4M124.3 170.5h4.4" stroke="#208020"/>
<path d="M95.5 172.5V199.5M93.3 172.5h4.4M93.3 199.5h4.4" stroke="#208020"/>
<path d="M219.5 180.5V190.5M217.3 180.5h4.4M217.3 190.5h4.4" stroke="#208020"/>
<path d="M329.5 156.5V166.5M327.3 156.5h4.4M327.3 166.5h4.4" stroke="#208020"/>
<path d="M343.5 129.5V136.5M341.3 129.5h4.4M341.3 136.5h4.4" stroke="#208020"/>
<path d="M401.5 157.5V168.5M399.3 157.5h4.4M399.3 168.5h4.4" stroke="#208020"/>
<path d="M147.5 172.5V183.5M145.3 172.5h4.4M145.3 183.5h4.4" stroke="#208020"/>
<path d="M425.5 156.5V164.5M423.3 156.5h4.4M423.3 164.5h4.4" stroke="#208020"/>
<path d="M215.5 178.5V193.5M213.3 178.5h4.4M213.3 193.5h4.4" stroke="#208020"/>
<path d="M280.5 154.5V163.5M278.3 154.5h4.4M278.3 163.5h4.4" stroke="#208020"/>
<path d="M214.5 188.5V198.5M212.3 188.5h4.4M212.3 198.5h4.4" stroke="#208020"/>
<path d="M408.5 164.5V172.5M406.3 164.5h4.4M406.3 172.5h4.4" stroke="#208020"/>
<path d="M380.5 149.5V157.5M378.3 149.5h4.4M378.3 157.5h4.4" stroke="#208020"/>
<path d="M398.5 149.5V165.5M396.3 149.5h4.4M396.3 165.5h4.4" stroke="#208020"/>
<path d="M171.5 177.5V184.5M169.3 177.5h4.4M169.3 184.5h4.4" stroke="#208020"/>
<path d="M254.5 157.5V166.5M252.3 157.5h4.4M252.3 166.5h4.4" stroke="#208020"/>
<path d="M238.5 178.5V186.5M236.3 178.5h4.4M236.3 186.5h4.4" stroke="#208020"/>
<path d="M91.5 171.5V178.5M89.3 171.5h4.4M89.3 178.5h4.4" stroke="#208020"/>
<path d="M372.5 139.5V149.5M370.3 139.5h4.4M370.3 149.5h4.4" stroke="#208020"/>
<path d="M367.5 163.5V172.5M365.3 163.5h4.4M365.3 172.5h4.4" stroke="#208020"/>
<path d="M198.5 165.5V177.5M196.3 165.5h4.4M196.3 177.5h4.4" stroke="#208020"/>
<path d="M323.5 155.5V162.5M321.3 155.5h4.4M321.3 162.5h4.4" stroke="#208020"/>
<path d="M396.5 142.5V153.5M394.3 142.5h4.4M394.3 153.5h4.4" stroke="#208020"/>
<path d="M452.5 173.5V181.5M450.3 173.5h4.4M450.3 181.5h4.4" stroke="#208020"/>
<path d="M86.5 165.5V174.5M84.3 165.5h4.4M84.3 174.5h4.4" stroke="#208020"/>
<path d="M160.5 174.5V185.5M158.3 174.5h4.4M158.3 185.5h4.4" stroke="#208020"/>
<path d="M210.5 180.5V193.5M208.3 180.5h4.4M208.3 193.5h4.4" stroke="#208020"/>
<path d="M367.5 167.5V177.5M365.3 167.5h4.4M365.3 177.5h4.4" stroke="#208020"/>
<path d="M93.5 166.5V174.5M91.3 166.5h4.4M91.3 174.5h4.4" stroke="#208020"/>
<path d="M141.5 167.5V175.5M139.3 167.5h4.4M139.3 175.5h4.4" stroke="#208020"/>
<path d="M314.5 152.5V160.5M312.3 152.5h4.4M312.3 160.5h4.4" stroke="#208020"/>
<path d="M205.5 182.5V192.5M203.3 182.5h4.4M203.3 192.5h4.4" stroke="#208020"/>
<path d="M466.5 154.5V177.5M464.3 154.5h4.4M464.3 177.5h4.4" stroke="#208020"/>
<path d="M368.5 142.5V156.5M366.3 142.5h4.4M366.3 156.5h4.4" stroke="#208020"/>
<path d="M114.5 167.5V173.5M112.3 167.5h4.4M112.3 173.5h4.4" stroke="#208020"/>
<path d="M219.5 158.5V170.5M217.3 158.5h4.4M217.3 170.5h4.4" stroke="#208020"/>
<path d="M470.5 157.5V172.5M468.3 157.5h4.4M468.3 172.5h4.4" stroke="#208020"/>
<path d="M434.5 158.5V167.5M432.3 158.5h4.4M432.3 167.5h4.4" stroke="#208020"/>
<path d="M250.5 165.5V173.5M248.3 165.5h4.4M248.3 173.5h4.4" stroke="#208020"/>
<path d="M416.5 154.5V161.5M414.3 154.5h4.4M414.3 161.5h4.4" stroke="#208020"/>
<path d="M392.5 155.5V167.5M390.3 155.5h4.4M390.3 167.5h4.4" stroke="#208020"/>
<path d="M110.5 167.5V177.5M108.3 167.5h4.4M108.3 177.5h4.4" stroke="#208020"/>
<path d="M330.5 156.5V169.5M328.3 156.5h4.4M328.3 169.5h4.4" stroke="#208020"/>
<path d="M127.5 162.5V183.5M125.3 162.5h4.4M125.3 183.5h4.4" stroke="#208020"/>
<path d="M119.5 165.5V173.5M117.3 165.5h4.4M117.3 173.5h4.4" stroke="#208020"/>
<path d="M81.5 181.5V192.5M79.3 181.5h4.4M79.3 192.5h4.4" stroke="#208020"/>
<path d="M104.5 166.5V180.5M102.3 166.5h4.4M102.3 180.5h4.4" stroke="#208020"/>
<path d="M249.5 158.5V164.5M247.3 158.5h4.4M247.3 164.5h4.4" stroke="#208020"/>
<path d="M215.5 155.5V183.5M213.3 155.5h4.4M213.3 183.5h4.4" stroke="#208020"/>
<path d="M81.5 164.5V179.5M79.3 164.5h4.4M79.3 179.5h4.4" stroke="#208020"/>
<path d="M195.5 170.5V189.5M193.3 170.5h4.4M193.3 189.5h4.4" stroke="#208020"/>
<path d="M413.5 173.5V180.5M411.3 173.5h4.4M411.3 180.5h4.4" stroke="#208020"/>
<path d="M433.5 159.5V171.5M431.3 159.5h4.4M431.3 171.5h4.4" stroke="#208020"/>
<path d="M301.5 134.5V141.5M299.3 134.5h4.4M299.3 141.5h4.4" stroke="#208020"/>
<path d="M366.5 144.5V157.5M364.3 144.5h4.4M364.3 157.5h4.4" stroke="#208020"/>
<path d="M179.5 186.5V194.5M177.3 186.5h4.4M177.3 194.5h4.4" stroke="#208020"/>
<path d="M266.5 155.5V162.5M264.3 155.5h4.4M264.3 162.5h4.4" stroke="#208020"/>
<path d="M206.5 165.5V182.5M204.3 165.5h4.4M204.3 182.5h4.4" stroke="#3030f0"/>
<path d="M242.5 184.5V191.5M240.3 184.5h4.4M240.3 191.5h4.4" stroke="#3030f0"/>
<path d="M464.5 163.5V174.5M462.3 163.5h4.4M462.3 174.5h4.4" stroke="#3030f0"/>
<path d="M428.5 171.5V184.5M426.3 171.5h4.4M426.3 184.5h4.4" stroke="#3030f0"/>
<path d="M275.5 163.5V177.5M273.3 163.5h4.4M273.3 177.5h4.4" stroke="#3030f0"/>
<path d="M269.5 145.5V159.5M267.3 145.5h4.4M267.3 159.5h4.4" stroke="#3030f0"/>
<path d="M336.5 129.5V136.5M334.3 129.5h4.4M334.3 136.5h4.4" stroke="#3030f0"/>
<path d="M364.5 137.5V153.5M362.3 137.5h4.4M362.3 153.5h4.4" stroke="#3030f0"/>
<path d="M265.5 160.5V182.5M263.3 160.5h4.4M263.3 182.5h4.4" stroke="#3030f0"/>
<path d="M134.5 161.5V177.5M132.3 161.5h4.4M132.3 177.5h4.4" stroke="#3030f0"/>
<path d="M365.5 143.5V164.5M363.3 143.5h4.4M363.3 164.5h4.4" stroke="#3030f0"/>
<path d="M345.5 133.5V147.5M343.3 133.5h4.4M343.3 147.5h4.4" stroke="#3030f0"/>
<path d="M459.5 169.5V176.5M457.3 169.5h4.4M457.3 176.5h4.4" stroke="#3030f0"/>
<path d="M393.5 162.5V176.5M391.3 162.5h4.4M391.3 176.5h4.4" stroke="#3030f0"/>
<path d="M202.5 174.5V180.5M200.3 174.5h4.4M200.3 180.5h4.4" stroke="#3030f0"/>
<path d="M276.5 143.5V167.5M274.3 143.5h4.4M274.3 167.5h4.4" stroke="#3030f0"/>
<path d="M118.5 165.5V180.5M116.3 165.5h4.4M116.3 180.5h4.4" stroke="#3030f0"/>
<path d="M433.5 176.5V183.5M431.3 176.5h4.4M431.3 183.5h4.4" stroke="#3030f0"/>
<path d="M92.5 175.5V186.5M90.3 175.5h4.4M90.3 186.5h4.4" stroke="#3030f0"/>
<path d="M269.5 151.5V165.5M267.3 151.5h4.4M267.3 165.5h4.4" stroke="#3030f0"/>
<path d="M414.5 176.5V189.5M412.3 176.5h4.4M412.3 189.5h4.4" stroke="#3030f0"/>
<path d="M101.5 171.5V178.5M99.3 171.5h4.4M99.3 178.5h4.4" stroke="#3030f0"/>
<path d="M369.5 138.5V146.5M367.3 138.5h4.4M367.3 146.5h4.4" stroke="#3030f0"/>
<path d="M78.5 182.5V193.5M76.3 182.5h4.4M76.3 193.5h4.4" stroke="#3030f0"/>
<path d="M219.5 183.5V196.5M217.3 183.5h4.4M217.3 196.5h4.4" stroke="#3030f0"/>
<path d="M115.5 165.5V172.5M113.3 165.5h4.4M113.3 172.5h4.4" stroke="#3030f0"/>
<path d="M416.5 154.5V160.5M414.3 154.5h4.4M414.3 160.5h4.4" stroke="#3030f0"/>
<path d="M142.5 167.5V178.5M140.3 167.5h4.4M140.3 178.5h4.4" stroke="#3030f0"/>
<path d="M127.5 168.5V180.5M125.3 168.5h4.4M125.3 180.5h4.4" stroke="#3030f0"/>
<path d="M340.5 156.5V169.5M338.3 156.5h4.4M338.3 169.5h4.4" stroke="#3030f0"/>
<path d="M242.5 173.5V182.5M240.3 173.5h4.4M240.3 182.5h4.4" stroke="#3030f0"/>
<path d="M147.5 163.5V179.5M145.3 163.5h4.4M145.3 179.5h4.4" stroke="#3030f0"/>
<path d="M91.5 163.5V176.5M89.3 163.5h4.4M89.3 176.5h4.4" stroke="#3030f0"/>
<path d="M313.5 153.5V160.5M311.3 153.5h4.4M311.3 160.5h4.4" stroke="#3030f0"/>
<path d="M242.5 171.5V184.5M240.3 171.5h4.4M240.3 184.5h4.4" stroke="#3030f0"/>
<path d="M110.5 178.5V186.5M108.3 178.5h4.4M108.3 186.5h4.4" stroke="#3030f0"/>
<path d="M429.5 155.5V171.5M427.3 155.5h4.4M427.3 171.5h4.4" stroke="#3030f0"/>
<path d="M361.5 135.5V144.5M359.3 135.5h4.4M359.3 144.5h4.4" stroke="#3030f0"/>
<path d="M134.5 169.5V176.5M132.3 169.5h4.4M132.3 176.5h4.4" stroke="#3030f0"/>
<path d="M393.5 168.5V181.5M391.3 168.5h4.4M391.3 181.5h4.4" stroke="#3030f0"/>
<path d="M367.5 160.5V171.5M365.3 160.5h4.4M365.3 171.5h4.4" stroke="#3030f0"/>
<path d="M429.5 172.5V189.5M427.3 172.5h4.4M427.3 189.5h4.4" stroke="#3030f0"/>
<path d="M123.5 165.5V171.5M121.3 165.5h4.4M121.3 171.5h4.4" stroke="#3030f0"/>
<path d="M251.5 179.5V185.5M249.3 179.5h4.4M249.3 185.5h4.4" stroke="#3030f0"/>
<path d="M205.5 168.5V176.5M203.3 168.5h4.4M203.3 176.5h4.4" stroke="#3030f0"/>
<path d="M219.5 166.5V182.5M217.3 166.5h4.4M217.3 182.5h4.4" stroke="#3030f0"/>
<path d="M196.5 183.5V194.5M194.3 183.5h4.4M194.3 194.5h4.4" stroke="#3030f0"/>
<path d="M313.5 124.5V138.5M311.3 124.5h4.4M311.3 138.5h4.4" stroke="#3030f0"/>
<path d="M137.5 166.5V172.5M135.3 166.5h4.4M135.3 172.5h4.4" stroke="#3030f0"/>
<path d="M466.5 168.5V173.5M464.3 168.5h4.4M464.3 173.5h4.4" stroke="#3030f0"/>
<path d="M134.5 155.5V181.5M132.3 155.5h4.4M132.3 181.5h4.4" stroke="#3030f0"/>
<path d="M419.5 157.5V170.5M417.3 157.5h4.4M417.3 170.5h4.4" stroke="#3030f0"/>
<path d="M264.5 171.5V178.5M262.3 171.5h4.4M262.3 178.5h4.4" stroke="#3030f0"/>
<path d="M203.5 171.5V177.5M201.3 171.5h4.4M201.3 177.5h4.4" stroke="#3030f0"/>
<path d="M155.5 169.5V190.5M153.3 169.5h4.4M153.3 190.5h4.4" stroke="#3030f0"/>
<path d="M116.5 162.5V173.5M114.3 162.5h4.4M114.3 173.5h4.4" stroke="#3030f0"/>
<path d="M191.5 181.5V193.5M189.3 181.5h4.4M189.3 193.5h4.4" stroke="#3030f0"/>
<path d="M112.5 166.5V184.5M110.3 166.5h4.4M110.3 184.5h4.4" stroke="#3030f0"/>
<path d="M190.5 169.5V189.5M188.3 169.5h4.4M188.3 189.5h4.4" stroke="#3030f0"/>
<path d="M397.5 149.5V169.5M395.3 149.5h4.4M395.3 169.5h4.4" stroke="#3030f0"/>
<path d="M383.5 167.5V178.5M381.3 167.5h4.4M381.3 178.5h4.4" stroke="#3030f0"/>
<path d="M457.5 180.5V187.5M455.3 180.5h4.4M455.3 187.5h4.4" stroke="#3030f0"/>
<path d="M82.5 163.5V173.5M80.3 163.5h4.4M80.3 173.5h4.4" stroke="#3030f0"/>
<path d="M200.5 167.5V177.5M198.3 167.5h4.4M198.3 177.5h4.4" stroke="#3030f0"/>
<path d="M324.5 134.5V140.5M322.3 134.5h4.4M322.3 140.5h4.4" stroke="#3030f0"/>
<path d="M430.5 179.5V193.5M428.3 179.5h4.4M428.3 193.5h4.4" stroke="#3030f0"/>
<path d="M343.5 158.5V175.5M341.3 158.5h4.4M341.3 175.5h4.4" stroke="#3030f0"/>
<path d="M450.5 183.5V194.5M448.3 183.5h4.4M448.3 194.5h4.4" stroke="#3030f0"/>
<path d="M216.5 183.5V200.5M214.3 183.5h4.4M214.3 200.5h4.4" stroke="#3030f0"/>
<path d="M463.5 171.5V181.5M461.3 171.5h4.4M461.3 181.5h4.4" stroke="#3030f0"/>
<path d="M166.5 174.5V188.5M164.3 174.5h4.4M164.3 188.5h4.4" stroke="#3030f0"/>
<path d="M221.5 171.5V177.5M219.3 171.5h4.4M219.3 177.5h4.4" stroke="#3030f0"/>
<path d="M406.5 175.5V183.5M404.3 175.5h4.4M404.3 183.5h4.4" stroke="#3030f0"/>
<path d="M382.5 167.5V177.5M380.3 167.5h4.4M380.3 177.5h4.4" stroke="#3030f0"/>
<path d="M347.5 151.5V164.5M345.3 151.5h4.4M345.3 164.5h4.4" stroke="#3030f0"/>
<path d="M104.5 165.5V177.5M102.3 165.5h4.4M102.3 177.5h4.4" stroke="#3030f0"/>
<path d="M222.5 187.5V201.5M220.3 187.5h4.4M220.3 201.5h4.4" stroke="#3030f0"/>
<path d="M81.5 172.5V185.5M79.3 172.5h4.4M79.3 185.5h4.4" stroke="#3030f0"/>
<path d="M359.5 138.5V151.5M357.3 138.5h4.4M357.3 151.5h4.4" stroke="#3030f0"/>
<path d="M151.5 169.5V192.5M149.3 169.5h4.4M149.3 192.5h4.4" stroke="#3030f0"/>
<path d="M138.5 162.5V177.5M136.3 162.5h4.4M136.3 177.5h4.4" stroke="#3030f0"/>
<path d="M358.5 152.5V158.5M356.3 152.5h4.4M356.3 158.5h4.4" stroke="#3030f0"/>
<path d="M303.5 141.5V147.5M301.3 141.5h4.4M301.3 147.5h4.4" stroke="#208020"/>
<path d="M364.5 145.5V151.5M362.3 145.5h4.4M362.3 151.5h4.4" stroke="#208020"/>
<path d="M331.5 159.5V167.5M329.3 159.5h4.4M329.3 167.5h4.4" stroke="#208020"/>
<path d="M293.5 155.5V169.5M291.3 155.5h4.4M291.3 169.5h4.4" stroke="#208020"/>
<path d="M217.5 189.5V195.5M215.3 189.5h4.4M215.3 195.5h4.4" stroke="#208020"/>
<path d="M221.5 176.5V188.5M219.3 176.5h4.4M219.3 188.5h4.4" stroke="#208020"/>
<path d="M343.5 127.5V142.5M341.3 127.5h4.4M341.3 142.5h4.4" stroke="#208020"/>
<path d="M446.5 186.5V195.5M444.3 186.5h4.4M444.3 195.5h4.4" stroke="#208020"/>
<path d="M126.5 161.5V174.5M124.3 161.5h4.4M124.3 174.5h4.4" stroke="#208020"/>
<path d="M297.5 158.5V164.5M295.3 158.5h4.4M295.3 164.5h4.4" stroke="#208020"/>
<path d="M179.5 189.5V200.5M177.3 189.5h4.4M177.3 200.5h4.4" stroke="#208020"/>
<path d="M131.5 168.5V175.5M129.3 168.5h4.4M129.3 175.5h4.4" stroke="#208020"/>
<path d="M441.5 179.5V187.5M439.3 179.5h4.4M439.3 187.5h4.4" stroke="#208020"/>
<path d="M325.5 149.5V170.5M323.3 149.5h4.4M323.3 170.5h4.4" stroke="#208020"/>
<path d="M100.5 170.5V176.5M98.3 170.5h4.4M98.3 176.5h4.4" stroke="#208020"/>
<path d="M452.5 185.5V190.5M450.3 185.5h4.4M450.3 190.5h4.4" stroke="#208020"/>
<path d="M402.5 170.5V177.5M400.3 170.5h4.4M400.3 177.5h4.4" stroke="#208020"/>
<path d="M282.5 156.5V169.5M280.3 156.5h4.4M280.3 169.5h4.4" stroke="#208020"/>
<path d="M365.5 169.5V177.5M363.3 169.5h4.4M363.3 177.5h4.4" stroke="#208020"/>
<path d="M89.5 164.5V172.5M87.3 164.5h4.4M87.3 172.5h4.4" stroke="#208020"/>
<path d="M209.5 168.5V179.5M207.3 168.5h4.4M207.3 179.5h4.4" stroke="#208020"/>
<path d="M263.5 168.5V182.5M261.3 168.5h4.4M261.3 182.5h4.4" stroke="#208020"/>
<path d="M123.5 162.5V175.5M121.3 162.5h4.4M121.3 175.5h4.4" stroke="#208020"/>
<path d="M235.5 184.5V191.5M233.3 184.5h4.4M233.3 191.5h4.4" stroke="#208020"/>
<path d="M270.5 173.5V180.5M268.3 173.5h4.4M268.3 180.5h4.4" stroke="#208020"/>
<path d="M327.5 135.5V147.5M325.3 135.5h4.4M325.3 147.5h4.4" stroke="#208020"/>
<path d="M370.5 148.5V156.5M368.3 148.5h4.4M368.3 156.5h4.4" stroke="#208020"/>
<path d="M456.5 172.5V183.5M454.3 172.5h4.4M454.3 183.5h4.4" stroke="#208020"/>
<path d="M234.5 169.5V180.5M232.3 169.5h4.4M232.3 180.5h4.4" stroke="#208020"/>
<path d="M157.5 173.5V183.5M155.3 173.5h4.4M155.3 183.5h4.4" stroke="#208020"/>
<path d="M205.5 165.5V177.5M203.3 165.5h4.4M203.3 177.5h4.4" stroke="#208020"/>
<path d="M116.5 166.5V181.5M114.3 166.5h4.4M114.3 181.5h4.4" stroke="#208020"/>
<path d="M381.5 160.5V173.5M379.3 160.5h4.4M379.3 173.5h4.4" stroke="#208020"/>
<path d="M278.5 158.5V168.5M276.3 158.5h4.4M276.3 168.5h4.4" stroke="#208020"/>
<path d="M98.5 179.5V192.5M96.3 179.5h4.4M96.3 192.5h4.4" stroke="#208020"/>
<path d="M91.5 179.5V189.5M89.3 179.5h4.4M89.3 189.5h4.4" stroke="#208020"/>
<path d="M78.5 163.5V175.5M76.3 163.5h4.4M76.3 175.5h4.4" stroke="#208020"/>
<path d="M155.5 181.5V189.5M153.3 181.5h4.4M153.3 189.5h4.4" stroke="#208020"/>
<path d="M134.5 162.5V171.5M132.3 162.5h4.4M132.3 171.5h4.4" stroke="#208020"/>
<path d="M89.5 186.5V196.5M87.3 186.5h4.4M87.3 196.5h4.4" stroke="#208020"/>
<path d="M383.5 150.5V165.5M381.3 150.5h4.4M381.3 165.5h4.4" stroke="#208020"/>
<path d="M432.5 184.5V190.5M430.3 184.5h4.4M430.3 190.5h4.4" stroke="#208020"/>
<path d="M163.5 185.5V198.5M161.3 185.5h4.4M161.3 198.5h4.4" stroke="#208020"/>
<path d="M114.5 177.5V189.5M112.3 177.5h4.4M112.3 189.5h4.4" stroke="#208020"/>
<path d="M137.5 166.5V174.5M135.3 166.5h4.4M135.3 174.5h4.4" stroke="#208020"/>
<path d="M219.5 188.5V202.5M217.3 188.5h4.4M217.3 202.5h4.4" stroke="#208020"/>
<path d="M149.5 172.5V180.5M147.3 172.5h4.4M147.3 180.5h4.4" stroke="#208020"/>
<path d="M270.5 146.5V157.5M268.3 146.5h4.4M268.3 157.5h4.4" stroke="#208020"/>
<path d="M100.5 182.5V192.5M98.3 182.5h4.4M98.3 192.5h4.4" stroke="#208020"/>
<path d="M288.5 134.5V147.5M286.3 134.5h4.4M286.3 147.5h4.4" stroke="#208020"/>
<path d="M229.5 171.5V181.5M227.3 171.5h4.4M227.3 181.5h4.4" stroke="#208020"/>
<path d="M459.5 179.5V192.5M457.3 179.5h4.4M457.3 192.5h4.4" stroke="#208020"/>
<path d="M110.5 171.5V183.5M108.3 171.5h4.4M108.3 183.5h4.4" stroke="#208020"/>
<path d="M80.5 170.5V178.5M78.3 170.5h4.4M78.3 178.5h4.4" stroke="#208020"/>
<path d="M119.5 162.5V175.5M117.3 162.5h4.4M117.3 175.5h4.4" stroke="#208020"/>
<path d="M437.5 162.5V168.5M435.3 162.5h4.4M435.3 168.5h4.4" stroke="#208020"/>
<path d="M305.5 130.5V139.5M303.3 130.5h4.4M303.3 139.5h4.4" stroke="#208020"/>
<path d="M299.5 141.5V155.5M297.3 141.5h4.4M297.3 155.5h4.4" stroke="#208020"/>
<path d="M249.5 173.5V181.5M247.3 173.5h4.4M247.3 181.5h4.4" stroke="#208020"/>
<path d="M143.5 159.5V185.5M141.3 159.5h4.4M141.3 185.5h4.4" stroke="#208020"/>
<path d="M174.5 165.5V179.5M172.3 165.5h4.4M172.3 179.5h4.4" stroke="#208020"/>
<path d="M187.5 173.5V188.5M185.3 173.5h4.4M185.3 188.5h4.4" stroke="#208020"/>
<path d="M187.5 167.5V178.5M185.3 167.5h4.4M185.3 178.5h4.4" stroke="#208020"/>
<path d="M245.5 170.5V182.5M243.3 170.5h4.4M243.3 182.5h4.4" stroke="#208020"/>
<path d="M279.5 154.5V162.5M277.3 154.5h4.4M277.3 162.5h4.4" stroke="#208020"/>
<path d="M109.5 175.5V186.5M107.3 175.5h4.4M107.3 186.5h4.4" stroke="#208020"/>
<path d="M86.5 181.5V189.5M84.3 181.5h4.4M84.3 189.5h4.4" stroke="#208020"/>
<path d="M399.5 161.5V177.5M397.3 161.5h4.4M397.3 177.5h4.4" stroke="#208020"/>
<path d="M361.5 131.5V146.5M359.3 131.5h4.4M359.3 146.5h4.4" stroke="#208020"/>
<path d="M339.5 157.5V163.5M337.3 157.5h4.4M337.3 163.5h4.4" stroke="#208020"/>
<path d="M459.5 181.5V198.5M457.3 181.5h4.4M457.3 198.5h4.4" stroke="#208020"/>
<path d="M121.5 162.5V173.5M119.3 162.5h4.4M119.3 173.5h4.4" stroke="#208020"/>
<path d="M374.5 140.5V151.5M372.3 140.5h4.4M372.3 151.5h4.4" stroke="#208020"/>
<path d="M230.5 162.5V174.5M228.3 162.5h4.4M228.3 174.5h4.4" stroke="#208020"/>
<path d="M420.5 166.5V179.5M418.3 166.5h4.4M418.3 179.5h4.4" stroke="#208020"/>
<path d="M152.5 168.5V187.5M150.3 168.5h4.4M150.3 187.5h4.4" stroke="#208020"/>
<path d="M226.5 163.5V174.5M224.3 163.5h4.4M224.3 174.5h4.4" stroke="#208020"/>
<path d="M263.5 153.5V163.5M261.3 153.5h4.4M261.3 163.5h4.4" stroke="#208020"/>
<path d="M297.5 149.5V163.5M295.3 149.5h4.4M295.3 163.5h4.4" stroke="#208020"/>
<path d="M446.5 167.5V178.5M444.3 167.5h4.4M444.3 178.5h4.4" stroke="#208020"/>
<path d="M102.5 170.5V184.5M100.3 170.5h4.4M100.3 184.5h4.4" stroke="#208020"/>
<path d="M150.5 172.5V185.5M148.3 172.5h4.4M148.3 185.5h4.4" stroke="#208020"/>
<path d="M383.5 146.5V157.5M381.3 146.5h4.4M381.3 157.5h4.4" stroke="#208020"/>
<path d="M237.5 184.5V195.5M235.3 184.5h4.4M235.3 195.5h4.4" stroke="#208020"/>
<path d="M417.5 146.5V173.5M415.3 146.5h4.4M415.3 173.5h4.4" stroke="#208020"/>
<path d="M358.5 165.5V170.5M356.3 165.5h4.4M356.3 170.5h4.4" stroke="#208020"/>
<path d="M160.5 184.5V197.5M158.3 184.5h4.4M158.3 197.5h4.4" stroke="#208020"/>
<path d="M348.5 162.5V174.5M346.3 162.5h4.4M346.3 174.5h4.4" stroke="#208020"/>
<path d="M470.5 182.5V188.5M468.3 182.5h4.4M468.3 188.5h4.4" stroke="#208020"/>
<path d="M418.5 172.5V185.5M416.3 172.5h4.4M416.3 185.5h4.4" stroke="#208020"/>
<path d="M392.5 146.5V157.5M390.3 146.5h4.4M390.3 157.5h4.4" stroke="#208020"/>
<path d="M407.5 148.5V161.5M405.3 148.5h4.4M405.3 161.5h4.4" stroke="#208020"/>
<path d="M436.5 168.5V175.5M434.3 168.5h4.4M434.3 175.5h4.4" stroke="#208020"/>
<path d="M403.5 145.5V162.5M401.3 145.5h4.4M401.3 162.5h4.4" stroke="#208020"/>
<path d="M183.5 186.5V201.5M181.3 186.5h4.4M181.3 201.5h4.4" stroke="#208020"/>
<path d="M134.5 165.5V171.5M132.3 165.5h4.4M132.3 171.5h4.4" stroke="#208020"/>
<path d="M173.5 183.5V189.5M171.3 183.5h4.4M171.3 189.5h4.4" stroke="#208020"/>
<path d="M206.5 186.5V200.5M204.3 186.5h4.4M204.3 200.5h4.4" stroke="#208020"/>
<path d="M433.5 175.5V189.5M431.3 175.5h4.4M431.3 189.5h4.4" stroke="#208020"/>
<path d="M401.5 168.5V177.5M399.3 168.5h4.4M399.3 177.5h4.4" stroke="#208020"/>
<path d="M449.5 160.5V173.5M447.3 160.5h4.4M447.3 173.5h4.4" stroke="#208020"/>
<path d="M210.5 176.5V189.5M208.3 176.5h4.4M208.3 189.5h4.4" stroke="#208020"/>
<path d="M231.5 173.5V184.5M229.3 173.5h4.4M229.3 184.5h4.4" stroke="#208020"/>
<path d="M252.5 167.5V192.5M250.3 167.5h4.4M250.3 192.5h4.4" stroke="#208020"/>
<path d="M204.5 164.5V177.5M202.3 164.5h4.4M202.3 177.5h4.4" stroke="#208020"/>
<path d="M131.5 168.5V175.5M129.3 168.5h4.4M129.3 175.5h4.4" stroke="#208020"/>
<path d="M149.5 171.5V178.5M147.3 171.5h4.4M147.3 178.5h4.4" stroke="#208020"/>
<path d="M165.5 184.5V199.5M163.3 184.5h4.4M163.3 199.5h4.4" stroke="#208020"/>
<path d="M140.5 169.5V176.5M138.3 169.5h4.4M138.3 176.5h4.4" stroke="#208020"/>
<path d="M157.5 173.5V182.5M155.3 173.5h4.4M155.3 182.5h4.4" stroke="#208020"/>
<path d="M91.5 156.5V178.5M89.3 156.5h4.4M89.3 178.5h4.4" stroke="#208020"/>
<path d="M117.5 170.5V184.5M115.3 170.5h4.4M115.3 184.5h4.4" stroke="#208020"/>
<path d="M370.5 134.5V148.5M368.3 134.5h4.4M368.3 148.5h4.4" stroke="#208020"/>
<path d="M365.5 153.5V180.5M363.3 153.5h4.4M363.3 180.5h4.4" stroke="#208020"/>
<path d="M113.5 169.5V182.5M111.3 169.5h4.4M111.3 182.5h4.4" stroke="#208020"/>
<path d="M84.5 163.5V178.5M82.3 163.5h4.4M82.3 178.5h4.4" stroke="#208020"/>
<path d="M444.5 169.5V175.5M442.3 169.5h4.4M442.3 175.5h4.4" stroke="#208020"/>
<path d="M132.5 162.5V172.5M130.3 162.5h4.4M130.3 172.5h4.4" stroke="#208020"/>
<path d="M329.5 142.5V148.5M327.3 142.5h4.4M327.3 148.5h4.4" stroke="#208020"/>
<path d="M414.5 152.5V162.5M412.3 152.5h4.4M412.3 162.5h4.4" stroke="#208020"/>
<path d="M218.5 159.5V176.5M216.3 159.5h4.4M216.3 176.5h4.4" stroke="#208020"/>
<path d="M449.5 179.5V189.5M447.3 179.5h4.4M447.3 189.5h4.4" stroke="#208020"/>
<path d="M165.5 181.5V191.5M163.3 181.5h4.4M163.3 191.5h4.4" stroke="#208020"/>
<path d="M405.5 151.5V160.5M403.3 151.5h4.4M403.3 160.5h4.4" stroke="#208020"/>
<path d="M337.5 157.5V166.5M335.3 157.5h4.4M335.3 166.5h4.4" stroke="#208020"/>
<path d="M392.5 170.5V177.5M390.3 170.5h4.4M390.3 177.5h4.4" stroke="#208020"/>
<path d="M331.5 129.5V142.5M329.3 129.5h4.4M329.3 142.5h4.4" stroke="#208020"/>
<path d="M106.5 173.5V184.5M104.3 173.5h4.4M104.3 184.5h4.4" stroke="#208020"/>
<path d="M400.5 159.5V174.5M398.3 159.5h4.4M398.3 174.5h4.4" stroke="#208020"/>
<rect x="404.7" y="176.7" width="5.6" height="5.6" fill="#00f"/>
<rect x="124.7" y="165.7" width="5.6" height="5.6" fill="#00f"/>
<rect x="287.7" y="137.7" width="5.6" height="5.6" fill="#00f"/>
<rect x="456.7" y="172.7" width="5.6" height="5.6" fill="#00f"/>
<rect x="314.7" y="141.7" width="5.6" height="5.6" fill="#00f"/>
<rect x="159.7" y="189.7" width="5.6" height="5.6" fill="#00f"/>
<rect x="99.7" y="183.7" width="5.6" height="5.6" fill="#00f"/>
<rect x="396.7" y="158.7" width="5.6" height="5.6" fill="#00f"/>
<rect x="74.7" y="174.7" width="5.6" height="5.6" fill="#00f"/>
<rect x="439.7" y="163.7" width="5.6" height="5.6" fill="#00f"/>
<rect x="430.7" y="187.7" width="5.6" height="5.6" fill="#00f"/>
<rect x="194.7" y="165.7" width="5.6" height="5.6" fill="#00f"/>
<rect x="189.7" y="191.7" width="5.6" height="5.6" fill="#00f"/>
<rect x="427.7" y="158.7" width="5.6" height="5.6" fill="#00f"/>
<rect x="225.7" y="168.7" width="5.6" height="5.6" fill="#00f"/>
<rect x="97.7" y="165.7" width="5.6" height="5.6" fill="#00f"/>
<rect x="137.7" y="171.7" width="5.6" height="5.6" fill="#00f"/>
<rect x="445.7" y="188.7" width="5.6" height="5.6" fill="#00f"/>
<rect x="241.7" y="177.7" width="5.6" height="5.6" fill="#00f"/>
<rect x="275.7" y="145.7" width="5.6" height="5.6" fill="#00f"/>
<rect x="395.7" y="149.7" width="5.6" height="5.6" fill="#00f"/>
<rect x="316.7" y="139.7" width="5.6" height="5.6" fill="#00f"/>
<rect x="417.7" y="176.7" width="5.6" height="5.6" fill="#00f"/>
<rect x="129.7" y="169.7" width="5.6" height="5.6" fill="#00f"/>
<rect x="165.7" y="172.7" width="5.6" height="5.6" fill="#00f"/>
<rect x="271.7" y="153.7" width="5.6" height="5.6" fill="#00f"/>
<rect x="218.7" y="179.7" width="5.6" height="5.6" fill="#00f"/>
<rect x="422.7" y="171.7" width="5.6" height="5.6" fill="#00f"/>
<rect x="174.7" y="171.7" width="5.6" height="5.6" fill="#00f"/>
<rect x="336.7" y="136.7" width="5.6" height="5.6" fill="#00f"/>
<rect x="74.7" y="175.7" width="5.6" height="5.6" fill="#00f"/>
<rect x="183.7" y="170.7" width="5.6" height="5.6" fill="#00f"/>
<rect x="152.7" y="181.7" width="5.6" height="5.6" fill="#00f"/>
<rect x="451.7" y="167.7" width="5.6" height="5.6" fill="#00f"/>
<rect x="150.7" y="180.7" width="5.6" height="5.6" fill="#00f"/>
<rect x="234.7" y="161.7" width="5.6" height="5.6" fill="#00f"/>
<rect x="140.7" y="169.7" width="5.6" height="5.6" fill="#00f"/>
<rect x="75.7" y="185.7" width="5.6" height="5.6" fill="#00f"/>
<rect x="378.7" y="172.7" width="5.6" height="5.6" fill="#00f"/>
<rect x="125.7" y="163.7" width="5.6" height="5.6" fill="#00f"/>
<rect x="98.7" y="178.7" width="5.6" height="5.6" fill="#00f"/>
<rect x="345.7" y="132.7" width="5.6" height="5.6" fill="#00f"/>
<rect x="259.7" y="170.7" width="5.6" height="5.6" fill="#00f"/>
<rect x="141.7" y="174.7" width="5.6" height="5.6" fill="#00f"/>
<rect x="83.7" y="178.7" width="5.6" height="5.6" fill="#00f"/>
<rect x="444.7" y="172.7" width="5.6" height="5.6" fill="#00f"/>
<rect x="164.7" y="174.7" width="5.6" height="5.6" fill="#00f"/>
<rect x="444.7" y="184.7" width="5.6" height="5.6" fill="#00f"/>
<rect x="102.7" y="177.7" width="5.6" height="5.6" fill="#00f"/>
<rect x="322.7" y="138.7" width="5.6" height="5.6" fill="#00f"/>
<rect x="115.7" y="167.7" width="5.6" height="5.6" fill="#00f"/>
<rect x="153.7" y="185.7" width="5.6" height="5.6" fill="#00f"/>
<rect x="462.7" y="164.7" width="5.6" height="5.6" fill="#00f"/>
<rect x="133.7" y="171.7" width="5.6" height="5.6" fill="#00f"/>
<rect x="400.7" y="170.7" width="5.6" height="5.6" fill="#00f"/>
<rect x="122.7" y="165.7" width="5.6" height="5.6" fill="#00f"/>
<rect x="292.7" y="156.7" width="5.6" height="5.6" fill="#00f"/>
<rect x="282.7" y="156.7" width="5.6" height="5.6" fill="#00f"/>
<rect x="165.7" y="170.7" width="5.6" height="5.6" fill="#00f"/>
<rect x="110.7" y="166.7" width="5.6" height="5.6" fill="#00f"/>
<rect x="361.7" y="138.7" width="5.6" height="5.6" fill="#00f"/>
<rect x="275.7" y="169.7" width="5.6" height="5.6" fill="#00f"/>
<rect x="454.7" y="185.7" width="5.6" height="5.6" fill="#00f"/>
<rect x="451.7" y="167.7" width="5.6" height="5.6" fill="#00f"/>
<rect x="245.7" y="161.7" width="5.6" height="5.6" fill="#00f"/>
<path d="M328.5 138.4L331.6 141.5L328.5 144.6L325.4 141.5Z" fill="#000080"/>
<path d="M168.5 180.4L171.6 183.5L168.5 186.6L165.4 183.5Z" fill="#000080"/>
<path d="M459.5 179.4L462.6 182.5L459.5 185.6L456.4 182.5Z" fill="#000080"/>
<path d="M381.5 157.4L384.6 160.5L381.5 163.6L378.4 160.5Z" fill="#000080"/>
<path d="M139.5 168.4L142.6 171.5L139.5 174.6L136.4 171.5Z" fill="#000080"/>
<path d="M361.5 135.4L364.6 138.5L361.5 141.6L358.4 138.5Z" fill="#000080"/>
<path d="M181.5 170.4L184.6 173.5L181.5 176.6L178.4 173.5Z" fill="#000080"/>
<path d="M117.5 176.4L120.6 179.5L117.5 182.6L114.4 179.5Z" fill="#000080"/>
<path d="M429.5 171.4L432.6 174.5L429.5 177.6L426.4 174.5Z" fill="#000080"/>
<path d="M120.5 164.4L123.6 167.5L120.5 170.6L117.4 167.5Z" fill="#000080"/>
<path d="M136.5 172.4L139.6 175.5L136.5 178.6L133.4 175.5Z" fill="#000080"/>
<path d="M164.5 182.4L167.6 185.5L164.5 188.6L161.4 185.5Z" fill="#000080"/>
<path d="M154.5 179.4L157.6 182.5L154.5 185.6L151.4 182.5Z" fill="#000080"/>
<path d="M168.5 180.4L171.6 183.5L168.5 186.6L165.4 183.5Z" fill="#000080"/>
<path d="M260.5 160.4L263.6 163.5L260.5 166.6L257.4 163.5Z" fill="#000080"/>
<path d="M270.5 161.4L273.6 164.5L270.5 167.6L267.4 164.5Z" fill="#000080"/>
<path d="M220.5 176.4L223.6 179.5L220.5 182.6L217.4 179.5Z" fill="#000080"/>
<path d="M400.5 169.4L403.6 172.5L400.5 175.6L397.4 172.5Z" fill="#000080"/>
<path d="M81.5 172.4L84.6 175.5L81.5 178.6L78.4 175.5Z" fill="#000080"/>
<path d="M449.5 183.4L452.6 186.5L449.5 189.6L446.4 186.5Z" fill="#000080"/>
<path d="M396.5 171.4L399.6 174.5L396.5 177.6L393.4 174.5Z" fill="#000080"/>
<path d="M387.5 146.4L390.6 149.5L387.5 152.6L384.4 149.5Z" fill="#000080"/>
<path d="M343.5 140.4L346.6 143.5L343.5 146.6L340.4 143.5Z" fill="#000080"/>
<path d="M82.5 178.4L85.6 181.5L82.5 184.6L79.4 181.5Z" fill="#000080"/>
<path d="M290.5 161.4L293.6 164.5L290.5 167.6L287.4 164.5Z" fill="#000080"/>
<path d="M272.5 172.4L275.6 175.5L272.5 178.6L269.4 175.5Z" fill="#000080"/>
<path d="M234.5 177.4L237.6 180.5L234.5 183.6L231.4 180.5Z" fill="#000080"/>
<path d="M137.5 167.4L140.6 170.5L137.5 173.6L134.4 170.5Z" fill="#000080"/>
<path d="M181.5 184.4L184.6 187.5L181.5 190.6L178.4 187.5Z" fill="#000080"/>
<path d="M282.5 163.4L285.6 166.5L282.5 169.6L279.4 166.5Z" fill="#000080"/>
<path d="M115.5 179.4L118.6 182.5L115.5 185.6L112.4 182.5Z" fill="#000080"/>
<path d="M97.5 184.4L100.6 187.5L97.5 190.6L94.4 187.5Z" fill="#000080"/>
<path d="M459.5 169.4L462.6 172.5L459.5 175.6L456.4 172.5Z" fill="#000080"/>
<path d="M221.5 169.4L224.6 172.5L221.5 175.6L218.4 172.5Z" fill="#000080"/>
<path d="M142.5 172.4L145.6 175.5L142.5 178.6L139.4 175.5Z" fill="#000080"/>
<path d="M247.5 162.4L250.6 165.5L247.5 168.6L244.4 165.5Z" fill="#000080"/>
<path d="M138.5 167.4L141.6 170.5L138.5 173.6L135.4 170.5Z" fill="#000080"/>
<path d="M187.5 183.4L190.6 186.5L187.5 189.6L184.4 186.5Z" fill="#000080"/>
<path d="M176.5 170.4L179.6 173.5L176.5 176.6L173.4 173.5Z" fill="#000080"/>
<path d="M179.5 182.4L182.6 185.5L179.5 188.6L176.4 185.5Z" fill="#000080"/>
<path d="M288.5 153.4L291.6 156.5L288.5 159.6L285.4 156.5Z" fill="#000080"/>
<path d="M99.5 175.4L102.6 178.5L99.5 181.6L96.4 178.5Z" fill="#000080"/>
<path d="M357.5 147.4L360.6 150.5L357.5 153.6L354.4 150.5Z" fill="#000080"/>
<path d="M442.5 175.4L445.6 178.5L442.5 181.6L439.4 178.5Z" fill="#000080"/>
<path d="M374.5 151.4L377.6 154.5L374.5 157.6L371.4 154.5Z" fill="#000080"/>
<path d="M415.5 167.4L418.6 170.5L415.5 173.6L412.4 170.5Z" fill="#000080"/>
<path d="M286.5 149.4L289.6 152.5L286.5 155.6L283.4 152.5Z" fill="#000080"/>
<path d="M191.5 172.4L194.6 175.5L191.5 178.6L188.4 175.5Z" fill="#000080"/>
<path d="M267.5 172.4L270.6 175.5L267.5 178.6L264.4 175.5Z" fill="#000080"/>
<path d="M193.5 167.4L196.6 170.5L193.5 173.6L190.4 170.5Z" fill="#000080"/>
<path d="M88.5 173.4L91.6 176.5L88.5 179.6L85.4 176.5Z" fill="#000080"/>
<path d="M304.5 136.4L307.6 139.5L304.5 142.6L301.4 139.5Z" fill="#000080"/>
<path d="M404.5 151.4L407.6 154.5L404.5 157.6L401.4 154.5Z" fill="#000080"/>
<path d="M377.5 149.4L380.6 152.5L377.5 155.6L374.4 152.5Z" fill="#000080"/>
<path d="M185.5 171.4L188.6 174.5L185.5 177.6L182.4 174.5Z" fill="#000080"/>
<path d="M149.5 177.4L152.6 180.5L149.5 183.6L146.4 180.5Z" fill="#000080"/>
<path d="M99.5 174.4L102.6 177.5L99.5 180.6L96.4 177.5Z" fill="#000080"/>
<path d="M324.5 149.4L327.6 152.5L324.5 155.6L321.4 152.5Z" fill="#000080"/>
<path d="M152.5 179.4L155.6 182.5L152.5 185.6L149.4 182.5Z" fill="#000080"/>
<path d="M153.5 174.4L156.6 177.5L153.5 180.6L150.4 177.5Z" fill="#000080"/>
<path d="M132.5 171.4L135.6 174.5L132.5 177.6L129.4 174.5Z" fill="#000080"/>
<path d="M106.5 164.4L109.6 167.5L106.5 170.6L103.4 167.5Z" fill="#000080"/>
<path d="M309.5 147.4L312.6 150.5L309.5 153.6L306.4 150.5Z" fill="#000080"/>
<path d="M168.5 180.4L171.6 183.5L168.5 186.6L165.4 183.5Z" fill="#000080"/>
<path d="M134.5 165.4L137.6 168.5L134.5 171.6L131.4 168.5Z" fill="#000080"/>
<path d="M168.5 173.4L171.6 176.5L168.5 179.6L165.4 176.5Z" fill="#000080"/>
<path d="M111.5 165.4L114.6 168.5L111.5 171.6L108.4 168.5Z" fill="#000080"/>
<rect x="200.5" y="168.5" width="6.0" height="6.0" fill="#008000" stroke="#000" stroke-width="1.5"/>
<rect x="418.5" y="164.5" width="6.0" height="6.0" fill="#008000" stroke="#000" stroke-width="1.5"/>
<rect x="150.5" y="173.5" width="6.0" height="6.0" fill="#008000" stroke="#000" stroke-width="1.5"/>
<rect x="141.5" y="171.5" width="6.0" height="6.0" fill="#008000" stroke="#000" stroke-width="1.5"/>
<rect x="261.5" y="175.5" width="6.0" height="6.0" fill="#008000" stroke="#000" stroke-width="1.5"/>
<rect x="134.5" y="170.5" width="6.0" height="6.0" fill="#008000" stroke="#000" stroke-width="1.5"/>
<rect x="101.5" y="185.5" width="6.0" height="6.0" fill="#008000" stroke="#000" stroke-width="1.5"/>
<rect x="369.5" y="160.5" width="6.0" height="6.0" fill="#008000" stroke="#000" stroke-width="1.5"/>
<rect x="96.5" y="169.5" width="6.0" height="6.0" fill="#008000" stroke="#000" stroke-width="1.5"/>
<rect x="458.5" y="168.5" width="6.0" height="6.0" fill="#008000" stroke="#000" stroke-width="1.5"/>
<rect x="367.5" y="139.5" width="6.0" height="6.0" fill="#008000" stroke="#000" stroke-width="1.5"/>
<rect x="368.5" y="166.5" width="6.0" height="6.0" fill="#008000" stroke="#000" stroke-width="1.5"/>
<rect x="296.5" y="141.5" width="6.0" height="6.0" fill="#008000" stroke="#000" stroke-width="1.5"/>
<rect x="173.5" y="183.5" width="6.0" height="6.0" fill="#008000" stroke="#000" stroke-width="1.5"/>
<rect x="216.5" y="167.5" width="6.0" height="6.0" fill="#008000" stroke="#000" stroke-width="1.5"/>
<rect x="78.5" y="176.5" width="6.0" height="6.0" fill="#008000" stroke="#000" stroke-width="1.5"/>
<rect x="309.5" y="143.5" width="6.0" height="6.0" fill="#008000" stroke="#000" stroke-width="1.5"/>
<rect x="274.5" y="145.5" width="6.0" height="6.0" fill="#008000" stroke="#000" stroke-width="1.5"/>
<rect x="114.5" y="179.5" width="6.0" height="6.0" fill="#008000" stroke="#000" stroke-width="1.5"/>
<rect x="295.5" y="141.5" width="6.0" height="6.0" fill="#008000" stroke="#000" stroke-width="1.5"/>
<rect x="347.5" y="161.5" width="6.0" height="6.0" fill="#008000" stroke="#000" stroke-width="1.5"/>
<rect x="322.5" y="148.5" width="6.0" height="6.0" fill="#008000" stroke="#000" stroke-width="1.5"/>
<rect x="346.5" y="153.5" width="6.0" height="6.0" fill="#008000" stroke="#000" stroke-width="1.5"/>
<rect x="407.5" y="173.5" width="6.0" height="6.0" fill="#008000" stroke="#000" stroke-width="1.5"/>
<rect x="185.5" y="172.5" width="6.0" height="6.0" fill="#008000" stroke="#000" stroke-width="1.5"/>
<rect x="104.5" y="180.5" width="6.0" height="6.0" fill="#008000" stroke="#000" stroke-width="1.5"/>
<rect x="230.5" y="184.5" width="6.0" height="6.0" fill="#008000" stroke="#000" stroke-width="1.5"/>
<rect x="242.5" y="176.5" width="6.0" height="6.0" fill="#008000" stroke="#000" stroke-width="1.5"/>
<rect x="257.5" y="167.5" width="6.0" height="6.0" fill="#008000" stroke="#000" stroke-width="1.5"/>
<rect x="452.5" y="163.5" width="6.0" height="6.0" fill="#008000" stroke="#000" stroke-width="1.5"/>
<rect x="427.5" y="158.5" width="6.0" height="6.0" fill="#008000" stroke="#000" stroke-width="1.5"/>
<rect x="432.5" y="176.5" width="6.0" height="6.0" fill="#008000" stroke="#000" stroke-width="1.5"/>
<rect x="341.5" y="137.5" width="6.0" height="6.0" fill="#008000" stroke="#000" stroke-width="1.5"/>
<rect x="198.5" y="176.5" width="6.0" height="6.0" fill="#008000" stroke="#000" stroke-width="1.5"/>
<rect x="235.5" y="161.5" width="6.0" height="6.0" fill="#008000" stroke="#000" stroke-width="1.5"/>
<rect x="123.5" y="163.5" width="6.0" height="6.0" fill="#008000" stroke="#000" stroke-width="1.5"/>
<rect x="92.5" y="182.5" width="6.0" height="6.0" fill="#008000" stroke="#000" stroke-width="1.5"/>
<rect x="216.5" y="182.5" width="6.0" height="6.0" fill="#008000" stroke="#000" stroke-width="1.5"/>
<rect x="326.5" y="158.5" width="6.0" height="6.0" fill="#008000" stroke="#000" stroke-width="1.5"/>
<rect x="340.5" y="130.5" width="6.0" height="6.0" fill="#008000" stroke="#000" stroke-width="1.5"/>
<rect x="398.5" y="160.5" width="6.0" height="6.0" fill="#008000" stroke="#000" stroke-width="1.5"/>
<rect x="144.5" y="175.5" width="6.0" height="6.0" fill="#008000" stroke="#000" stroke-width="1.5"/>
<rect x="422.5" y="157.5" width="6.0" height="6.0" fill="#008000" stroke="#000" stroke-width="1.5"/>
<rect x="212.5" y="182.5" width="6.0" height="6.0" fill="#008000" stroke="#000" stroke-width="1.5"/>
<rect x="277.5" y="156.5" width="6.0" height="6.0" fill="#008000" stroke="#000" stroke-width="1.5"/>
<rect x="211.5" y="190.5" width="6.0" height="6.0" fill="#008000" stroke="#000" stroke-width="1.5"/>
<rect x="405.5" y="165.5" width="6.0" height="6.0" fill="#008000" stroke="#000" stroke-width="1.5"/>
<rect x="377.5" y="150.5" width="6.0" height="6.0" fill="#008000" stroke="#000" stroke-width="1.5"/>
<rect x="395.5" y="154.5" width="6.0" height="6.0" fill="#008000" stroke="#000" stroke-width="1.5"/>
<rect x="168.5" y="178.5" width="6.0" height="6.0" fill="#008000" stroke="#000" stroke-width="1.5"/>
<rect x="251.5" y="158.5" width="6.0" height="6.0" fill="#008000" stroke="#000" stroke-width="1.5"/>
<rect x="235.5" y="179.5" width="6.0" height="6.0" fill="#008000" stroke="#000" stroke-width="1.5"/>
<rect x="88.5" y="171.5" width="6.0" height="6.0" fill="#008000" stroke="#000" stroke-width="1.5"/>
<rect x="369.5" y="141.5" width="6.0" height="6.0" fill="#008000" stroke="#000" stroke-width="1.5"/>
<rect x="364.5" y="165.5" width="6.0" height="6.0" fill="#008000" stroke="#000" stroke-width="1.5"/>
<rect x="195.5" y="168.5" width="6.0" height="6.0" fill="#008000" stroke="#000" stroke-width="1.5"/>
<rect x="320.5" y="156.5" width="6.0" height="6.0" fill="#008000" stroke="#000" stroke-width="1.5"/>
<rect x="393.5" y="145.5" width="6.0" height="6.0" fill="#008000" stroke="#000" stroke-width="1.5"/>
<rect x="449.5" y="174.5" width="6.0" height="6.0" fill="#008000" stroke="#000" stroke-width="1.5"/>
<rect x="83.5" y="167.5" width="6.0" height="6.0" fill="#008000" stroke="#000" stroke-width="1.5"/>
<rect x="157.5" y="176.5" width="6.0" height="6.0" fill="#008000" stroke="#000" stroke-width="1.5"/>
<rect x="207.5" y="184.5" width="6.0" height="6.0" fill="#008000" stroke="#000" stroke-width="1.5"/>
<rect x="364.5" y="169.5" width="6.0" height="6.0" fill="#008000" stroke="#000" stroke-width="1.5"/>
<rect x="90.5" y="167.5" width="6.0" height="6.0" fill="#008000" stroke="#000" stroke-width="1.5"/>
<rect x="138.5" y="168.5" width="6.0" height="6.0" fill="#008000" stroke="#000" stroke-width="1.5"/>
<rect x="311.5" y="153.5" width="6.0" height="6.0" fill="#008000" stroke="#000" stroke-width="1.5"/>
<rect x="202.5" y="184.5" width="6.0" height="6.0" fill="#008000" stroke="#000" stroke-width="1.5"/>
<rect x="463.5" y="163.5" width="6.0" height="6.0" fill="#008000" stroke="#000" stroke-width="1.5"/>
<rect x="365.5" y="146.5" width="6.0" height="6.0" fill="#008000" stroke="#000" stroke-width="1.5"/>
<rect x="111.5" y="167.5" width="6.0" height="6.0" fill="#008000" stroke="#000" stroke-width="1.5"/>
<rect x="216.5" y="161.5" width="6.0" height="6.0" fill="#008000" stroke="#000" stroke-width="1.5"/>
<rect x="467.5" y="162.5" width="6.0" height="6.0" fill="#008000" stroke="#000" stroke-width="1.5"/>
<rect x="431.5" y="159.5" width="6.0" height="6.0" fill="#008000" stroke="#000" stroke-width="1.5"/>
<rect x="247.5" y="166.5" width="6.0" height="6.0" fill="#008000" stroke="#000" stroke-width="1.5"/>
<rect x="413.5" y="154.5" width="6.0" height="6.0" fill="#008000" stroke="#000" stroke-width="1.5"/>
<rect x="389.5" y="158.5" width="6.0" height="6.0" fill="#008000" stroke="#000" stroke-width="1.5"/>
<rect x="107.5" y="169.5" width="6.0" height="6.0" fill="#008000" stroke="#000" stroke-width="1.5"/>
<rect x="327.5" y="159.5" width="6.0" height="6.0" fill="#008000" stroke="#000" stroke-width="1.5"/>
<rect x="124.5" y="170.5" width="6.0" height="6.0" fill="#008000" stroke="#000" stroke-width="1.5"/>
<rect x="116.5" y="166.5" width="6.0" height="6.0" fill="#008000" stroke="#000" stroke-width="1.5"/>
<rect x="78.5" y="184.5" width="6.0" height="6.0" fill="#008000" stroke="#000" stroke-width="1.5"/>
<rect x="101.5" y="170.5" width="6.0" height="6.0" fill="#008000" stroke="#000" stroke-width="1.5"/>
<rect x="246.5" y="158.5" width="6.0" height="6.0" fill="#008000" stroke="#000" stroke-width="1.5"/>
<rect x="212.5" y="165.5" width="6.0" height="6.0" fill="#008000" stroke="#000" stroke-width="1.5"/>
<rect x="78.5" y="169.5" width="6.0" height="6.0" fill="#008000" stroke="#000" stroke-width="1.5"/>
<rect x="192.5" y="176.5" width="6.0" height="6.0" fill="#008000" stroke="#000" stroke-width="1.5"/>
<rect x="410.5" y="174.5" width="6.0" height="6.0" fill="#008000" stroke="#000" stroke-width="1.5"/>
<rect x="430.5" y="162.5" width="6.0" height="6.0" fill="#008000" stroke="#000" stroke-width="1.5"/>
<rect x="298.5" y="135.5" width="6.0" height="6.0" fill="#008000" stroke="#000" stroke-width="1.5"/>
<rect x="363.5" y="148.5" width="6.0" height="6.0" fill="#008000" stroke="#000" stroke-width="1.5"/>
<rect x="176.5" y="187.5" width="6.0" height="6.0" fill="#008000" stroke="#000" stroke-width="1.5"/>
<rect x="263.5" y="156.5" width="6.0" height="6.0" fill="#008000" stroke="#000" stroke-width="1.5"/>
<path d="M206.5 170.4L209.6 173.5L206.5 176.6L203.4 173.5Z" fill="#0000ff"/>
<path d="M242.5 185.4L245.6 188.5L242.5 191.6L239.4 188.5Z" fill="#0000ff"/>
<path d="M464.5 166.4L467.6 169.5L464.5 172.6L461.4 169.5Z" fill="#0000ff"/>
<path d="M428.5 175.4L431.6 178.5L428.5 181.6L425.4 178.5Z" fill="#0000ff"/>
<path d="M275.5 167.4L278.6 170.5L275.5 173.6L272.4 170.5Z" fill="#0000ff"/>
<path d="M269.5 149.4L272.6 152.5L269.5 155.6L266.4 152.5Z" fill="#0000ff"/>
<path d="M336.5 130.4L339.6 133.5L336.5 136.6L333.4 133.5Z" fill="#0000ff"/>
<path d="M364.5 142.4L367.6 145.5L364.5 148.6L361.4 145.5Z" fill="#0000ff"/>
<path d="M265.5 168.4L268.6 171.5L265.5 174.6L262.4 171.5Z" fill="#0000ff"/>
<path d="M134.5 166.4L137.6 169.5L134.5 172.6L131.4 169.5Z" fill="#0000ff"/>
<path d="M365.5 151.4L368.6 154.5L365.5 157.6L362.4 154.5Z" fill="#0000ff"/>
<path d="M345.5 137.4L348.6 140.5L345.5 143.6L342.4 140.5Z" fill="#0000ff"/>
<path d="M459.5 170.4L462.6 173.5L459.5 176.6L456.4 173.5Z" fill="#0000ff"/>
<path d="M393.5 166.4L396.6 169.5L393.5 172.6L390.4 169.5Z" fill="#0000ff"/>
<path d="M202.5 174.4L205.6 177.5L202.5 180.6L199.4 177.5Z" fill="#0000ff"/>
<path d="M276.5 151.4L279.6 154.5L276.5 157.6L273.4 154.5Z" fill="#0000ff"/>
<path d="M118.5 170.4L121.6 173.5L118.5 176.6L115.4 173.5Z" fill="#0000ff"/>
<path d="M433.5 176.4L436.6 179.5L433.5 182.6L430.4 179.5Z" fill="#0000ff"/>
<path d="M92.5 177.4L95.6 180.5L92.5 183.6L89.4 180.5Z" fill="#0000ff"/>
<path d="M269.5 155.4L272.6 158.5L269.5 161.6L266.4 158.5Z" fill="#0000ff"/>
<path d="M414.5 180.4L417.6 183.5L414.5 186.6L411.4 183.5Z" fill="#0000ff"/>
<path d="M101.5 171.4L104.6 174.5L101.5 177.6L98.4 174.5Z" fill="#0000ff"/>
<path d="M369.5 139.4L372.6 142.5L369.5 145.6L366.4 142.5Z" fill="#0000ff"/>
<path d="M78.5 184.4L81.6 187.5L78.5 190.6L75.4 187.5Z" fill="#0000ff"/>
<path d="M219.5 187.4L222.6 190.5L219.5 193.6L216.4 190.5Z" fill="#0000ff"/>
<path d="M115.5 166.4L118.6 169.5L115.5 172.6L112.4 169.5Z" fill="#0000ff"/>
<path d="M416.5 154.4L419.6 157.5L416.5 160.6L413.4 157.5Z" fill="#0000ff"/>
<path d="M142.5 170.4L145.6 173.5L142.5 176.6L139.4 173.5Z" fill="#0000ff"/>
<path d="M127.5 171.4L130.6 174.5L127.5 177.6L124.4 174.5Z" fill="#0000ff"/>
<path d="M340.5 160.4L343.6 163.5L340.5 166.6L337.4 163.5Z" fill="#0000ff"/>
<path d="M242.5 174.4L245.6 177.5L242.5 180.6L239.4 177.5Z" fill="#0000ff"/>
<path d="M147.5 168.4L150.6 171.5L147.5 174.6L144.4 171.5Z" fill="#0000ff"/>
<path d="M91.5 166.4L94.6 169.5L91.5 172.6L88.4 169.5Z" fill="#0000ff"/>
<path d="M313.5 154.4L316.6 157.5L313.5 160.6L310.4 157.5Z" fill="#0000ff"/>
<path d="M242.5 175.4L245.6 178.5L242.5 181.6L239.4 178.5Z" fill="#0000ff"/>
<path d="M110.5 179.4L113.6 182.5L110.5 185.6L107.4 182.5Z" fill="#0000ff"/>
<path d="M429.5 159.4L432.6 162.5L429.5 165.6L426.4 162.5Z" fill="#0000ff"/>
<path d="M361.5 136.4L364.6 139.5L361.5 142.6L358.4 139.5Z" fill="#0000ff"/>
<path d="M134.5 169.4L137.6 172.5L134.5 175.6L131.4 172.5Z" fill="#0000ff"/>
<path d="M393.5 172.4L396.6 175.5L393.5 178.6L390.4 175.5Z" fill="#0000ff"/>
<path d="M367.5 162.4L370.6 165.5L367.5 168.6L364.4 165.5Z" fill="#0000ff"/>
<path d="M429.5 177.4L432.6 180.5L429.5 183.6L426.4 180.5Z" fill="#0000ff"/>
<path d="M123.5 165.4L126.6 168.5L123.5 171.6L120.4 168.5Z" fill="#0000ff"/>
<path d="M251.5 179.4L254.6 182.5L251.5 185.6L248.4 182.5Z" fill="#0000ff"/>
<path d="M205.5 169.4L208.6 172.5L205.5 175.6L202.4 172.5Z" fill="#0000ff"/>
<path d="M219.5 170.4L222.6 173.5L219.5 176.6L216.4 173.5Z" fill="#0000ff"/>
<path d="M196.5 185.4L199.6 188.5L196.5 191.6L193.4 188.5Z" fill="#0000ff"/>
<path d="M313.5 128.4L316.6 131.5L313.5 134.6L310.4 131.5Z" fill="#0000ff"/>
<path d="M137.5 166.4L140.6 169.5L137.5 172.6L134.4 169.5Z" fill="#0000ff"/>
<path d="M466.5 168.4L469.6 171.5L466.5 174.6L463.4 171.5Z" fill="#0000ff"/>
<path d="M134.5 166.4L137.6 169.5L134.5 172.6L131.4 169.5Z" fill="#0000ff"/>
<path d="M419.5 161.4L422.6 164.5L419.5 167.6L416.4 164.5Z" fill="#0000ff"/>
<path d="M264.5 171.4L267.6 174.5L264.5 177.6L261.4 174.5Z" fill="#0000ff"/>
<path d="M203.5 171.4L206.6 174.5L203.5 177.6L200.4 174.5Z" fill="#0000ff"/>
<path d="M155.5 177.4L158.6 180.5L155.5 183.6L152.4 180.5Z" fill="#0000ff"/>
<path d="M116.5 165.4L119.6 168.5L116.5 171.6L113.4 168.5Z" fill="#0000ff"/>
<path d="M191.5 184.4L194.6 187.5L191.5 190.6L188.4 187.5Z" fill="#0000ff"/>
<path d="M112.5 172.4L115.6 175.5L112.5 178.6L109.4 175.5Z" fill="#0000ff"/>
<path d="M190.5 175.4L193.6 178.5L190.5 181.6L187.4 178.5Z" fill="#0000ff"/>
<path d="M397.5 155.4L400.6 158.5L397.5 161.6L394.4 158.5Z" fill="#0000ff"/>
<path d="M383.5 170.4L386.6 173.5L383.5 176.6L380.4 173.5Z" fill="#0000ff"/>
<path d="M457.5 180.4L460.6 183.5L457.5 186.6L454.4 183.5Z" fill="#0000ff"/>
<path d="M82.5 165.4L85.6 168.5L82.5 171.6L79.4 168.5Z" fill="#0000ff"/>
<path d="M200.5 169.4L203.6 172.5L200.5 175.6L197.4 172.5Z" fill="#0000ff"/>
<path d="M324.5 134.4L327.6 137.5L324.5 140.6L321.4 137.5Z" fill="#0000ff"/>
<path d="M430.5 183.4L433.6 186.5L430.5 189.6L427.4 186.5Z" fill="#0000ff"/>
<path d="M343.5 163.4L346.6 166.5L343.5 169.6L340.4 166.5Z" fill="#0000ff"/>
<path d="M450.5 186.4L453.6 189.5L450.5 192.6L447.4 189.5Z" fill="#0000ff"/>
<path d="M216.5 189.4L219.6 192.5L216.5 195.6L213.4 192.5Z" fill="#0000ff"/>
<path d="M463.5 173.4L466.6 176.5L463.5 179.6L460.4 176.5Z" fill="#0000ff"/>
<path d="M166.5 178.4L169.6 181.5L166.5 184.6L163.4 181.5Z" fill="#0000ff"/>
<path d="M221.5 171.4L224.6 174.5L221.5 177.6L218.4 174.5Z" fill="#0000ff"/>
<path d="M406.5 176.4L409.6 179.5L406.5 182.6L403.4 179.5Z" fill="#0000ff"/>
<path d="M382.5 169.4L385.6 172.5L382.5 175.6L379.4 172.5Z" fill="#0000ff"/>
<path d="M347.5 155.4L350.6 158.5L347.5 161.6L344.4 158.5Z" fill="#0000ff"/>
<path d="M104.5 168.4L107.6 171.5L104.5 174.6L101.4 171.5Z" fill="#0000ff"/>
<path d="M222.5 191.4L225.6 194.5L222.5 197.6L219.4 194.5Z" fill="#0000ff"/>
<path d="M81.5 176.4L84.6 179.5L81.5 182.6L78.4 179.5Z" fill="#0000ff"/>
<path d="M359.5 142.4L362.6 145.5L359.5 148.6L356.4 145.5Z" fill="#0000ff"/>
<path d="M151.5 178.4L154.6 181.5L151.5 184.6L148.4 181.5Z" fill="#0000ff"/>
<path d="M138.5 166.4L141.6 169.5L138.5 172.6L135.4 169.5Z" fill="#0000ff"/>
<path d="M358.5 152.4L361.6 155.5L358.5 158.6L355.4 155.5Z" fill="#0000ff"/>
<use href="#ast" x="303.5" y="144.5"/>
<use href="#ast" x="364.5" y="148.5"/>
<use href="#ast" x="331.5" y="163.5"/>
<use href="#ast" x="293.5" y="162.5"/>
<use href="#ast" x="217.5" y="192.5"/>
<use href="#ast" x="221.5" y="182.5"/>
<use href="#ast" x="343.5" y="134.5"/>
<use href="#ast" x="446.5" y="191.5"/>
<use href="#ast" x="126.5" y="168.5"/>
<use href="#ast" x="297.5" y="161.5"/>
<use href="#ast" x="179.5" y="195.5"/>
<use href="#ast" x="131.5" y="171.5"/>
<use href="#ast" x="441.5" y="183.5"/>
<use href="#ast" x="325.5" y="159.5"/>
<use href="#ast" x="100.5" y="173.5"/>
<use href="#ast" x="452.5" y="188.5"/>
<use href="#ast" x="402.5" y="174.5"/>
<use href="#ast" x="282.5" y="162.5"/>
<use href="#ast" x="365.5" y="173.5"/>
<use href="#ast" x="89.5" y="168.5"/>
<use href="#ast" x="209.5" y="174.5"/>
<use href="#ast" x="263.5" y="176.5"/>
<use href="#ast" x="123.5" y="168.5"/>
<use href="#ast" x="235.5" y="188.5"/>
<use href="#ast" x="270.5" y="176.5"/>
<use href="#ast" x="327.5" y="141.5"/>
<use href="#ast" x="370.5" y="152.5"/>
<use href="#ast" x="456.5" y="178.5"/>
<use href="#ast" x="234.5" y="174.5"/>
<use href="#ast" x="157.5" y="178.5"/>
<use href="#ast" x="205.5" y="172.5"/>
<use href="#ast" x="116.5" y="173.5"/>
<use href="#ast" x="381.5" y="166.5"/>
<use href="#ast" x="278.5" y="163.5"/>
<use href="#ast" x="98.5" y="186.5"/>
<use href="#ast" x="91.5" y="184.5"/>
<use href="#ast" x="78.5" y="169.5"/>
<use href="#ast" x="155.5" y="185.5"/>
<use href="#ast" x="134.5" y="167.5"/>
<use href="#ast" x="89.5" y="191.5"/>
<use href="#ast" x="383.5" y="157.5"/>
<use href="#ast" x="432.5" y="187.5"/>
<use href="#ast" x="163.5" y="192.5"/>
<use href="#ast" x="114.5" y="183.5"/>
<use href="#ast" x="137.5" y="170.5"/>
<use href="#ast" x="219.5" y="196.5"/>
<use href="#ast" x="149.5" y="176.5"/>
<use href="#ast" x="270.5" y="151.5"/>
<use href="#ast" x="100.5" y="187.5"/>
<use href="#ast" x="288.5" y="141.5"/>
<use href="#ast" x="229.5" y="176.5"/>
<use href="#ast" x="459.5" y="185.5"/>
<use href="#ast" x="110.5" y="177.5"/>
<use href="#ast" x="80.5" y="174.5"/>
<use href="#ast" x="119.5" y="169.5"/>
<use href="#ast" x="437.5" y="165.5"/>
<use href="#ast" x="305.5" y="134.5"/>
<use href="#ast" x="299.5" y="148.5"/>
<use href="#ast" x="249.5" y="177.5"/>
<use href="#ast" x="143.5" y="172.5"/>
<use href="#ast" x="174.5" y="172.5"/>
<use href="#ast" x="187.5" y="180.5"/>
<use href="#ast" x="187.5" y="172.5"/>
<use href="#ast" x="245.5" y="176.5"/>
<use href="#ast" x="279.5" y="158.5"/>
<use href="#ast" x="109.5" y="181.5"/>
<use href="#ast" x="86.5" y="185.5"/>
<use href="#ast" x="399.5" y="169.5"/>
<use href="#ast" x="361.5" y="138.5"/>
<use href="#ast" x="339.5" y="160.5"/>
<use href="#ast" x="459.5" y="189.5"/>
<use href="#ast" x="121.5" y="168.5"/>
<use href="#ast" x="374.5" y="146.5"/>
<use href="#ast" x="230.5" y="168.5"/>
<use href="#ast" x="420.5" y="173.5"/>
<use href="#ast" x="152.5" y="178.5"/>
<use href="#ast" x="226.5" y="168.5"/>
<use href="#ast" x="263.5" y="158.5"/>
<use href="#ast" x="297.5" y="156.5"/>
<use href="#ast" x="446.5" y="173.5"/>
<use href="#ast" x="102.5" y="177.5"/>
<use href="#ast" x="150.5" y="178.5"/>
<use href="#ast" x="383.5" y="151.5"/>
<use href="#ast" x="237.5" y="190.5"/>
<use href="#ast" x="417.5" y="160.5"/>
<use href="#ast" x="358.5" y="168.5"/>
<use href="#ast" x="160.5" y="191.5"/>
<use href="#ast" x="348.5" y="168.5"/>
<use href="#ast" x="470.5" y="185.5"/>
<use href="#ast" x="418.5" y="179.5"/>
<use href="#ast" x="392.5" y="152.5"/>
<use href="#ast" x="407.5" y="155.5"/>
<use href="#ast" x="436.5" y="171.5"/>
<use href="#ast" x="403.5" y="153.5"/>
<use href="#ast" x="183.5" y="193.5"/>
<use href="#ast" x="134.5" y="168.5"/>
<use href="#ast" x="173.5" y="186.5"/>
<use href="#ast" x="206.5" y="193.5"/>
<use href="#ast" x="433.5" y="182.5"/>
<use href="#ast" x="401.5" y="172.5"/>
<use href="#ast" x="449.5" y="167.5"/>
<use href="#ast" x="210.5" y="183.5"/>
<use href="#ast" x="231.5" y="178.5"/>
<use href="#ast" x="252.5" y="179.5"/>
<use href="#ast" x="204.5" y="171.5"/>
<use href="#ast" x="131.5" y="171.5"/>
<use href="#ast" x="149.5" y="175.5"/>
<use href="#ast" x="165.5" y="191.5"/>
<use href="#ast" x="140.5" y="173.5"/>
<use href="#ast" x="157.5" y="178.5"/>
<use href="#ast" x="91.5" y="168.5"/>
<use href="#ast" x="117.5" y="178.5"/>
<use href="#ast" x="370.5" y="141.5"/>
<use href="#ast" x="365.5" y="166.5"/>
<use href="#ast" x="113.5" y="175.5"/>
<use href="#ast" x="84.5" y="171.5"/>
<use href="#ast" x="444.5" y="172.5"/>
<use href="#ast" x="132.5" y="167.5"/>
<use href="#ast" x="329.5" y="145.5"/>
<use href="#ast" x="414.5" y="157.5"/>
<use href="#ast" x="218.5" y="168.5"/>
<use href="#ast" x="449.5" y="184.5"/>
<use href="#ast" x="165.5" y="186.5"/>
<use href="#ast" x="405.5" y="156.5"/>
<use href="#ast" x="337.5" y="161.5"/>
<use href="#ast" x="392.5" y="174.5"/>
<use href="#ast" x="331.5" y="136.5"/>
<use href="#ast" x="106.5" y="179.5"/>
<use href="#ast" x="400.5" y="166.5"/>
<path d="M407.5 173.5V184.5M405.3 173.5h4.4M405.3 184.5h4.4" stroke="#3030f0"/>
<path d="M127.5 161.5V174.5M125.3 161.5h4.4M125.3 174.5h4.4" stroke="#3030f0"/>
<path d="M290.5 132.5V149.5M288.3 132.5h4.4M288.3 149.5h4.4" stroke="#3030f0"/>
<path d="M459.5 167.5V183.5M457.3 167.5h4.4M457.3 183.5h4.4" stroke="#3030f0"/>
<path d="M317.5 138.5V150.5M315.3 138.5h4.4M315.3 150.5h4.4" stroke="#3030f0"/>
<path d="M162.5 187.5V198.5M160.3 187.5h4.4M160.3 198.5h4.4" stroke="#3030f0"/>
<path d="M102.5 182.5V190.5M100.3 182.5h4.4M100.3 190.5h4.4" stroke="#3030f0"/>
<path d="M399.5 154.5V168.5M397.3 154.5h4.4M397.3 168.5h4.4" stroke="#3030f0"/>
<path d="M77.5 173.5V181.5M75.3 173.5h4.4M75.3 181.5h4.4" stroke="#3030f0"/>
<path d="M442.5 162.5V170.5M440.3 162.5h4.4M440.3 170.5h4.4" stroke="#3030f0"/>
<path d="M433.5 184.5V195.5M431.3 184.5h4.4M431.3 195.5h4.4" stroke="#3030f0"/>
<path d="M197.5 162.5V174.5M195.3 162.5h4.4M195.3 174.5h4.4" stroke="#3030f0"/>
<path d="M192.5 190.5V197.5M190.3 190.5h4.4M190.3 197.5h4.4" stroke="#3030f0"/>
<path d="M430.5 148.5V175.5M428.3 148.5h4.4M428.3 175.5h4.4" stroke="#3030f0"/>
<path d="M228.5 166.5V177.5M226.3 166.5h4.4M226.3 177.5h4.4" stroke="#3030f0"/>
<path d="M100.5 158.5V179.5M98.3 158.5h4.4M98.3 179.5h4.4" stroke="#3030f0"/>
<path d="M140.5 170.5V178.5M138.3 170.5h4.4M138.3 178.5h4.4" stroke="#3030f0"/>
<path d="M448.5 188.5V194.5M446.3 188.5h4.4M446.3 194.5h4.4" stroke="#3030f0"/>
<path d="M244.5 175.5V184.5M242.3 175.5h4.4M242.3 184.5h4.4" stroke="#3030f0"/>
<path d="M278.5 143.5V153.5M276.3 143.5h4.4M276.3 153.5h4.4" stroke="#3030f0"/>
<path d="M398.5 144.5V159.5M396.3 144.5h4.4M396.3 159.5h4.4" stroke="#3030f0"/>
<path d="M319.5 135.5V148.5M317.3 135.5h4.4M317.3 148.5h4.4" stroke="#3030f0"/>
<path d="M420.5 175.5V182.5M418.3 175.5h4.4M418.3 182.5h4.4" stroke="#3030f0"/>
<path d="M132.5 165.5V180.5M130.3 165.5h4.4M130.3 180.5h4.4" stroke="#3030f0"/>
<path d="M168.5 172.5V178.5M166.3 172.5h4.4M166.3 178.5h4.4" stroke="#3030f0"/>
<path d="M274.5 148.5V164.5M272.3 148.5h4.4M272.3 164.5h4.4" stroke="#3030f0"/>
<path d="M221.5 176.5V187.5M219.3 176.5h4.4M219.3 187.5h4.4" stroke="#3030f0"/>
<path d="M425.5 168.5V179.5M423.3 168.5h4.4M423.3 179.5h4.4" stroke="#3030f0"/>
<path d="M177.5 171.5V177.5M175.3 171.5h4.4M175.3 177.5h4.4" stroke="#3030f0"/>
<path d="M339.5 135.5V143.5M337.3 135.5h4.4M337.3 143.5h4.4" stroke="#3030f0"/>
<path d="M77.5 173.5V183.5M75.3 173.5h4.4M75.3 183.5h4.4" stroke="#3030f0"/>
<path d="M186.5 170.5V176.5M184.3 170.5h4.4M184.3 176.5h4.4" stroke="#3030f0"/>
<path d="M155.5 178.5V190.5M153.3 178.5h4.4M153.3 190.5h4.4" stroke="#3030f0"/>
<path d="M454.5 156.5V181.5M452.3 156.5h4.4M452.3 181.5h4.4" stroke="#3030f0"/>
<path d="M153.5 180.5V186.5M151.3 180.5h4.4M151.3 186.5h4.4" stroke="#3030f0"/>
<path d="M237.5 157.5V171.5M235.3 157.5h4.4M235.3 171.5h4.4" stroke="#3030f0"/>
<path d="M143.5 166.5V177.5M141.3 166.5h4.4M141.3 177.5h4.4" stroke="#3030f0"/>
<path d="M78.5 183.5V193.5M76.3 183.5h4.4M76.3 193.5h4.4" stroke="#3030f0"/>
<path d="M381.5 171.5V179.5M379.3 171.5h4.4M379.3 179.5h4.4" stroke="#3030f0"/>
<path d="M128.5 160.5V173.5M126.3 160.5h4.4M126.3 173.5h4.4" stroke="#3030f0"/>
<path d="M101.5 174.5V187.5M99.3 174.5h4.4M99.3 187.5h4.4" stroke="#3030f0"/>
<path d="M348.5 128.5V142.5M346.3 128.5h4.4M346.3 142.5h4.4" stroke="#3030f0"/>
<path d="M262.5 168.5V178.5M260.3 168.5h4.4M260.3 178.5h4.4" stroke="#3030f0"/>
<path d="M144.5 171.5V184.5M142.3 171.5h4.4M142.3 184.5h4.4" stroke="#3030f0"/>
<path d="M86.5 176.5V187.5M84.3 176.5h4.4M84.3 187.5h4.4" stroke="#3030f0"/>
<path d="M447.5 172.5V178.5M445.3 172.5h4.4M445.3 178.5h4.4" stroke="#3030f0"/>
<path d="M167.5 173.5V181.5M165.3 173.5h4.4M165.3 181.5h4.4" stroke="#3030f0"/>
<path d="M447.5 184.5V190.5M445.3 184.5h4.4M445.3 190.5h4.4" stroke="#3030f0"/>
<path d="M105.5 172.5V187.5M103.3 172.5h4.4M103.3 187.5h4.4" stroke="#3030f0"/>
<path d="M325.5 135.5V148.5M323.3 135.5h4.4M323.3 148.5h4.4" stroke="#3030f0"/>
<path d="M118.5 165.5V175.5M116.3 165.5h4.4M116.3 175.5h4.4" stroke="#3030f0"/>
<path d="M156.5 181.5V195.5M154.3 181.5h4.4M154.3 195.5h4.4" stroke="#3030f0"/>
<path d="M465.5 164.5V170.5M463.3 164.5h4.4M463.3 170.5h4.4" stroke="#3030f0"/>
<path d="M136.5 166.5V183.5M134.3 166.5h4.4M134.3 183.5h4.4" stroke="#3030f0"/>
<path d="M403.5 170.5V176.5M401.3 170.5h4.4M401.3 176.5h4.4" stroke="#3030f0"/>
<path d="M125.5 162.5V174.5M123.3 162.5h4.4M123.3 174.5h4.4" stroke="#3030f0"/>
<path d="M295.5 153.5V165.5M293.3 153.5h4.4M293.3 165.5h4.4" stroke="#3030f0"/>
<path d="M285.5 151.5V166.5M283.3 151.5h4.4M283.3 166.5h4.4" stroke="#3030f0"/>
<path d="M168.5 170.5V176.5M166.3 170.5h4.4M166.3 176.5h4.4" stroke="#3030f0"/>
<path d="M113.5 166.5V172.5M111.3 166.5h4.4M111.3 172.5h4.4" stroke="#3030f0"/>
<path d="M364.5 137.5V145.5M362.3 137.5h4.4M362.3 145.5h4.4" stroke="#3030f0"/>
<path d="M278.5 164.5V180.5M276.3 164.5h4.4M276.3 180.5h4.4" stroke="#3030f0"/>
<path d="M457.5 183.5V194.5M455.3 183.5h4.4M455.3 194.5h4.4" stroke="#3030f0"/>
<path d="M454.5 162.5V179.5M452.3 162.5h4.4M452.3 179.5h4.4" stroke="#3030f0"/>
<path d="M248.5 161.5V167.5M246.3 161.5h4.4M246.3 167.5h4.4" stroke="#3030f0"/>
<path d="M163.5 196.5V221.5M161.3 196.5h4.4M161.3 221.5h4.4" stroke="#555555"/>
<path d="M248.5 144.5V162.5M246.3 144.5h4.4M246.3 162.5h4.4" stroke="#555555"/>
<path d="M282.5 123.5V141.5M280.3 123.5h4.4M280.3 141.5h4.4" stroke="#555555"/>
<path d="M412.5 150.5V162.5M410.3 150.5h4.4M410.3 162.5h4.4" stroke="#555555"/>
<path d="M425.5 194.5V206.5M423.3 194.5h4.4M423.3 206.5h4.4" stroke="#555555"/>
<path d="M447.5 191.5V203.5M445.3 191.5h4.4M445.3 203.5h4.4" stroke="#555555"/>
<path d="M180.5 197.5V214.5M178.3 197.5h4.4M178.3 214.5h4.4" stroke="#555555"/>
<path d="M192.5 193.5V212.5M190.3 193.5h4.4M190.3 212.5h4.4" stroke="#555555"/>
<path d="M208.5 188.5V205.5M206.3 188.5h4.4M206.3 205.5h4.4" stroke="#555555"/>
<path d="M236.5 192.5V205.5M234.3 192.5h4.4M234.3 205.5h4.4" stroke="#555555"/>
<rect x="160.5" y="201.5" width="6.0" height="6.0" fill="#000" stroke="#008000" stroke-width="1.5"/>
<rect x="245.5" y="153.5" width="6.0" height="6.0" fill="#000" stroke="#008000" stroke-width="1.5"/>
<rect x="279.5" y="132.5" width="6.0" height="6.0" fill="#000" stroke="#008000" stroke-width="1.5"/>
<rect x="409.5" y="153.5" width="6.0" height="6.0" fill="#000" stroke="#008000" stroke-width="1.5"/>
<rect x="422.5" y="197.5" width="6.0" height="6.0" fill="#000" stroke="#008000" stroke-width="1.5"/>
<rect x="444.5" y="194.5" width="6.0" height="6.0" fill="#000" stroke="#008000" stroke-width="1.5"/>
<rect x="177.5" y="200.5" width="6.0" height="6.0" fill="#000" stroke="#008000" stroke-width="1.5"/>
<rect x="189.5" y="196.5" width="6.0" height="6.0" fill="#000" stroke="#008000" stroke-width="1.5"/>
<rect x="205.5" y="191.5" width="6.0" height="6.0" fill="#000" stroke="#008000" stroke-width="1.5"/>
<rect x="233.5" y="195.5" width="6.0" height="6.0" fill="#000" stroke="#008000" stroke-width="1.5"/>
<path d="M110.5 183.5V206.5M108.3 183.5h4.4M108.3 206.5h4.4" stroke="#ff2020"/>
<path d="M366.5 130.5V149.5M364.3 130.5h4.4M364.3 149.5h4.4" stroke="#ff2020"/>
<path d="M406.5 140.5V158.5M404.3 140.5h4.4M404.3 158.5h4.4" stroke="#ff2020"/>
<path d="M465.5 186.5V205.5M463.3 186.5h4.4M463.3 205.5h4.4" stroke="#ff2020"/>
<path d="M368.5 163.5V175.5M366.3 163.5h4.4M366.3 175.5h4.4" stroke="#ff2020"/>
<path d="M167.5 152.5V174.5M165.3 152.5h4.4M165.3 174.5h4.4" stroke="#ff2020"/>
<rect x="107.6" y="188.6" width="5.8" height="5.8" fill="#f00" stroke="#000" stroke-width="1.6"/>
<rect x="363.6" y="138.6" width="5.8" height="5.8" fill="#f00" stroke="#000" stroke-width="1.6"/>
<rect x="403.6" y="147.6" width="5.8" height="5.8" fill="#f00" stroke="#000" stroke-width="1.6"/>
<rect x="462.6" y="189.6" width="5.8" height="5.8" fill="#f00" stroke="#000" stroke-width="1.6"/>
<rect x="365.6" y="166.6" width="5.8" height="5.8" fill="#f00" stroke="#000" stroke-width="1.6"/>
<rect x="164.6" y="163.6" width="5.8" height="5.8" fill="#f00" stroke="#000" stroke-width="1.6"/>
<path d="M122.5 159.5V171.5M120.3 159.5h4.4M120.3 171.5h4.4" stroke="#555555"/>
<path d="M133.5 162.5V174.5M131.3 162.5h4.4M131.3 174.5h4.4" stroke="#555555"/>
<rect x="119.5" y="162.5" width="6.0" height="6.0" fill="#000"/>
<rect x="130.5" y="165.5" width="6.0" height="6.0" fill="#000"/>
<path d="M264.5 144.5V156.5M262.3 144.5h4.4M262.3 156.5h4.4" stroke="#902090"/>
<path d="M302.5 145.5V157.5M300.3 145.5h4.4M300.3 157.5h4.4" stroke="#902090"/>
<path d="M335.5 117.5V129.5M333.3 117.5h4.4M333.3 129.5h4.4" stroke="#902090"/>
<path d="M345.5 124.5V138.5M343.3 124.5h4.4M343.3 138.5h4.4" stroke="#902090"/>
<path d="M356.5 124.5V138.5M354.3 124.5h4.4M354.3 138.5h4.4" stroke="#902090"/>
<path d="M264.5 147.4L267.6 150.5L264.5 153.6L261.4 150.5Z" fill="#800080"/>
<path d="M302.5 148.4L305.6 151.5L302.5 154.6L299.4 151.5Z" fill="#800080"/>
<path d="M335.5 120.4L338.6 123.5L335.5 126.6L332.4 123.5Z" fill="#800080"/>
<path d="M345.5 129.4L348.6 132.5L345.5 135.6L342.4 132.5Z" fill="#800080"/>
<path d="M356.5 129.4L359.6 132.5L356.5 135.6L353.4 132.5Z" fill="#800080"/>
<path d="M126.5 169.5V188.5M124.3 169.5h4.4M124.3 188.5h4.4" stroke="#3030f0"/>
<path d="M147.5 159.5V177.5M145.3 159.5h4.4M145.3 177.5h4.4" stroke="#3030f0"/>
<path d="M105.5 156.5V175.5M103.3 156.5h4.4M103.3 175.5h4.4" stroke="#3030f0"/>
<rect x="123.7" y="174.7" width="5.6" height="5.6" fill="#00f"/>
<rect x="144.7" y="166.7" width="5.6" height="5.6" fill="#00f"/>
<rect x="102.7" y="164.7" width="5.6" height="5.6" fill="#00f"/>
<path d="M78.5 146.5V172.5M76.3 146.5h4.4M76.3 172.5h4.4" stroke="#202090"/>
<path d="M290.5 118.5V137.5M288.3 118.5h4.4M288.3 137.5h4.4" stroke="#202090"/>
<path d="M433.5 147.5V170.5M431.3 147.5h4.4M431.3 170.5h4.4" stroke="#202090"/>
<path d="M412.5 183.5V204.5M410.3 183.5h4.4M410.3 204.5h4.4" stroke="#202090"/>
<path d="M272.5 126.5V150.5M270.3 126.5h4.4M270.3 150.5h4.4" stroke="#202090"/>
<path d="M78.5 161.4L81.6 164.5L78.5 167.6L75.4 164.5Z" fill="#000080"/>
<path d="M290.5 128.4L293.6 131.5L290.5 134.6L287.4 131.5Z" fill="#000080"/>
<path d="M433.5 161.4L436.6 164.5L433.5 167.6L430.4 164.5Z" fill="#000080"/>
<path d="M412.5 186.4L415.6 189.5L412.5 192.6L409.4 189.5Z" fill="#000080"/>
<path d="M272.5 141.4L275.6 144.5L272.5 147.6L269.4 144.5Z" fill="#000080"/>
<path d="M93.5 192.5V206.5M91.3 192.5h4.4M91.3 206.5h4.4" stroke="#208020"/>
<path d="M370.5 171.5V185.5M368.3 171.5h4.4M368.3 185.5h4.4" stroke="#208020"/>
<path d="M169.5 195.5V207.5M167.3 195.5h4.4M167.3 207.5h4.4" stroke="#208020"/>
<rect x="90.5" y="195.5" width="6.0" height="6.0" fill="#008000" stroke="#000" stroke-width="1.5"/>
<rect x="367.5" y="174.5" width="6.0" height="6.0" fill="#008000" stroke="#000" stroke-width="1.5"/>
<rect x="166.5" y="198.5" width="6.0" height="6.0" fill="#008000" stroke="#000" stroke-width="1.5"/>
<path d="M114.5 185.5V200.5M112.3 185.5h4.4M112.3 200.5h4.4" stroke="#3030f0"/>
<path d="M287.5 163.5V179.5M285.3 163.5h4.4M285.3 179.5h4.4" stroke="#3030f0"/>
<path d="M296.5 160.5V176.5M294.3 160.5h4.4M294.3 176.5h4.4" stroke="#3030f0"/>
<path d="M114.5 189.4L117.6 192.5L114.5 195.6L111.4 192.5Z" fill="#0000ff"/>
<path d="M287.5 165.4L290.6 168.5L287.5 171.6L284.4 168.5Z" fill="#0000ff"/>
<path d="M296.5 162.4L299.6 165.5L296.5 168.6L293.4 165.5Z" fill="#0000ff"/>
<circle cx="272.8" cy="144.4" r="5.3" fill="none" stroke="#3030a0" stroke-width="1"/>
<rect x="386" y="139" width="10.5" height="10" fill="none" stroke="#ff6060" stroke-width="1"/>
<path d="M639.5 151.5V164.5M637.3 151.5h4.4M637.3 164.5h4.4" stroke="#555555"/>
<path d="M618.5 137.5V156.5M616.3 137.5h4.4M616.3 156.5h4.4" stroke="#555555"/>
<path d="M628.5 142.5V160.5M626.3 142.5h4.4M626.3 160.5h4.4" stroke="#555555"/>
<path d="M639.5 133.5V154.5M637.3 133.5h4.4M637.3 154.5h4.4" stroke="#555555"/>
<path d="M629.5 153.5V166.5M627.3 153.5h4.4M627.3 166.5h4.4" stroke="#555555"/>
<path d="M614.5 134.5V142.5M612.3 134.5h4.4M612.3 142.5h4.4" stroke="#555555"/>
<path d="M629.5 122.5V146.5M627.3 122.5h4.4M627.3 146.5h4.4" stroke="#555555"/>
<path d="M638.5 148.5V170.5M636.3 148.5h4.4M636.3 170.5h4.4" stroke="#555555"/>
<path d="M630.5 133.5V149.5M628.3 133.5h4.4M628.3 149.5h4.4" stroke="#555555"/>
<path d="M620.5 121.5V138.5M618.3 121.5h4.4M618.3 138.5h4.4" stroke="#555555"/>
<path d="M638.5 140.5V161.5M636.3 140.5h4.4M636.3 161.5h4.4" stroke="#555555"/>
<path d="M619.5 136.5V151.5M617.3 136.5h4.4M617.3 151.5h4.4" stroke="#555555"/>
<path d="M633.5 138.5V156.5M631.3 138.5h4.4M631.3 156.5h4.4" stroke="#555555"/>
<path d="M630.5 135.5V154.5M628.3 135.5h4.4M628.3 154.5h4.4" stroke="#555555"/>
<path d="M632.5 130.5V139.5M630.3 130.5h4.4M630.3 139.5h4.4" stroke="#555555"/>
<path d="M630.5 136.5V177.5M628.3 136.5h4.4M628.3 177.5h4.4" stroke="#555555"/>
<path d="M628.5 148.5V165.5M626.3 148.5h4.4M626.3 165.5h4.4" stroke="#555555"/>
<path d="M635.5 123.5V142.5M633.3 123.5h4.4M633.3 142.5h4.4" stroke="#555555"/>
<path d="M629.5 122.5V151.5M627.3 122.5h4.4M627.3 151.5h4.4" stroke="#555555"/>
<path d="M640.5 135.5V156.5M638.3 135.5h4.4M638.3 156.5h4.4" stroke="#555555"/>
<path d="M632.5 123.5V139.5M630.3 123.5h4.4M630.3 139.5h4.4" stroke="#555555"/>
<path d="M620.5 129.5V143.5M618.3 129.5h4.4M618.3 143.5h4.4" stroke="#555555"/>
<path d="M638.5 127.5V148.5M636.3 127.5h4.4M636.3 148.5h4.4" stroke="#555555"/>
<path d="M627.5 138.5V170.5M625.3 138.5h4.4M625.3 170.5h4.4" stroke="#555555"/>
<path d="M616.5 122.5V138.5M614.3 122.5h4.4M614.3 138.5h4.4" stroke="#555555"/>
<path d="M615.5 154.5V173.5M613.3 154.5h4.4M613.3 173.5h4.4" stroke="#555555"/>
<path d="M627.5 140.5V148.5M625.3 140.5h4.4M625.3 148.5h4.4" stroke="#555555"/>
<path d="M630.5 135.5V153.5M628.3 135.5h4.4M628.3 153.5h4.4" stroke="#555555"/>
<path d="M633.5 122.5V136.5M631.3 122.5h4.4M631.3 136.5h4.4" stroke="#555555"/>
<path d="M631.5 141.5V157.5M629.3 141.5h4.4M629.3 157.5h4.4" stroke="#555555"/>
<path d="M620.5 153.5V171.5M618.3 153.5h4.4M618.3 171.5h4.4" stroke="#555555"/>
<path d="M643.5 122.5V130.5M641.3 122.5h4.4M641.3 130.5h4.4" stroke="#555555"/>
<path d="M648.5 122.5V145.5M646.3 122.5h4.4M646.3 145.5h4.4" stroke="#555555"/>
<path d="M649.5 119.5V145.5M647.3 119.5h4.4M647.3 145.5h4.4" stroke="#555555"/>
<path d="M640.5 115.5V142.5M638.3 115.5h4.4M638.3 142.5h4.4" stroke="#555555"/>
<path d="M644.5 136.5V150.5M642.3 136.5h4.4M642.3 150.5h4.4" stroke="#555555"/>
<path d="M646.5 133.5V158.5M644.3 133.5h4.4M644.3 158.5h4.4" stroke="#555555"/>
<path d="M647.5 155.5V170.5M645.3 155.5h4.4M645.3 170.5h4.4" stroke="#555555"/>
<path d="M619.5 147.5V178.5M617.3 147.5h4.4M617.3 178.5h4.4" stroke="#202090"/>
<path d="M624.5 139.5V161.5M622.3 139.5h4.4M622.3 161.5h4.4" stroke="#202090"/>
<path d="M627.5 120.5V141.5M625.3 120.5h4.4M625.3 141.5h4.4" stroke="#202090"/>
<path d="M644.5 128.5V144.5M642.3 128.5h4.4M642.3 144.5h4.4" stroke="#202090"/>
<path d="M644.5 155.5V164.5M642.3 155.5h4.4M642.3 164.5h4.4" stroke="#202090"/>
<path d="M646.5 153.5V170.5M644.3 153.5h4.4M644.3 170.5h4.4" stroke="#202090"/>
<path d="M647.5 115.5V141.5M645.3 115.5h4.4M645.3 141.5h4.4" stroke="#202090"/>
<path d="M646.5 133.5V151.5M644.3 133.5h4.4M644.3 151.5h4.4" stroke="#202090"/>
<path d="M644.5 126.5V144.5M642.3 126.5h4.4M642.3 144.5h4.4" stroke="#202090"/>
<path d="M640.5 121.5V140.5M638.3 121.5h4.4M638.3 140.5h4.4" stroke="#202090"/>
<path d="M645.5 128.5V142.5M643.3 128.5h4.4M643.3 142.5h4.4" stroke="#202090"/>
<path d="M643.5 135.5V157.5M641.3 135.5h4.4M641.3 157.5h4.4" stroke="#202090"/>
<path d="M648.5 131.5V140.5M646.3 131.5h4.4M646.3 140.5h4.4" stroke="#202090"/>
<path d="M640.5 127.5V146.5M638.3 127.5h4.4M638.3 146.5h4.4" stroke="#202090"/>
<path d="M651.5 153.5V169.5M649.3 153.5h4.4M649.3 169.5h4.4" stroke="#202090"/>
<path d="M649.5 136.5V152.5M647.3 136.5h4.4M647.3 152.5h4.4" stroke="#202090"/>
<path d="M651.5 145.5V155.5M649.3 145.5h4.4M649.3 155.5h4.4" stroke="#202090"/>
<path d="M641.5 118.5V138.5M639.3 118.5h4.4M639.3 138.5h4.4" stroke="#202090"/>
<path d="M641.5 148.5V159.5M639.3 148.5h4.4M639.3 159.5h4.4" stroke="#202090"/>
<path d="M645.5 135.5V156.5M643.3 135.5h4.4M643.3 156.5h4.4" stroke="#202090"/>
<path d="M649.5 140.5V162.5M647.3 140.5h4.4M647.3 162.5h4.4" stroke="#202090"/>
<path d="M645.5 118.5V141.5M643.3 118.5h4.4M643.3 141.5h4.4" stroke="#202090"/>
<path d="M641.5 145.5V154.5M639.3 145.5h4.4M639.3 154.5h4.4" stroke="#202090"/>
<path d="M642.5 147.5V158.5M640.3 147.5h4.4M640.3 158.5h4.4" stroke="#202090"/>
<path d="M643.5 152.5V166.5M641.3 152.5h4.4M641.3 166.5h4.4" stroke="#202090"/>
<path d="M640.5 145.5V165.5M638.3 145.5h4.4M638.3 165.5h4.4" stroke="#202090"/>
<path d="M650.5 123.5V151.5M648.3 123.5h4.4M648.3 151.5h4.4" stroke="#202090"/>
<path d="M626.5 141.5V157.5M624.3 141.5h4.4M624.3 157.5h4.4" stroke="#208020"/>
<path d="M616.5 131.5V150.5M614.3 131.5h4.4M614.3 150.5h4.4" stroke="#3030f0"/>
<path d="M619.5 129.5V149.5M617.3 129.5h4.4M617.3 149.5h4.4" stroke="#3030f0"/>
<path d="M619.5 149.5V173.5M617.3 149.5h4.4M617.3 173.5h4.4" stroke="#3030f0"/>
<path d="M632.5 151.5V159.5M630.3 151.5h4.4M630.3 159.5h4.4" stroke="#3030f0"/>
<path d="M647.5 119.5V133.5M645.3 119.5h4.4M645.3 133.5h4.4" stroke="#3030f0"/>
<path d="M643.5 129.5V150.5M641.3 129.5h4.4M641.3 150.5h4.4" stroke="#3030f0"/>
<rect x="636.5" y="154.5" width="6.0" height="6.0" fill="#000" stroke="#008000" stroke-width="1.5"/>
<rect x="628.6" y="147.6" width="5.8" height="5.8" fill="#f00" stroke="#000" stroke-width="1.6"/>
<rect x="616.6" y="135.6" width="5.8" height="5.8" fill="#f00" stroke="#000" stroke-width="1.6"/>
<rect x="637.6" y="138.6" width="5.8" height="5.8" fill="#f00" stroke="#000" stroke-width="1.6"/>
<rect x="616.6" y="152.6" width="5.8" height="5.8" fill="#f00" stroke="#000" stroke-width="1.6"/>
<rect x="613.6" y="147.6" width="5.8" height="5.8" fill="#f00" stroke="#000" stroke-width="1.6"/>
<rect x="635.6" y="153.6" width="5.8" height="5.8" fill="#f00" stroke="#000" stroke-width="1.6"/>
<rect x="612.6" y="161.6" width="5.8" height="5.8" fill="#f00" stroke="#000" stroke-width="1.6"/>
<rect x="627.6" y="136.6" width="5.8" height="5.8" fill="#f00" stroke="#000" stroke-width="1.6"/>
<rect x="629.6" y="146.6" width="5.8" height="5.8" fill="#f00" stroke="#000" stroke-width="1.6"/>
<rect x="629.6" y="159.6" width="5.8" height="5.8" fill="#f00" stroke="#000" stroke-width="1.6"/>
<rect x="619.6" y="161.6" width="5.8" height="5.8" fill="#f00" stroke="#000" stroke-width="1.6"/>
<rect x="622.6" y="155.6" width="5.8" height="5.8" fill="#f00" stroke="#000" stroke-width="1.6"/>
<rect x="626.6" y="137.6" width="5.8" height="5.8" fill="#f00" stroke="#000" stroke-width="1.6"/>
<rect x="630.6" y="159.6" width="5.8" height="5.8" fill="#f00" stroke="#000" stroke-width="1.6"/>
<rect x="637.6" y="140.6" width="5.8" height="5.8" fill="#f00" stroke="#000" stroke-width="1.6"/>
<rect x="630.6" y="131.6" width="5.8" height="5.8" fill="#f00" stroke="#000" stroke-width="1.6"/>
<rect x="636.6" y="150.6" width="5.8" height="5.8" fill="#f00" stroke="#000" stroke-width="1.6"/>
<rect x="636.6" y="126.6" width="5.8" height="5.8" fill="#f00" stroke="#000" stroke-width="1.6"/>
<rect x="633.6" y="157.6" width="5.8" height="5.8" fill="#f00" stroke="#000" stroke-width="1.6"/>
<rect x="618.6" y="143.6" width="5.8" height="5.8" fill="#f00" stroke="#000" stroke-width="1.6"/>
<rect x="623.6" y="137.6" width="5.8" height="5.8" fill="#f00" stroke="#000" stroke-width="1.6"/>
<rect x="632.6" y="125.6" width="5.8" height="5.8" fill="#f00" stroke="#000" stroke-width="1.6"/>
<rect x="620.6" y="148.6" width="5.8" height="5.8" fill="#f00" stroke="#000" stroke-width="1.6"/>
<rect x="625.6" y="132.6" width="5.8" height="5.8" fill="#f00" stroke="#000" stroke-width="1.6"/>
<rect x="634.6" y="128.6" width="5.8" height="5.8" fill="#f00" stroke="#000" stroke-width="1.6"/>
<rect x="628.6" y="147.6" width="5.8" height="5.8" fill="#f00" stroke="#000" stroke-width="1.6"/>
<rect x="617.6" y="141.6" width="5.8" height="5.8" fill="#f00" stroke="#000" stroke-width="1.6"/>
<rect x="612.6" y="160.6" width="5.8" height="5.8" fill="#f00" stroke="#000" stroke-width="1.6"/>
<rect x="643.6" y="124.6" width="5.8" height="5.8" fill="#f00" stroke="#000" stroke-width="1.6"/>
<rect x="638.6" y="155.6" width="5.8" height="5.8" fill="#f00" stroke="#000" stroke-width="1.6"/>
<rect x="647.6" y="132.6" width="5.8" height="5.8" fill="#f00" stroke="#000" stroke-width="1.6"/>
<rect x="644.6" y="157.6" width="5.8" height="5.8" fill="#f00" stroke="#000" stroke-width="1.6"/>
<rect x="642.6" y="130.6" width="5.8" height="5.8" fill="#f00" stroke="#000" stroke-width="1.6"/>
<rect x="615.5" y="144.5" width="6.0" height="6.0" fill="#000"/>
<rect x="625.5" y="148.5" width="6.0" height="6.0" fill="#000"/>
<rect x="636.5" y="141.5" width="6.0" height="6.0" fill="#000"/>
<rect x="626.5" y="156.5" width="6.0" height="6.0" fill="#000"/>
<rect x="611.5" y="135.5" width="6.0" height="6.0" fill="#000"/>
<rect x="626.5" y="130.5" width="6.0" height="6.0" fill="#000"/>
<rect x="635.5" y="155.5" width="6.0" height="6.0" fill="#000"/>
<rect x="627.5" y="139.5" width="6.0" height="6.0" fill="#000"/>
<rect x="617.5" y="127.5" width="6.0" height="6.0" fill="#000"/>
<rect x="635.5" y="148.5" width="6.0" height="6.0" fill="#000"/>
<rect x="616.5" y="141.5" width="6.0" height="6.0" fill="#000"/>
<rect x="630.5" y="145.5" width="6.0" height="6.0" fill="#000"/>
<rect x="627.5" y="141.5" width="6.0" height="6.0" fill="#000"/>
<rect x="629.5" y="132.5" width="6.0" height="6.0" fill="#000"/>
<rect x="627.5" y="152.5" width="6.0" height="6.0" fill="#000"/>
<rect x="625.5" y="153.5" width="6.0" height="6.0" fill="#000"/>
<rect x="632.5" y="130.5" width="6.0" height="6.0" fill="#000"/>
<rect x="626.5" y="133.5" width="6.0" height="6.0" fill="#000"/>
<rect x="637.5" y="142.5" width="6.0" height="6.0" fill="#000"/>
<rect x="629.5" y="127.5" width="6.0" height="6.0" fill="#000"/>
<rect x="617.5" y="133.5" width="6.0" height="6.0" fill="#000"/>
<rect x="635.5" y="135.5" width="6.0" height="6.0" fill="#000"/>
<rect x="624.5" y="152.5" width="6.0" height="6.0" fill="#000"/>
<rect x="613.5" y="127.5" width="6.0" height="6.0" fill="#000"/>
<rect x="612.5" y="161.5" width="6.0" height="6.0" fill="#000"/>
<rect x="624.5" y="141.5" width="6.0" height="6.0" fill="#000"/>
<rect x="627.5" y="140.5" width="6.0" height="6.0" fill="#000"/>
<rect x="630.5" y="127.5" width="6.0" height="6.0" fill="#000"/>
<rect x="628.5" y="145.5" width="6.0" height="6.0" fill="#000"/>
<rect x="617.5" y="158.5" width="6.0" height="6.0" fill="#000"/>
<rect x="640.5" y="123.5" width="6.0" height="6.0" fill="#000"/>
<rect x="645.5" y="130.5" width="6.0" height="6.0" fill="#000"/>
<rect x="646.5" y="128.5" width="6.0" height="6.0" fill="#000"/>
<rect x="637.5" y="125.5" width="6.0" height="6.0" fill="#000"/>
<rect x="641.5" y="140.5" width="6.0" height="6.0" fill="#000"/>
<rect x="643.5" y="142.5" width="6.0" height="6.0" fill="#000"/>
<rect x="644.5" y="160.5" width="6.0" height="6.0" fill="#000"/>
<path d="M616.5 155.4L619.6 158.5L616.5 161.6L613.4 158.5Z" fill="#800080"/>
<path d="M640.5 156.4L643.6 159.5L640.5 162.6L637.4 159.5Z" fill="#800080"/>
<path d="M626.5 134.4L629.6 137.5L626.5 140.6L623.4 137.5Z" fill="#800080"/>
<path d="M631.5 132.4L634.6 135.5L631.5 138.6L628.4 135.5Z" fill="#800080"/>
<path d="M614.5 133.4L617.6 136.5L614.5 139.6L611.4 136.5Z" fill="#800080"/>
<path d="M618.5 142.4L621.6 145.5L618.5 148.6L615.4 145.5Z" fill="#800080"/>
<path d="M620.5 158.4L623.6 161.5L620.5 164.6L617.4 161.5Z" fill="#800080"/>
<path d="M638.5 156.4L641.6 159.5L638.5 162.6L635.4 159.5Z" fill="#800080"/>
<path d="M640.5 157.4L643.6 160.5L640.5 163.6L637.4 160.5Z" fill="#800080"/>
<path d="M646.5 126.4L649.6 129.5L646.5 132.6L643.4 129.5Z" fill="#800080"/>
<path d="M644.5 150.4L647.6 153.5L644.5 156.6L641.4 153.5Z" fill="#800080"/>
<path d="M644.5 136.4L647.6 139.5L644.5 142.6L641.4 139.5Z" fill="#800080"/>
<path d="M646.5 151.4L649.6 154.5L646.5 157.6L643.4 154.5Z" fill="#800080"/>
<path d="M651.5 146.4L654.6 149.5L651.5 152.6L648.4 149.5Z" fill="#800080"/>
<path d="M642.5 138.4L645.6 141.5L642.5 144.6L639.4 141.5Z" fill="#800080"/>
<path d="M642.5 151.4L645.6 154.5L642.5 157.6L639.4 154.5Z" fill="#800080"/>
<path d="M640.5 140.4L643.6 143.5L640.5 146.6L637.4 143.5Z" fill="#800080"/>
<path d="M641.5 128.4L644.6 131.5L641.5 134.6L638.4 131.5Z" fill="#800080"/>
<path d="M648.5 125.4L651.6 128.5L648.5 131.6L645.4 128.5Z" fill="#800080"/>
<rect x="637.7" y="160.7" width="5.6" height="5.6" fill="#00f"/>
<rect x="618.7" y="129.7" width="5.6" height="5.6" fill="#00f"/>
<rect x="613.7" y="128.7" width="5.6" height="5.6" fill="#00f"/>
<rect x="616.7" y="140.7" width="5.6" height="5.6" fill="#00f"/>
<rect x="616.7" y="135.7" width="5.6" height="5.6" fill="#00f"/>
<rect x="630.7" y="150.7" width="5.6" height="5.6" fill="#00f"/>
<rect x="616.7" y="142.7" width="5.6" height="5.6" fill="#00f"/>
<rect x="623.7" y="128.7" width="5.6" height="5.6" fill="#00f"/>
<rect x="619.7" y="158.7" width="5.6" height="5.6" fill="#00f"/>
<rect x="624.7" y="151.7" width="5.6" height="5.6" fill="#00f"/>
<rect x="628.7" y="144.7" width="5.6" height="5.6" fill="#00f"/>
<rect x="633.7" y="146.7" width="5.6" height="5.6" fill="#00f"/>
<rect x="633.7" y="139.7" width="5.6" height="5.6" fill="#00f"/>
<rect x="615.7" y="133.7" width="5.6" height="5.6" fill="#00f"/>
<rect x="637.7" y="147.7" width="5.6" height="5.6" fill="#00f"/>
<rect x="646.7" y="129.7" width="5.6" height="5.6" fill="#00f"/>
<path d="M619.5 160.4L622.6 163.5L619.5 166.6L616.4 163.5Z" fill="#000080"/>
<path d="M624.5 146.4L627.6 149.5L624.5 152.6L621.4 149.5Z" fill="#000080"/>
<path d="M627.5 127.4L630.6 130.5L627.5 133.6L624.4 130.5Z" fill="#000080"/>
<path d="M644.5 133.4L647.6 136.5L644.5 139.6L641.4 136.5Z" fill="#000080"/>
<path d="M644.5 156.4L647.6 159.5L644.5 162.6L641.4 159.5Z" fill="#000080"/>
<path d="M646.5 158.4L649.6 161.5L646.5 164.6L643.4 161.5Z" fill="#000080"/>
<path d="M647.5 126.4L650.6 129.5L647.5 132.6L644.4 129.5Z" fill="#000080"/>
<path d="M646.5 138.4L649.6 141.5L646.5 144.6L643.4 141.5Z" fill="#000080"/>
<path d="M644.5 132.4L647.6 135.5L644.5 138.6L641.4 135.5Z" fill="#000080"/>
<path d="M640.5 127.4L643.6 130.5L640.5 133.6L637.4 130.5Z" fill="#000080"/>
<path d="M645.5 132.4L648.6 135.5L645.5 138.6L642.4 135.5Z" fill="#000080"/>
<path d="M643.5 143.4L646.6 146.5L643.5 149.6L640.4 146.5Z" fill="#000080"/>
<path d="M648.5 133.4L651.6 136.5L648.5 139.6L645.4 136.5Z" fill="#000080"/>
<path d="M640.5 134.4L643.6 137.5L640.5 140.6L637.4 137.5Z" fill="#000080"/>
<path d="M651.5 158.4L654.6 161.5L651.5 164.6L648.4 161.5Z" fill="#000080"/>
<path d="M649.5 142.4L652.6 145.5L649.5 148.6L646.4 145.5Z" fill="#000080"/>
<path d="M651.5 147.4L654.6 150.5L651.5 153.6L648.4 150.5Z" fill="#000080"/>
<path d="M641.5 126.4L644.6 129.5L641.5 132.6L638.4 129.5Z" fill="#000080"/>
<path d="M641.5 151.4L644.6 154.5L641.5 157.6L638.4 154.5Z" fill="#000080"/>
<path d="M645.5 142.4L648.6 145.5L645.5 148.6L642.4 145.5Z" fill="#000080"/>
<path d="M649.5 147.4L652.6 150.5L649.5 153.6L646.4 150.5Z" fill="#000080"/>
<path d="M645.5 127.4L648.6 130.5L645.5 133.6L642.4 130.5Z" fill="#000080"/>
<path d="M641.5 147.4L644.6 150.5L641.5 153.6L638.4 150.5Z" fill="#000080"/>
<path d="M642.5 150.4L645.6 153.5L642.5 156.6L639.4 153.5Z" fill="#000080"/>
<path d="M643.5 156.4L646.6 159.5L643.5 162.6L640.4 159.5Z" fill="#000080"/>
<path d="M640.5 153.4L643.6 156.5L640.5 159.6L637.4 156.5Z" fill="#000080"/>
<path d="M650.5 133.4L653.6 136.5L650.5 139.6L647.4 136.5Z" fill="#000080"/>
<rect x="623.5" y="146.5" width="6.0" height="6.0" fill="#008000" stroke="#000" stroke-width="1.5"/>
<path d="M616.5 138.4L619.6 141.5L616.5 144.6L613.4 141.5Z" fill="#0000ff"/>
<path d="M619.5 136.4L622.6 139.5L619.5 142.6L616.4 139.5Z" fill="#0000ff"/>
<path d="M619.5 158.4L622.6 161.5L619.5 164.6L616.4 161.5Z" fill="#0000ff"/>
<path d="M632.5 152.4L635.6 155.5L632.5 158.6L629.4 155.5Z" fill="#0000ff"/>
<path d="M647.5 123.4L650.6 126.5L647.5 129.6L644.4 126.5Z" fill="#0000ff"/>
<path d="M643.5 137.4L646.6 140.5L643.5 143.6L640.4 140.5Z" fill="#0000ff"/>
<path d="M631.5 143.5V158.5M629.3 143.5h4.4M629.3 158.5h4.4" stroke="#ff2020"/>
<path d="M619.5 130.5V146.5M617.3 130.5h4.4M617.3 146.5h4.4" stroke="#ff2020"/>
<path d="M640.5 132.5V151.5M638.3 132.5h4.4M638.3 151.5h4.4" stroke="#ff2020"/>
<path d="M619.5 146.5V163.5M617.3 146.5h4.4M617.3 163.5h4.4" stroke="#ff2020"/>
<path d="M616.5 141.5V158.5M614.3 141.5h4.4M614.3 158.5h4.4" stroke="#ff2020"/>
<path d="M638.5 150.5V162.5M636.3 150.5h4.4M636.3 162.5h4.4" stroke="#ff2020"/>
<path d="M615.5 154.5V173.5M613.3 154.5h4.4M613.3 173.5h4.4" stroke="#ff2020"/>
<path d="M630.5 129.5V147.5M628.3 129.5h4.4M628.3 147.5h4.4" stroke="#ff2020"/>
<path d="M632.5 145.5V152.5M630.3 145.5h4.4M630.3 152.5h4.4" stroke="#ff2020"/>
<path d="M632.5 153.5V171.5M630.3 153.5h4.4M630.3 171.5h4.4" stroke="#ff2020"/>
<path d="M622.5 156.5V173.5M620.3 156.5h4.4M620.3 173.5h4.4" stroke="#ff2020"/>
<path d="M625.5 148.5V166.5M623.3 148.5h4.4M623.3 166.5h4.4" stroke="#ff2020"/>
<path d="M629.5 132.5V149.5M627.3 132.5h4.4M627.3 149.5h4.4" stroke="#ff2020"/>
<path d="M633.5 157.5V167.5M631.3 157.5h4.4M631.3 167.5h4.4" stroke="#ff2020"/>
<path d="M640.5 135.5V152.5M638.3 135.5h4.4M638.3 152.5h4.4" stroke="#ff2020"/>
<path d="M633.5 127.5V141.5M631.3 127.5h4.4M631.3 141.5h4.4" stroke="#ff2020"/>
<path d="M639.5 145.5V161.5M637.3 145.5h4.4M637.3 161.5h4.4" stroke="#ff2020"/>
<path d="M639.5 121.5V137.5M637.3 121.5h4.4M637.3 137.5h4.4" stroke="#ff2020"/>
<path d="M636.5 149.5V173.5M634.3 149.5h4.4M634.3 173.5h4.4" stroke="#ff2020"/>
<path d="M621.5 139.5V154.5M619.3 139.5h4.4M619.3 154.5h4.4" stroke="#ff2020"/>
<path d="M626.5 131.5V150.5M624.3 131.5h4.4M624.3 150.5h4.4" stroke="#ff2020"/>
<path d="M635.5 122.5V134.5M633.3 122.5h4.4M633.3 134.5h4.4" stroke="#ff2020"/>
<path d="M623.5 141.5V159.5M621.3 141.5h4.4M621.3 159.5h4.4" stroke="#ff2020"/>
<path d="M628.5 126.5V145.5M626.3 126.5h4.4M626.3 145.5h4.4" stroke="#ff2020"/>
<path d="M637.5 113.5V147.5M635.3 113.5h4.4M635.3 147.5h4.4" stroke="#ff2020"/>
<path d="M631.5 138.5V162.5M629.3 138.5h4.4M629.3 162.5h4.4" stroke="#ff2020"/>
<path d="M620.5 134.5V154.5M618.3 134.5h4.4M618.3 154.5h4.4" stroke="#ff2020"/>
<path d="M615.5 155.5V170.5M613.3 155.5h4.4M613.3 170.5h4.4" stroke="#ff2020"/>
<path d="M646.5 118.5V137.5M644.3 118.5h4.4M644.3 137.5h4.4" stroke="#ff2020"/>
<path d="M641.5 153.5V163.5M639.3 153.5h4.4M639.3 163.5h4.4" stroke="#ff2020"/>
<path d="M650.5 127.5V143.5M648.3 127.5h4.4M648.3 143.5h4.4" stroke="#ff2020"/>
<path d="M647.5 155.5V164.5M645.3 155.5h4.4M645.3 164.5h4.4" stroke="#ff2020"/>
<path d="M645.5 121.5V146.5M643.3 121.5h4.4M643.3 146.5h4.4" stroke="#ff2020"/>
<path d="M616.5 154.5V163.5M614.3 154.5h4.4M614.3 163.5h4.4" stroke="#902090"/>
<path d="M640.5 152.5V167.5M638.3 152.5h4.4M638.3 167.5h4.4" stroke="#902090"/>
<path d="M626.5 129.5V145.5M624.3 129.5h4.4M624.3 145.5h4.4" stroke="#902090"/>
<path d="M631.5 124.5V146.5M629.3 124.5h4.4M629.3 146.5h4.4" stroke="#902090"/>
<path d="M614.5 116.5V160.5M612.3 116.5h4.4M612.3 160.5h4.4" stroke="#902090"/>
<path d="M618.5 138.5V151.5M616.3 138.5h4.4M616.3 151.5h4.4" stroke="#902090"/>
<path d="M620.5 151.5V173.5M618.3 151.5h4.4M618.3 173.5h4.4" stroke="#902090"/>
<path d="M638.5 149.5V170.5M636.3 149.5h4.4M636.3 170.5h4.4" stroke="#902090"/>
<path d="M640.5 152.5V169.5M638.3 152.5h4.4M638.3 169.5h4.4" stroke="#902090"/>
<path d="M646.5 120.5V138.5M644.3 120.5h4.4M644.3 138.5h4.4" stroke="#902090"/>
<path d="M644.5 148.5V158.5M642.3 148.5h4.4M642.3 158.5h4.4" stroke="#902090"/>
<path d="M644.5 132.5V145.5M642.3 132.5h4.4M642.3 145.5h4.4" stroke="#902090"/>
<path d="M646.5 147.5V162.5M644.3 147.5h4.4M644.3 162.5h4.4" stroke="#902090"/>
<path d="M651.5 139.5V160.5M649.3 139.5h4.4M649.3 160.5h4.4" stroke="#902090"/>
<path d="M642.5 129.5V151.5M640.3 129.5h4.4M640.3 151.5h4.4" stroke="#902090"/>
<path d="M642.5 146.5V163.5M640.3 146.5h4.4M640.3 163.5h4.4" stroke="#902090"/>
<path d="M640.5 133.5V154.5M638.3 133.5h4.4M638.3 154.5h4.4" stroke="#902090"/>
<path d="M641.5 125.5V138.5M639.3 125.5h4.4M639.3 138.5h4.4" stroke="#902090"/>
<path d="M648.5 120.5V137.5M646.3 120.5h4.4M646.3 137.5h4.4" stroke="#902090"/>
<path d="M640.5 153.5V172.5M638.3 153.5h4.4M638.3 172.5h4.4" stroke="#3030f0"/>
<path d="M621.5 125.5V140.5M619.3 125.5h4.4M619.3 140.5h4.4" stroke="#3030f0"/>
<path d="M616.5 126.5V137.5M614.3 126.5h4.4M614.3 137.5h4.4" stroke="#3030f0"/>
<path d="M619.5 134.5V151.5M617.3 134.5h4.4M617.3 151.5h4.4" stroke="#3030f0"/>
<path d="M619.5 126.5V149.5M617.3 126.5h4.4M617.3 149.5h4.4" stroke="#3030f0"/>
<path d="M633.5 142.5V164.5M631.3 142.5h4.4M631.3 164.5h4.4" stroke="#3030f0"/>
<path d="M619.5 134.5V158.5M617.3 134.5h4.4M617.3 158.5h4.4" stroke="#3030f0"/>
<path d="M626.5 120.5V140.5M624.3 120.5h4.4M624.3 140.5h4.4" stroke="#3030f0"/>
<path d="M622.5 154.5V167.5M620.3 154.5h4.4M620.3 167.5h4.4" stroke="#3030f0"/>
<path d="M627.5 144.5V165.5M625.3 144.5h4.4M625.3 165.5h4.4" stroke="#3030f0"/>
<path d="M631.5 139.5V155.5M629.3 139.5h4.4M629.3 155.5h4.4" stroke="#3030f0"/>
<path d="M636.5 143.5V155.5M634.3 143.5h4.4M634.3 155.5h4.4" stroke="#3030f0"/>
<path d="M636.5 137.5V147.5M634.3 137.5h4.4M634.3 147.5h4.4" stroke="#3030f0"/>
<path d="M618.5 115.5V161.5M616.3 115.5h4.4M616.3 161.5h4.4" stroke="#3030f0"/>
<path d="M640.5 145.5V155.5M638.3 145.5h4.4M638.3 155.5h4.4" stroke="#3030f0"/>
<path d="M649.5 124.5V139.5M647.3 124.5h4.4M647.3 139.5h4.4" stroke="#3030f0"/>
<path d="M668.5 132.5V145.5M666.3 132.5h4.4M666.3 145.5h4.4" stroke="#555555"/>
<path d="M668.5 149.5V162.5M666.3 149.5h4.4M666.3 162.5h4.4" stroke="#555555"/>
<path d="M665.5 133.5V157.5M663.3 133.5h4.4M663.3 157.5h4.4" stroke="#555555"/>
<path d="M670.5 127.5V135.5M668.3 127.5h4.4M668.3 135.5h4.4" stroke="#555555"/>
<path d="M665.5 148.5V157.5M663.3 148.5h4.4M663.3 157.5h4.4" stroke="#555555"/>
<path d="M665.5 130.5V159.5M663.3 130.5h4.4M663.3 159.5h4.4" stroke="#555555"/>
<path d="M664.5 124.5V134.5M662.3 124.5h4.4M662.3 134.5h4.4" stroke="#555555"/>
<path d="M665.5 144.5V160.5M663.3 144.5h4.4M663.3 160.5h4.4" stroke="#555555"/>
<path d="M670.5 127.5V136.5M668.3 127.5h4.4M668.3 136.5h4.4" stroke="#555555"/>
<path d="M694.5 126.5V131.5M692.3 126.5h4.4M692.3 131.5h4.4" stroke="#555555"/>
<path d="M699.5 133.5V146.5M697.3 133.5h4.4M697.3 146.5h4.4" stroke="#555555"/>
<path d="M703.5 127.5V134.5M701.3 127.5h4.4M701.3 134.5h4.4" stroke="#555555"/>
<path d="M693.5 129.5V137.5M691.3 129.5h4.4M691.3 137.5h4.4" stroke="#555555"/>
<path d="M697.5 144.5V155.5M695.3 144.5h4.4M695.3 155.5h4.4" stroke="#555555"/>
<path d="M700.5 121.5V132.5M698.3 121.5h4.4M698.3 132.5h4.4" stroke="#555555"/>
<path d="M696.5 133.5V144.5M694.3 133.5h4.4M694.3 144.5h4.4" stroke="#555555"/>
<path d="M692.5 136.5V145.5M690.3 136.5h4.4M690.3 145.5h4.4" stroke="#555555"/>
<path d="M702.5 143.5V149.5M700.3 143.5h4.4M700.3 149.5h4.4" stroke="#555555"/>
<path d="M720.5 144.5V153.5M718.3 144.5h4.4M718.3 153.5h4.4" stroke="#555555"/>
<path d="M721.5 145.5V151.5M719.3 145.5h4.4M719.3 151.5h4.4" stroke="#555555"/>
<path d="M717.5 128.5V143.5M715.3 128.5h4.4M715.3 143.5h4.4" stroke="#555555"/>
<path d="M723.5 140.5V149.5M721.3 140.5h4.4M721.3 149.5h4.4" stroke="#555555"/>
<path d="M740.5 135.5V139.5M738.3 135.5h4.4M738.3 139.5h4.4" stroke="#555555"/>
<path d="M743.5 123.5V134.5M741.3 123.5h4.4M741.3 134.5h4.4" stroke="#555555"/>
<path d="M746.5 143.5V151.5M744.3 143.5h4.4M744.3 151.5h4.4" stroke="#555555"/>
<path d="M731.5 126.5V136.5M729.3 126.5h4.4M729.3 136.5h4.4" stroke="#555555"/>
<path d="M778.5 126.5V132.5M776.3 126.5h4.4M776.3 132.5h4.4" stroke="#555555"/>
<path d="M762.5 127.5V136.5M760.3 127.5h4.4M760.3 136.5h4.4" stroke="#555555"/>
<path d="M791.5 130.5V141.5M789.3 130.5h4.4M789.3 141.5h4.4" stroke="#555555"/>
<path d="M764.5 128.5V141.5M762.3 128.5h4.4M762.3 141.5h4.4" stroke="#555555"/>
<path d="M780.5 132.5V143.5M778.3 132.5h4.4M778.3 143.5h4.4" stroke="#555555"/>
<path d="M788.5 130.5V138.5M786.3 130.5h4.4M786.3 138.5h4.4" stroke="#555555"/>
<path d="M776.5 129.5V138.5M774.3 129.5h4.4M774.3 138.5h4.4" stroke="#555555"/>
<path d="M789.5 125.5V133.5M787.3 125.5h4.4M787.3 133.5h4.4" stroke="#555555"/>
<path d="M763.5 131.5V139.5M761.3 131.5h4.4M761.3 139.5h4.4" stroke="#555555"/>
<path d="M776.5 140.5V151.5M774.3 140.5h4.4M774.3 151.5h4.4" stroke="#555555"/>
<path d="M605.5 195.5V205.5M603.3 195.5h4.4M603.3 205.5h4.4" stroke="#555555"/>
<path d="M607.5 181.5V191.5M605.3 181.5h4.4M605.3 191.5h4.4" stroke="#555555"/>
<path d="M608.5 168.5V178.5M606.3 168.5h4.4M606.3 178.5h4.4" stroke="#555555"/>
<path d="M609.5 155.5V165.5M607.3 155.5h4.4M607.3 165.5h4.4" stroke="#555555"/>
<path d="M611.5 140.5V150.5M609.3 140.5h4.4M609.3 150.5h4.4" stroke="#555555"/>
<path d="M613.5 126.5V136.5M611.3 126.5h4.4M611.3 136.5h4.4" stroke="#555555"/>
<path d="M599.5 189.5V199.5M597.3 189.5h4.4M597.3 199.5h4.4" stroke="#555555"/>
<path d="M766.5 113.5V121.5M764.3 113.5h4.4M764.3 121.5h4.4" stroke="#555555"/>
<path d="M773.5 119.5V127.5M771.3 119.5h4.4M771.3 127.5h4.4" stroke="#555555"/>
<path d="M790.5 127.5V135.5M788.3 127.5h4.4M788.3 135.5h4.4" stroke="#555555"/>
<path d="M962.5 193.5V205.5M960.3 193.5h4.4M960.3 205.5h4.4" stroke="#555555"/>
<path d="M961.5 187.5V199.5M959.3 187.5h4.4M959.3 199.5h4.4" stroke="#555555"/>
<path d="M968.5 133.5V151.5M966.3 133.5h4.4M966.3 151.5h4.4" stroke="#555555"/>
<path d="M963.5 153.5V165.5M961.3 153.5h4.4M961.3 165.5h4.4" stroke="#555555"/>
<path d="M964.5 164.5V176.5M962.3 164.5h4.4M962.3 176.5h4.4" stroke="#555555"/>
<path d="M964.5 174.5V186.5M962.3 174.5h4.4M962.3 186.5h4.4" stroke="#555555"/>
<rect x="665.5" y="135.5" width="6.0" height="6.0" fill="#000" stroke="#008000" stroke-width="1.5"/>
<rect x="665.5" y="153.5" width="6.0" height="6.0" fill="#000" stroke="#008000" stroke-width="1.5"/>
<rect x="662.5" y="143.5" width="6.0" height="6.0" fill="#000" stroke="#008000" stroke-width="1.5"/>
<rect x="667.5" y="128.5" width="6.0" height="6.0" fill="#000" stroke="#008000" stroke-width="1.5"/>
<rect x="662.5" y="149.5" width="6.0" height="6.0" fill="#000" stroke="#008000" stroke-width="1.5"/>
<rect x="662.5" y="140.5" width="6.0" height="6.0" fill="#000" stroke="#008000" stroke-width="1.5"/>
<rect x="661.5" y="126.5" width="6.0" height="6.0" fill="#000" stroke="#008000" stroke-width="1.5"/>
<rect x="662.5" y="149.5" width="6.0" height="6.0" fill="#000" stroke="#008000" stroke-width="1.5"/>
<rect x="667.5" y="129.5" width="6.0" height="6.0" fill="#000" stroke="#008000" stroke-width="1.5"/>
<rect x="691.5" y="125.5" width="6.0" height="6.0" fill="#000" stroke="#008000" stroke-width="1.5"/>
<rect x="696.5" y="136.5" width="6.0" height="6.0" fill="#000" stroke="#008000" stroke-width="1.5"/>
<rect x="700.5" y="127.5" width="6.0" height="6.0" fill="#000" stroke="#008000" stroke-width="1.5"/>
<rect x="690.5" y="130.5" width="6.0" height="6.0" fill="#000" stroke="#008000" stroke-width="1.5"/>
<rect x="694.5" y="147.5" width="6.0" height="6.0" fill="#000" stroke="#008000" stroke-width="1.5"/>
<rect x="697.5" y="123.5" width="6.0" height="6.0" fill="#000" stroke="#008000" stroke-width="1.5"/>
<rect x="693.5" y="135.5" width="6.0" height="6.0" fill="#000" stroke="#008000" stroke-width="1.5"/>
<rect x="689.5" y="137.5" width="6.0" height="6.0" fill="#000" stroke="#008000" stroke-width="1.5"/>
<rect x="699.5" y="143.5" width="6.0" height="6.0" fill="#000" stroke="#008000" stroke-width="1.5"/>
<rect x="717.5" y="146.5" width="6.0" height="6.0" fill="#000" stroke="#008000" stroke-width="1.5"/>
<rect x="718.5" y="145.5" width="6.0" height="6.0" fill="#000" stroke="#008000" stroke-width="1.5"/>
<rect x="714.5" y="132.5" width="6.0" height="6.0" fill="#000" stroke="#008000" stroke-width="1.5"/>
<rect x="720.5" y="141.5" width="6.0" height="6.0" fill="#000" stroke="#008000" stroke-width="1.5"/>
<rect x="737.5" y="134.5" width="6.0" height="6.0" fill="#000" stroke="#008000" stroke-width="1.5"/>
<rect x="740.5" y="126.5" width="6.0" height="6.0" fill="#000" stroke="#008000" stroke-width="1.5"/>
<rect x="743.5" y="144.5" width="6.0" height="6.0" fill="#000" stroke="#008000" stroke-width="1.5"/>
<rect x="728.5" y="128.5" width="6.0" height="6.0" fill="#000" stroke="#008000" stroke-width="1.5"/>
<rect x="775.5" y="126.5" width="6.0" height="6.0" fill="#000" stroke="#008000" stroke-width="1.5"/>
<rect x="759.5" y="128.5" width="6.0" height="6.0" fill="#000" stroke="#008000" stroke-width="1.5"/>
<rect x="788.5" y="133.5" width="6.0" height="6.0" fill="#000" stroke="#008000" stroke-width="1.5"/>
<rect x="761.5" y="131.5" width="6.0" height="6.0" fill="#000" stroke="#008000" stroke-width="1.5"/>
<rect x="777.5" y="134.5" width="6.0" height="6.0" fill="#000" stroke="#008000" stroke-width="1.5"/>
<rect x="785.5" y="131.5" width="6.0" height="6.0" fill="#000" stroke="#008000" stroke-width="1.5"/>
<rect x="773.5" y="130.5" width="6.0" height="6.0" fill="#000" stroke="#008000" stroke-width="1.5"/>
<rect x="786.5" y="126.5" width="6.0" height="6.0" fill="#000" stroke="#008000" stroke-width="1.5"/>
<rect x="760.5" y="132.5" width="6.0" height="6.0" fill="#000" stroke="#008000" stroke-width="1.5"/>
<rect x="773.5" y="143.5" width="6.0" height="6.0" fill="#000" stroke="#008000" stroke-width="1.5"/>
<rect x="602.5" y="197.5" width="6.0" height="6.0" fill="#000" stroke="#008000" stroke-width="1.5"/>
<rect x="604.5" y="183.5" width="6.0" height="6.0" fill="#000" stroke="#008000" stroke-width="1.5"/>
<rect x="605.5" y="170.5" width="6.0" height="6.0" fill="#000" stroke="#008000" stroke-width="1.5"/>
<rect x="606.5" y="157.5" width="6.0" height="6.0" fill="#000" stroke="#008000" stroke-width="1.5"/>
<rect x="608.5" y="142.5" width="6.0" height="6.0" fill="#000" stroke="#008000" stroke-width="1.5"/>
<rect x="610.5" y="128.5" width="6.0" height="6.0" fill="#000" stroke="#008000" stroke-width="1.5"/>
<rect x="596.5" y="191.5" width="6.0" height="6.0" fill="#000" stroke="#008000" stroke-width="1.5"/>
<rect x="763.5" y="114.5" width="6.0" height="6.0" fill="#000" stroke="#008000" stroke-width="1.5"/>
<rect x="770.5" y="120.5" width="6.0" height="6.0" fill="#000" stroke="#008000" stroke-width="1.5"/>
<rect x="787.5" y="128.5" width="6.0" height="6.0" fill="#000" stroke="#008000" stroke-width="1.5"/>
<rect x="959.5" y="196.5" width="6.0" height="6.0" fill="#000" stroke="#008000" stroke-width="1.5"/>
<rect x="958.5" y="190.5" width="6.0" height="6.0" fill="#000" stroke="#008000" stroke-width="1.5"/>
<rect x="965.5" y="142.5" width="6.0" height="6.0" fill="#000" stroke="#008000" stroke-width="1.5"/>
<rect x="960.5" y="156.5" width="6.0" height="6.0" fill="#000" stroke="#008000" stroke-width="1.5"/>
<rect x="961.5" y="167.5" width="6.0" height="6.0" fill="#000" stroke="#008000" stroke-width="1.5"/>
<rect x="961.5" y="177.5" width="6.0" height="6.0" fill="#000" stroke="#008000" stroke-width="1.5"/>
<path d="M662.5 142.5V153.5M660.3 142.5h4.4M660.3 153.5h4.4" stroke="#ff2020"/>
<path d="M660.5 131.5V150.5M658.3 131.5h4.4M658.3 150.5h4.4" stroke="#ff2020"/>
<path d="M666.5 135.5V142.5M664.3 135.5h4.4M664.3 142.5h4.4" stroke="#ff2020"/>
<path d="M672.5 116.5V132.5M670.3 116.5h4.4M670.3 132.5h4.4" stroke="#ff2020"/>
<path d="M670.5 147.5V157.5M668.3 147.5h4.4M668.3 157.5h4.4" stroke="#ff2020"/>
<path d="M679.5 135.5V147.5M677.3 135.5h4.4M677.3 147.5h4.4" stroke="#ff2020"/>
<path d="M674.5 126.5V141.5M672.3 126.5h4.4M672.3 141.5h4.4" stroke="#ff2020"/>
<path d="M672.5 130.5V147.5M670.3 130.5h4.4M670.3 147.5h4.4" stroke="#ff2020"/>
<path d="M677.5 118.5V137.5M675.3 118.5h4.4M675.3 137.5h4.4" stroke="#ff2020"/>
<path d="M674.5 129.5V137.5M672.3 129.5h4.4M672.3 137.5h4.4" stroke="#ff2020"/>
<path d="M679.5 119.5V134.5M677.3 119.5h4.4M677.3 134.5h4.4" stroke="#ff2020"/>
<path d="M682.5 131.5V147.5M680.3 131.5h4.4M680.3 147.5h4.4" stroke="#ff2020"/>
<path d="M674.5 130.5V141.5M672.3 130.5h4.4M672.3 141.5h4.4" stroke="#ff2020"/>
<path d="M674.5 134.5V147.5M672.3 134.5h4.4M672.3 147.5h4.4" stroke="#ff2020"/>
<path d="M682.5 128.5V135.5M680.3 128.5h4.4M680.3 135.5h4.4" stroke="#ff2020"/>
<path d="M675.5 120.5V129.5M673.3 120.5h4.4M673.3 129.5h4.4" stroke="#ff2020"/>
<path d="M680.5 129.5V138.5M678.3 129.5h4.4M678.3 138.5h4.4" stroke="#ff2020"/>
<path d="M672.5 141.5V169.5M670.3 141.5h4.4M670.3 169.5h4.4" stroke="#ff2020"/>
<path d="M676.5 125.5V139.5M674.3 125.5h4.4M674.3 139.5h4.4" stroke="#ff2020"/>
<path d="M675.5 135.5V143.5M673.3 135.5h4.4M673.3 143.5h4.4" stroke="#ff2020"/>
<path d="M680.5 143.5V151.5M678.3 143.5h4.4M678.3 151.5h4.4" stroke="#ff2020"/>
<path d="M674.5 118.5V132.5M672.3 118.5h4.4M672.3 132.5h4.4" stroke="#ff2020"/>
<path d="M677.5 133.5V143.5M675.3 133.5h4.4M675.3 143.5h4.4" stroke="#ff2020"/>
<path d="M675.5 124.5V135.5M673.3 124.5h4.4M673.3 135.5h4.4" stroke="#ff2020"/>
<path d="M674.5 121.5V132.5M672.3 121.5h4.4M672.3 132.5h4.4" stroke="#ff2020"/>
<path d="M672.5 132.5V144.5M670.3 132.5h4.4M670.3 144.5h4.4" stroke="#ff2020"/>
<path d="M675.5 128.5V139.5M673.3 128.5h4.4M673.3 139.5h4.4" stroke="#ff2020"/>
<path d="M675.5 141.5V153.5M673.3 141.5h4.4M673.3 153.5h4.4" stroke="#ff2020"/>
<path d="M676.5 131.5V148.5M674.3 131.5h4.4M674.3 148.5h4.4" stroke="#ff2020"/>
<path d="M682.5 119.5V131.5M680.3 119.5h4.4M680.3 131.5h4.4" stroke="#ff2020"/>
<path d="M689.5 141.5V163.5M687.3 141.5h4.4M687.3 163.5h4.4" stroke="#ff2020"/>
<path d="M704.5 142.5V150.5M702.3 142.5h4.4M702.3 150.5h4.4" stroke="#ff2020"/>
<path d="M730.5 124.5V132.5M728.3 124.5h4.4M728.3 132.5h4.4" stroke="#ff2020"/>
<path d="M759.5 127.5V132.5M757.3 127.5h4.4M757.3 132.5h4.4" stroke="#ff2020"/>
<path d="M780.5 147.5V153.5M778.3 147.5h4.4M778.3 153.5h4.4" stroke="#ff2020"/>
<path d="M779.5 132.5V142.5M777.3 132.5h4.4M777.3 142.5h4.4" stroke="#ff2020"/>
<path d="M592.5 122.5V139.5M590.3 122.5h4.4M590.3 139.5h4.4" stroke="#ff2020"/>
<path d="M593.5 147.5V159.5M591.3 147.5h4.4M591.3 159.5h4.4" stroke="#ff2020"/>
<path d="M594.5 156.5V168.5M592.3 156.5h4.4M592.3 168.5h4.4" stroke="#ff2020"/>
<path d="M594.5 176.5V188.5M592.3 176.5h4.4M592.3 188.5h4.4" stroke="#ff2020"/>
<path d="M601.5 194.5V206.5M599.3 194.5h4.4M599.3 206.5h4.4" stroke="#ff2020"/>
<path d="M601.5 178.5V220.5M599.3 178.5h4.4M599.3 220.5h4.4" stroke="#ff2020"/>
<path d="M679.5 115.5V134.5M677.3 115.5h4.4M677.3 134.5h4.4" stroke="#ff2020"/>
<path d="M619.5 114.5V136.5M617.3 114.5h4.4M617.3 136.5h4.4" stroke="#ff2020"/>
<path d="M621.5 160.5V176.5M619.3 160.5h4.4M619.3 176.5h4.4" stroke="#ff2020"/>
<path d="M948.5 122.5V141.5M946.3 122.5h4.4M946.3 141.5h4.4" stroke="#ff2020"/>
<path d="M948.5 147.5V159.5M946.3 147.5h4.4M946.3 159.5h4.4" stroke="#ff2020"/>
<path d="M949.5 156.5V168.5M947.3 156.5h4.4M947.3 168.5h4.4" stroke="#ff2020"/>
<path d="M949.5 176.5V188.5M947.3 176.5h4.4M947.3 188.5h4.4" stroke="#ff2020"/>
<path d="M955.5 194.5V206.5M953.3 194.5h4.4M953.3 206.5h4.4" stroke="#ff2020"/>
<path d="M956.5 168.5V220.5M954.3 168.5h4.4M954.3 220.5h4.4" stroke="#ff2020"/>
<rect x="659.6" y="144.6" width="5.8" height="5.8" fill="#f00" stroke="#000" stroke-width="1.6"/>
<rect x="657.6" y="137.6" width="5.8" height="5.8" fill="#f00" stroke="#000" stroke-width="1.6"/>
<rect x="663.6" y="135.6" width="5.8" height="5.8" fill="#f00" stroke="#000" stroke-width="1.6"/>
<rect x="669.6" y="121.6" width="5.8" height="5.8" fill="#f00" stroke="#000" stroke-width="1.6"/>
<rect x="667.6" y="149.6" width="5.8" height="5.8" fill="#f00" stroke="#000" stroke-width="1.6"/>
<rect x="676.6" y="139.6" width="5.8" height="5.8" fill="#f00" stroke="#000" stroke-width="1.6"/>
<rect x="671.6" y="130.6" width="5.8" height="5.8" fill="#f00" stroke="#000" stroke-width="1.6"/>
<rect x="669.6" y="135.6" width="5.8" height="5.8" fill="#f00" stroke="#000" stroke-width="1.6"/>
<rect x="674.6" y="124.6" width="5.8" height="5.8" fill="#f00" stroke="#000" stroke-width="1.6"/>
<rect x="671.6" y="130.6" width="5.8" height="5.8" fill="#f00" stroke="#000" stroke-width="1.6"/>
<rect x="676.6" y="123.6" width="5.8" height="5.8" fill="#f00" stroke="#000" stroke-width="1.6"/>
<rect x="679.6" y="136.6" width="5.8" height="5.8" fill="#f00" stroke="#000" stroke-width="1.6"/>
<rect x="671.6" y="133.6" width="5.8" height="5.8" fill="#f00" stroke="#000" stroke-width="1.6"/>
<rect x="671.6" y="137.6" width="5.8" height="5.8" fill="#f00" stroke="#000" stroke-width="1.6"/>
<rect x="679.6" y="128.6" width="5.8" height="5.8" fill="#f00" stroke="#000" stroke-width="1.6"/>
<rect x="672.6" y="122.6" width="5.8" height="5.8" fill="#f00" stroke="#000" stroke-width="1.6"/>
<rect x="677.6" y="130.6" width="5.8" height="5.8" fill="#f00" stroke="#000" stroke-width="1.6"/>
<rect x="669.6" y="152.6" width="5.8" height="5.8" fill="#f00" stroke="#000" stroke-width="1.6"/>
<rect x="673.6" y="129.6" width="5.8" height="5.8" fill="#f00" stroke="#000" stroke-width="1.6"/>
<rect x="672.6" y="136.6" width="5.8" height="5.8" fill="#f00" stroke="#000" stroke-width="1.6"/>
<rect x="677.6" y="144.6" width="5.8" height="5.8" fill="#f00" stroke="#000" stroke-width="1.6"/>
<rect x="671.6" y="122.6" width="5.8" height="5.8" fill="#f00" stroke="#000" stroke-width="1.6"/>
<rect x="674.6" y="135.6" width="5.8" height="5.8" fill="#f00" stroke="#000" stroke-width="1.6"/>
<rect x="672.6" y="127.6" width="5.8" height="5.8" fill="#f00" stroke="#000" stroke-width="1.6"/>
<rect x="671.6" y="124.6" width="5.8" height="5.8" fill="#f00" stroke="#000" stroke-width="1.6"/>
<rect x="669.6" y="135.6" width="5.8" height="5.8" fill="#f00" stroke="#000" stroke-width="1.6"/>
<rect x="672.6" y="130.6" width="5.8" height="5.8" fill="#f00" stroke="#000" stroke-width="1.6"/>
<rect x="672.6" y="144.6" width="5.8" height="5.8" fill="#f00" stroke="#000" stroke-width="1.6"/>
<rect x="673.6" y="136.6" width="5.8" height="5.8" fill="#f00" stroke="#000" stroke-width="1.6"/>
<rect x="679.6" y="122.6" width="5.8" height="5.8" fill="#f00" stroke="#000" stroke-width="1.6"/>
<rect x="686.6" y="150.6" width="5.8" height="5.8" fill="#f00" stroke="#000" stroke-width="1.6"/>
<rect x="701.6" y="143.6" width="5.8" height="5.8" fill="#f00" stroke="#000" stroke-width="1.6"/>
<rect x="727.6" y="125.6" width="5.8" height="5.8" fill="#f00" stroke="#000" stroke-width="1.6"/>
<rect x="756.6" y="127.6" width="5.8" height="5.8" fill="#f00" stroke="#000" stroke-width="1.6"/>
<rect x="777.6" y="147.6" width="5.8" height="5.8" fill="#f00" stroke="#000" stroke-width="1.6"/>
<rect x="776.6" y="134.6" width="5.8" height="5.8" fill="#f00" stroke="#000" stroke-width="1.6"/>
<rect x="589.6" y="132.6" width="5.8" height="5.8" fill="#f00" stroke="#000" stroke-width="1.6"/>
<rect x="590.6" y="150.6" width="5.8" height="5.8" fill="#f00" stroke="#000" stroke-width="1.6"/>
<rect x="591.6" y="159.6" width="5.8" height="5.8" fill="#f00" stroke="#000" stroke-width="1.6"/>
<rect x="591.6" y="179.6" width="5.8" height="5.8" fill="#f00" stroke="#000" stroke-width="1.6"/>
<rect x="598.6" y="197.6" width="5.8" height="5.8" fill="#f00" stroke="#000" stroke-width="1.6"/>
<rect x="598.6" y="181.6" width="5.8" height="5.8" fill="#f00" stroke="#000" stroke-width="1.6"/>
<rect x="676.6" y="123.6" width="5.8" height="5.8" fill="#f00" stroke="#000" stroke-width="1.6"/>
<rect x="616.6" y="123.6" width="5.8" height="5.8" fill="#f00" stroke="#000" stroke-width="1.6"/>
<rect x="618.6" y="163.6" width="5.8" height="5.8" fill="#f00" stroke="#000" stroke-width="1.6"/>
<rect x="945.6" y="132.6" width="5.8" height="5.8" fill="#f00" stroke="#000" stroke-width="1.6"/>
<rect x="945.6" y="150.6" width="5.8" height="5.8" fill="#f00" stroke="#000" stroke-width="1.6"/>
<rect x="946.6" y="159.6" width="5.8" height="5.8" fill="#f00" stroke="#000" stroke-width="1.6"/>
<rect x="946.6" y="179.6" width="5.8" height="5.8" fill="#f00" stroke="#000" stroke-width="1.6"/>
<rect x="952.6" y="197.6" width="5.8" height="5.8" fill="#f00" stroke="#000" stroke-width="1.6"/>
<rect x="953.6" y="181.6" width="5.8" height="5.8" fill="#f00" stroke="#000" stroke-width="1.6"/>
<path d="M660.5 123.5V132.5M658.3 123.5h4.4M658.3 132.5h4.4" stroke="#555555"/>
<path d="M672.5 141.5V152.5M670.3 141.5h4.4M670.3 152.5h4.4" stroke="#555555"/>
<path d="M683.5 125.5V142.5M681.3 125.5h4.4M681.3 142.5h4.4" stroke="#555555"/>
<path d="M680.5 140.5V146.5M678.3 140.5h4.4M678.3 146.5h4.4" stroke="#555555"/>
<path d="M715.5 142.5V153.5M713.3 142.5h4.4M713.3 153.5h4.4" stroke="#555555"/>
<path d="M704.5 130.5V136.5M702.3 130.5h4.4M702.3 136.5h4.4" stroke="#555555"/>
<path d="M724.5 139.5V147.5M722.3 139.5h4.4M722.3 147.5h4.4" stroke="#555555"/>
<path d="M759.5 128.5V138.5M757.3 128.5h4.4M757.3 138.5h4.4" stroke="#555555"/>
<path d="M753.5 139.5V149.5M751.3 139.5h4.4M751.3 149.5h4.4" stroke="#555555"/>
<path d="M787.5 137.5V143.5M785.3 137.5h4.4M785.3 143.5h4.4" stroke="#555555"/>
<path d="M786.5 145.5V158.5M784.3 145.5h4.4M784.3 158.5h4.4" stroke="#555555"/>
<path d="M779.5 133.5V144.5M777.3 133.5h4.4M777.3 144.5h4.4" stroke="#555555"/>
<path d="M595.5 168.5V180.5M593.3 168.5h4.4M593.3 180.5h4.4" stroke="#555555"/>
<path d="M597.5 170.5V180.5M595.3 170.5h4.4M595.3 180.5h4.4" stroke="#555555"/>
<path d="M598.5 196.5V208.5M596.3 196.5h4.4M596.3 208.5h4.4" stroke="#555555"/>
<path d="M600.5 201.5V213.5M598.3 201.5h4.4M598.3 213.5h4.4" stroke="#555555"/>
<path d="M631.5 166.5V182.5M629.3 166.5h4.4M629.3 182.5h4.4" stroke="#555555"/>
<path d="M643.5 162.5V176.5M641.3 162.5h4.4M641.3 176.5h4.4" stroke="#555555"/>
<path d="M953.5 183.5V193.5M951.3 183.5h4.4M951.3 193.5h4.4" stroke="#555555"/>
<rect x="657.5" y="124.5" width="6.0" height="6.0" fill="#000"/>
<rect x="669.5" y="144.5" width="6.0" height="6.0" fill="#000"/>
<rect x="680.5" y="131.5" width="6.0" height="6.0" fill="#000"/>
<rect x="677.5" y="140.5" width="6.0" height="6.0" fill="#000"/>
<rect x="712.5" y="145.5" width="6.0" height="6.0" fill="#000"/>
<rect x="701.5" y="130.5" width="6.0" height="6.0" fill="#000"/>
<rect x="721.5" y="140.5" width="6.0" height="6.0" fill="#000"/>
<rect x="756.5" y="130.5" width="6.0" height="6.0" fill="#000"/>
<rect x="750.5" y="141.5" width="6.0" height="6.0" fill="#000"/>
<rect x="784.5" y="137.5" width="6.0" height="6.0" fill="#000"/>
<rect x="783.5" y="148.5" width="6.0" height="6.0" fill="#000"/>
<rect x="776.5" y="136.5" width="6.0" height="6.0" fill="#000"/>
<rect x="592.5" y="171.5" width="6.0" height="6.0" fill="#000"/>
<rect x="594.5" y="172.5" width="6.0" height="6.0" fill="#000"/>
<rect x="595.5" y="199.5" width="6.0" height="6.0" fill="#000"/>
<rect x="597.5" y="204.5" width="6.0" height="6.0" fill="#000"/>
<rect x="628.5" y="169.5" width="6.0" height="6.0" fill="#000"/>
<rect x="640.5" y="165.5" width="6.0" height="6.0" fill="#000"/>
<rect x="950.5" y="185.5" width="6.0" height="6.0" fill="#000"/>
<path d="M658.5 130.5V140.5M656.3 130.5h4.4M656.3 140.5h4.4" stroke="#902090"/>
<path d="M658.5 143.5V153.5M656.3 143.5h4.4M656.3 153.5h4.4" stroke="#902090"/>
<path d="M662.5 141.5V149.5M660.3 141.5h4.4M660.3 149.5h4.4" stroke="#902090"/>
<path d="M661.5 127.5V136.5M659.3 127.5h4.4M659.3 136.5h4.4" stroke="#902090"/>
<path d="M667.5 123.5V140.5M665.3 123.5h4.4M665.3 140.5h4.4" stroke="#902090"/>
<path d="M689.5 142.5V154.5M687.3 142.5h4.4M687.3 154.5h4.4" stroke="#902090"/>
<path d="M682.5 143.5V154.5M680.3 143.5h4.4M680.3 154.5h4.4" stroke="#902090"/>
<path d="M690.5 117.5V127.5M688.3 117.5h4.4M688.3 127.5h4.4" stroke="#902090"/>
<path d="M737.5 143.5V151.5M735.3 143.5h4.4M735.3 151.5h4.4" stroke="#902090"/>
<path d="M658.5 119.5V129.5M656.3 119.5h4.4M656.3 129.5h4.4" stroke="#902090"/>
<path d="M968.5 150.5V187.5M966.3 150.5h4.4M966.3 187.5h4.4" stroke="#902090"/>
<path d="M658.5 132.4L661.6 135.5L658.5 138.6L655.4 135.5Z" fill="#800080"/>
<path d="M658.5 145.4L661.6 148.5L658.5 151.6L655.4 148.5Z" fill="#800080"/>
<path d="M662.5 142.4L665.6 145.5L662.5 148.6L659.4 145.5Z" fill="#800080"/>
<path d="M661.5 128.4L664.6 131.5L661.5 134.6L658.4 131.5Z" fill="#800080"/>
<path d="M667.5 128.4L670.6 131.5L667.5 134.6L664.4 131.5Z" fill="#800080"/>
<path d="M689.5 145.4L692.6 148.5L689.5 151.6L686.4 148.5Z" fill="#800080"/>
<path d="M682.5 145.4L685.6 148.5L682.5 151.6L679.4 148.5Z" fill="#800080"/>
<path d="M690.5 119.4L693.6 122.5L690.5 125.6L687.4 122.5Z" fill="#800080"/>
<path d="M737.5 144.4L740.6 147.5L737.5 150.6L734.4 147.5Z" fill="#800080"/>
<path d="M658.5 121.4L661.6 124.5L658.5 127.6L655.4 124.5Z" fill="#800080"/>
<path d="M968.5 165.4L971.6 168.5L968.5 171.6L965.4 168.5Z" fill="#800080"/>
<path d="M659.5 143.5V152.5M657.3 143.5h4.4M657.3 152.5h4.4" stroke="#3030f0"/>
<path d="M656.5 129.5V142.5M654.3 129.5h4.4M654.3 142.5h4.4" stroke="#3030f0"/>
<path d="M663.5 137.5V148.5M661.3 137.5h4.4M661.3 148.5h4.4" stroke="#3030f0"/>
<path d="M658.5 149.5V162.5M656.3 149.5h4.4M656.3 162.5h4.4" stroke="#3030f0"/>
<path d="M662.5 119.5V130.5M660.3 119.5h4.4M660.3 130.5h4.4" stroke="#3030f0"/>
<path d="M663.5 150.5V161.5M661.3 150.5h4.4M661.3 161.5h4.4" stroke="#3030f0"/>
<path d="M676.5 134.5V142.5M674.3 134.5h4.4M674.3 142.5h4.4" stroke="#3030f0"/>
<path d="M679.5 149.5V165.5M677.3 149.5h4.4M677.3 165.5h4.4" stroke="#3030f0"/>
<path d="M689.5 124.5V132.5M687.3 124.5h4.4M687.3 132.5h4.4" stroke="#3030f0"/>
<path d="M682.5 138.5V146.5M680.3 138.5h4.4M680.3 146.5h4.4" stroke="#3030f0"/>
<path d="M684.5 146.5V160.5M682.3 146.5h4.4M682.3 160.5h4.4" stroke="#3030f0"/>
<path d="M684.5 123.5V135.5M682.3 123.5h4.4M682.3 135.5h4.4" stroke="#3030f0"/>
<path d="M687.5 128.5V134.5M685.3 128.5h4.4M685.3 134.5h4.4" stroke="#3030f0"/>
<path d="M686.5 134.5V144.5M684.3 134.5h4.4M684.3 144.5h4.4" stroke="#3030f0"/>
<path d="M689.5 125.5V137.5M687.3 125.5h4.4M687.3 137.5h4.4" stroke="#3030f0"/>
<path d="M701.5 138.5V149.5M699.3 138.5h4.4M699.3 149.5h4.4" stroke="#3030f0"/>
<path d="M699.5 140.5V149.5M697.3 140.5h4.4M697.3 149.5h4.4" stroke="#3030f0"/>
<path d="M699.5 130.5V136.5M697.3 130.5h4.4M697.3 136.5h4.4" stroke="#3030f0"/>
<path d="M700.5 146.5V156.5M698.3 146.5h4.4M698.3 156.5h4.4" stroke="#3030f0"/>
<path d="M701.5 123.5V127.5M699.3 123.5h4.4M699.3 127.5h4.4" stroke="#3030f0"/>
<path d="M719.5 135.5V151.5M717.3 135.5h4.4M717.3 151.5h4.4" stroke="#3030f0"/>
<path d="M720.5 136.5V142.5M718.3 136.5h4.4M718.3 142.5h4.4" stroke="#3030f0"/>
<path d="M717.5 127.5V134.5M715.3 127.5h4.4M715.3 134.5h4.4" stroke="#3030f0"/>
<path d="M710.5 138.5V146.5M708.3 138.5h4.4M708.3 146.5h4.4" stroke="#3030f0"/>
<path d="M711.5 145.5V155.5M709.3 145.5h4.4M709.3 155.5h4.4" stroke="#3030f0"/>
<path d="M705.5 126.5V136.5M703.3 126.5h4.4M703.3 136.5h4.4" stroke="#3030f0"/>
<path d="M705.5 129.5V138.5M703.3 129.5h4.4M703.3 138.5h4.4" stroke="#3030f0"/>
<path d="M707.5 125.5V138.5M705.3 125.5h4.4M705.3 138.5h4.4" stroke="#3030f0"/>
<path d="M717.5 140.5V147.5M715.3 140.5h4.4M715.3 147.5h4.4" stroke="#3030f0"/>
<path d="M706.5 140.5V147.5M704.3 140.5h4.4M704.3 147.5h4.4" stroke="#3030f0"/>
<path d="M711.5 118.5V126.5M709.3 118.5h4.4M709.3 126.5h4.4" stroke="#3030f0"/>
<path d="M704.5 117.5V129.5M702.3 117.5h4.4M702.3 129.5h4.4" stroke="#3030f0"/>
<path d="M713.5 145.5V152.5M711.3 145.5h4.4M711.3 152.5h4.4" stroke="#3030f0"/>
<path d="M708.5 120.5V126.5M706.3 120.5h4.4M706.3 126.5h4.4" stroke="#3030f0"/>
<path d="M723.5 120.5V126.5M721.3 120.5h4.4M721.3 126.5h4.4" stroke="#3030f0"/>
<path d="M746.5 128.5V137.5M744.3 128.5h4.4M744.3 137.5h4.4" stroke="#3030f0"/>
<path d="M741.5 123.5V133.5M739.3 123.5h4.4M739.3 133.5h4.4" stroke="#3030f0"/>
<path d="M742.5 127.5V131.5M740.3 127.5h4.4M740.3 131.5h4.4" stroke="#3030f0"/>
<path d="M737.5 125.5V136.5M735.3 125.5h4.4M735.3 136.5h4.4" stroke="#3030f0"/>
<path d="M752.5 123.5V131.5M750.3 123.5h4.4M750.3 131.5h4.4" stroke="#3030f0"/>
<path d="M752.5 134.5V142.5M750.3 134.5h4.4M750.3 142.5h4.4" stroke="#3030f0"/>
<path d="M752.5 126.5V133.5M750.3 126.5h4.4M750.3 133.5h4.4" stroke="#3030f0"/>
<path d="M754.5 141.5V148.5M752.3 141.5h4.4M752.3 148.5h4.4" stroke="#3030f0"/>
<path d="M750.5 133.5V138.5M748.3 133.5h4.4M748.3 138.5h4.4" stroke="#3030f0"/>
<path d="M753.5 123.5V131.5M751.3 123.5h4.4M751.3 131.5h4.4" stroke="#3030f0"/>
<path d="M760.5 121.5V143.5M758.3 121.5h4.4M758.3 143.5h4.4" stroke="#3030f0"/>
<path d="M752.5 119.5V129.5M750.3 119.5h4.4M750.3 129.5h4.4" stroke="#3030f0"/>
<path d="M764.5 117.5V126.5M762.3 117.5h4.4M762.3 126.5h4.4" stroke="#3030f0"/>
<path d="M704.5 110.5V124.5M702.3 110.5h4.4M702.3 124.5h4.4" stroke="#3030f0"/>
<path d="M646.5 116.5V136.5M644.3 116.5h4.4M644.3 136.5h4.4" stroke="#3030f0"/>
<path d="M661.5 153.5V169.5M659.3 153.5h4.4M659.3 169.5h4.4" stroke="#3030f0"/>
<path d="M634.5 161.5V177.5M632.3 161.5h4.4M632.3 177.5h4.4" stroke="#3030f0"/>
<path d="M970.5 155.5V167.5M968.3 155.5h4.4M968.3 167.5h4.4" stroke="#3030f0"/>
<rect x="656.7" y="144.7" width="5.6" height="5.6" fill="#00f"/>
<rect x="653.7" y="133.7" width="5.6" height="5.6" fill="#00f"/>
<rect x="660.7" y="140.7" width="5.6" height="5.6" fill="#00f"/>
<rect x="655.7" y="152.7" width="5.6" height="5.6" fill="#00f"/>
<rect x="659.7" y="122.7" width="5.6" height="5.6" fill="#00f"/>
<rect x="660.7" y="152.7" width="5.6" height="5.6" fill="#00f"/>
<rect x="673.7" y="135.7" width="5.6" height="5.6" fill="#00f"/>
<rect x="676.7" y="154.7" width="5.6" height="5.6" fill="#00f"/>
<rect x="686.7" y="125.7" width="5.6" height="5.6" fill="#00f"/>
<rect x="679.7" y="139.7" width="5.6" height="5.6" fill="#00f"/>
<rect x="681.7" y="150.7" width="5.6" height="5.6" fill="#00f"/>
<rect x="681.7" y="127.7" width="5.6" height="5.6" fill="#00f"/>
<rect x="684.7" y="128.7" width="5.6" height="5.6" fill="#00f"/>
<rect x="683.7" y="136.7" width="5.6" height="5.6" fill="#00f"/>
<rect x="686.7" y="128.7" width="5.6" height="5.6" fill="#00f"/>
<rect x="698.7" y="140.7" width="5.6" height="5.6" fill="#00f"/>
<rect x="696.7" y="142.7" width="5.6" height="5.6" fill="#00f"/>
<rect x="696.7" y="130.7" width="5.6" height="5.6" fill="#00f"/>
<rect x="697.7" y="148.7" width="5.6" height="5.6" fill="#00f"/>
<rect x="698.7" y="122.7" width="5.6" height="5.6" fill="#00f"/>
<rect x="716.7" y="140.7" width="5.6" height="5.6" fill="#00f"/>
<rect x="717.7" y="136.7" width="5.6" height="5.6" fill="#00f"/>
<rect x="714.7" y="128.7" width="5.6" height="5.6" fill="#00f"/>
<rect x="707.7" y="139.7" width="5.6" height="5.6" fill="#00f"/>
<rect x="708.7" y="147.7" width="5.6" height="5.6" fill="#00f"/>
<rect x="702.7" y="128.7" width="5.6" height="5.6" fill="#00f"/>
<rect x="702.7" y="131.7" width="5.6" height="5.6" fill="#00f"/>
<rect x="704.7" y="128.7" width="5.6" height="5.6" fill="#00f"/>
<rect x="714.7" y="141.7" width="5.6" height="5.6" fill="#00f"/>
<rect x="703.7" y="141.7" width="5.6" height="5.6" fill="#00f"/>
<rect x="708.7" y="119.7" width="5.6" height="5.6" fill="#00f"/>
<rect x="701.7" y="120.7" width="5.6" height="5.6" fill="#00f"/>
<rect x="710.7" y="145.7" width="5.6" height="5.6" fill="#00f"/>
<rect x="705.7" y="120.7" width="5.6" height="5.6" fill="#00f"/>
<rect x="720.7" y="120.7" width="5.6" height="5.6" fill="#00f"/>
<rect x="743.7" y="130.7" width="5.6" height="5.6" fill="#00f"/>
<rect x="738.7" y="125.7" width="5.6" height="5.6" fill="#00f"/>
<rect x="739.7" y="126.7" width="5.6" height="5.6" fill="#00f"/>
<rect x="734.7" y="128.7" width="5.6" height="5.6" fill="#00f"/>
<rect x="749.7" y="124.7" width="5.6" height="5.6" fill="#00f"/>
<rect x="749.7" y="135.7" width="5.6" height="5.6" fill="#00f"/>
<rect x="749.7" y="126.7" width="5.6" height="5.6" fill="#00f"/>
<rect x="751.7" y="141.7" width="5.6" height="5.6" fill="#00f"/>
<rect x="747.7" y="132.7" width="5.6" height="5.6" fill="#00f"/>
<rect x="750.7" y="124.7" width="5.6" height="5.6" fill="#00f"/>
<rect x="757.7" y="128.7" width="5.6" height="5.6" fill="#00f"/>
<rect x="749.7" y="121.7" width="5.6" height="5.6" fill="#00f"/>
<rect x="761.7" y="118.7" width="5.6" height="5.6" fill="#00f"/>
<rect x="701.7" y="116.7" width="5.6" height="5.6" fill="#00f"/>
<rect x="643.7" y="125.7" width="5.6" height="5.6" fill="#00f"/>
<rect x="658.7" y="156.7" width="5.6" height="5.6" fill="#00f"/>
<rect x="631.7" y="164.7" width="5.6" height="5.6" fill="#00f"/>
<rect x="967.7" y="158.7" width="5.6" height="5.6" fill="#00f"/>
<path d="M660.5 128.5V140.5M658.3 128.5h4.4M658.3 140.5h4.4" stroke="#202090"/>
<path d="M662.5 144.5V162.5M660.3 144.5h4.4M660.3 162.5h4.4" stroke="#202090"/>
<path d="M658.5 151.5V162.5M656.3 151.5h4.4M656.3 162.5h4.4" stroke="#202090"/>
<path d="M667.5 142.5V158.5M665.3 142.5h4.4M665.3 158.5h4.4" stroke="#202090"/>
<path d="M668.5 141.5V154.5M666.3 141.5h4.4M666.3 154.5h4.4" stroke="#202090"/>
<path d="M672.5 128.5V136.5M670.3 128.5h4.4M670.3 136.5h4.4" stroke="#202090"/>
<path d="M681.5 146.5V152.5M679.3 146.5h4.4M679.3 152.5h4.4" stroke="#202090"/>
<path d="M686.5 137.5V152.5M684.3 137.5h4.4M684.3 152.5h4.4" stroke="#202090"/>
<path d="M684.5 130.5V145.5M682.3 130.5h4.4M682.3 145.5h4.4" stroke="#202090"/>
<path d="M689.5 145.5V156.5M687.3 145.5h4.4M687.3 156.5h4.4" stroke="#202090"/>
<path d="M711.5 141.5V149.5M709.3 141.5h4.4M709.3 149.5h4.4" stroke="#202090"/>
<path d="M717.5 137.5V141.5M715.3 137.5h4.4M715.3 141.5h4.4" stroke="#202090"/>
<path d="M710.5 130.5V136.5M708.3 130.5h4.4M708.3 136.5h4.4" stroke="#202090"/>
<path d="M739.5 134.5V142.5M737.3 134.5h4.4M737.3 142.5h4.4" stroke="#202090"/>
<path d="M745.5 126.5V137.5M743.3 126.5h4.4M743.3 137.5h4.4" stroke="#202090"/>
<path d="M743.5 120.5V129.5M741.3 120.5h4.4M741.3 129.5h4.4" stroke="#202090"/>
<path d="M791.5 146.5V155.5M789.3 146.5h4.4M789.3 155.5h4.4" stroke="#202090"/>
<path d="M649.5 105.5V134.5M647.3 105.5h4.4M647.3 134.5h4.4" stroke="#202090"/>
<path d="M647.5 109.5V132.5M645.3 109.5h4.4M645.3 132.5h4.4" stroke="#202090"/>
<path d="M664.5 104.5V132.5M662.3 104.5h4.4M662.3 132.5h4.4" stroke="#202090"/>
<path d="M699.5 151.5V172.5M697.3 151.5h4.4M697.3 172.5h4.4" stroke="#202090"/>
<path d="M660.5 131.4L663.6 134.5L660.5 137.6L657.4 134.5Z" fill="#000080"/>
<path d="M662.5 150.4L665.6 153.5L662.5 156.6L659.4 153.5Z" fill="#000080"/>
<path d="M658.5 154.4L661.6 157.5L658.5 160.6L655.4 157.5Z" fill="#000080"/>
<path d="M667.5 147.4L670.6 150.5L667.5 153.6L664.4 150.5Z" fill="#000080"/>
<path d="M668.5 144.4L671.6 147.5L668.5 150.6L665.4 147.5Z" fill="#000080"/>
<path d="M672.5 129.4L675.6 132.5L672.5 135.6L669.4 132.5Z" fill="#000080"/>
<path d="M681.5 146.4L684.6 149.5L681.5 152.6L678.4 149.5Z" fill="#000080"/>
<path d="M686.5 141.4L689.6 144.5L686.5 147.6L683.4 144.5Z" fill="#000080"/>
<path d="M684.5 134.4L687.6 137.5L684.5 140.6L681.4 137.5Z" fill="#000080"/>
<path d="M689.5 148.4L692.6 151.5L689.5 154.6L686.4 151.5Z" fill="#000080"/>
<path d="M711.5 142.4L714.6 145.5L711.5 148.6L708.4 145.5Z" fill="#000080"/>
<path d="M717.5 136.4L720.6 139.5L717.5 142.6L714.4 139.5Z" fill="#000080"/>
<path d="M710.5 130.4L713.6 133.5L710.5 136.6L707.4 133.5Z" fill="#000080"/>
<path d="M739.5 135.4L742.6 138.5L739.5 141.6L736.4 138.5Z" fill="#000080"/>
<path d="M745.5 128.4L748.6 131.5L745.5 134.6L742.4 131.5Z" fill="#000080"/>
<path d="M743.5 122.4L746.6 125.5L743.5 128.6L740.4 125.5Z" fill="#000080"/>
<path d="M791.5 147.4L794.6 150.5L791.5 153.6L788.4 150.5Z" fill="#000080"/>
<path d="M649.5 123.4L652.6 126.5L649.5 129.6L646.4 126.5Z" fill="#000080"/>
<path d="M647.5 121.4L650.6 124.5L647.5 127.6L644.4 124.5Z" fill="#000080"/>
<path d="M664.5 121.4L667.6 124.5L664.5 127.6L661.4 124.5Z" fill="#000080"/>
<path d="M699.5 154.4L702.6 157.5L699.5 160.6L696.4 157.5Z" fill="#000080"/>
<path d="M670.5 132.5V138.5M668.3 132.5h4.4M668.3 138.5h4.4" stroke="#208020"/>
<path d="M669.5 147.5V160.5M667.3 147.5h4.4M667.3 160.5h4.4" stroke="#208020"/>
<path d="M671.5 144.5V162.5M669.3 144.5h4.4M669.3 162.5h4.4" stroke="#208020"/>
<path d="M671.5 132.5V140.5M669.3 132.5h4.4M669.3 140.5h4.4" stroke="#208020"/>
<path d="M669.5 154.5V160.5M667.3 154.5h4.4M667.3 160.5h4.4" stroke="#208020"/>
<path d="M667.5 139.5V145.5M665.3 139.5h4.4M665.3 145.5h4.4" stroke="#208020"/>
<path d="M668.5 148.5V161.5M666.3 148.5h4.4M666.3 161.5h4.4" stroke="#208020"/>
<path d="M670.5 126.5V134.5M668.3 126.5h4.4M668.3 134.5h4.4" stroke="#208020"/>
<path d="M667.5 118.5V132.5M665.3 118.5h4.4M665.3 132.5h4.4" stroke="#208020"/>
<path d="M697.5 121.5V127.5M695.3 121.5h4.4M695.3 127.5h4.4" stroke="#208020"/>
<path d="M689.5 120.5V131.5M687.3 120.5h4.4M687.3 131.5h4.4" stroke="#208020"/>
<path d="M703.5 118.5V124.5M701.3 118.5h4.4M701.3 124.5h4.4" stroke="#208020"/>
<path d="M698.5 121.5V133.5M696.3 121.5h4.4M696.3 133.5h4.4" stroke="#208020"/>
<path d="M696.5 117.5V125.5M694.3 117.5h4.4M694.3 125.5h4.4" stroke="#208020"/>
<path d="M703.5 119.5V132.5M701.3 119.5h4.4M701.3 132.5h4.4" stroke="#208020"/>
<path d="M692.5 141.5V150.5M690.3 141.5h4.4M690.3 150.5h4.4" stroke="#208020"/>
<path d="M706.5 120.5V127.5M704.3 120.5h4.4M704.3 127.5h4.4" stroke="#208020"/>
<path d="M738.5 144.5V152.5M736.3 144.5h4.4M736.3 152.5h4.4" stroke="#208020"/>
<path d="M725.5 145.5V149.5M723.3 145.5h4.4M723.3 149.5h4.4" stroke="#208020"/>
<path d="M723.5 140.5V150.5M721.3 140.5h4.4M721.3 150.5h4.4" stroke="#208020"/>
<path d="M737.5 134.5V140.5M735.3 134.5h4.4M735.3 140.5h4.4" stroke="#208020"/>
<path d="M728.5 129.5V140.5M726.3 129.5h4.4M726.3 140.5h4.4" stroke="#208020"/>
<path d="M784.5 132.5V140.5M782.3 132.5h4.4M782.3 140.5h4.4" stroke="#208020"/>
<path d="M793.5 140.5V148.5M791.3 140.5h4.4M791.3 148.5h4.4" stroke="#208020"/>
<path d="M774.5 128.5V140.5M772.3 128.5h4.4M772.3 140.5h4.4" stroke="#208020"/>
<path d="M765.5 125.5V135.5M763.3 125.5h4.4M763.3 135.5h4.4" stroke="#208020"/>
<path d="M771.5 134.5V142.5M769.3 134.5h4.4M769.3 142.5h4.4" stroke="#208020"/>
<path d="M774.5 133.5V146.5M772.3 133.5h4.4M772.3 146.5h4.4" stroke="#208020"/>
<path d="M794.5 129.5V141.5M792.3 129.5h4.4M792.3 141.5h4.4" stroke="#208020"/>
<path d="M777.5 116.5V138.5M775.3 116.5h4.4M775.3 138.5h4.4" stroke="#208020"/>
<path d="M782.5 140.5V150.5M780.3 140.5h4.4M780.3 150.5h4.4" stroke="#208020"/>
<path d="M764.5 126.5V131.5M762.3 126.5h4.4M762.3 131.5h4.4" stroke="#208020"/>
<path d="M769.5 132.5V139.5M767.3 132.5h4.4M767.3 139.5h4.4" stroke="#208020"/>
<path d="M778.5 128.5V135.5M776.3 128.5h4.4M776.3 135.5h4.4" stroke="#208020"/>
<path d="M797.5 146.5V156.5M795.3 146.5h4.4M795.3 156.5h4.4" stroke="#208020"/>
<path d="M770.5 129.5V141.5M768.3 129.5h4.4M768.3 141.5h4.4" stroke="#208020"/>
<path d="M604.5 201.5V223.5M602.3 201.5h4.4M602.3 223.5h4.4" stroke="#208020"/>
<path d="M606.5 188.5V198.5M604.3 188.5h4.4M604.3 198.5h4.4" stroke="#208020"/>
<path d="M608.5 174.5V184.5M606.3 174.5h4.4M606.3 184.5h4.4" stroke="#208020"/>
<path d="M607.5 163.5V173.5M605.3 163.5h4.4M605.3 173.5h4.4" stroke="#208020"/>
<path d="M610.5 147.5V157.5M608.3 147.5h4.4M608.3 157.5h4.4" stroke="#208020"/>
<path d="M612.5 133.5V143.5M610.3 133.5h4.4M610.3 143.5h4.4" stroke="#208020"/>
<path d="M603.5 191.5V201.5M601.3 191.5h4.4M601.3 201.5h4.4" stroke="#208020"/>
<path d="M602.5 185.5V195.5M600.3 185.5h4.4M600.3 195.5h4.4" stroke="#208020"/>
<path d="M785.5 148.5V158.5M783.3 148.5h4.4M783.3 158.5h4.4" stroke="#208020"/>
<path d="M792.5 150.5V164.5M790.3 150.5h4.4M790.3 164.5h4.4" stroke="#208020"/>
<path d="M711.5 149.5V162.5M709.3 149.5h4.4M709.3 162.5h4.4" stroke="#208020"/>
<path d="M735.5 143.5V153.5M733.3 143.5h4.4M733.3 153.5h4.4" stroke="#208020"/>
<path d="M950.5 168.5V182.5M948.3 168.5h4.4M948.3 182.5h4.4" stroke="#208020"/>
<path d="M952.5 186.5V198.5M950.3 186.5h4.4M950.3 198.5h4.4" stroke="#208020"/>
<path d="M959.5 201.5V224.5M957.3 201.5h4.4M957.3 224.5h4.4" stroke="#208020"/>
<path d="M966.5 143.5V155.5M964.3 143.5h4.4M964.3 155.5h4.4" stroke="#208020"/>
<path d="M962.5 159.5V171.5M960.3 159.5h4.4M960.3 171.5h4.4" stroke="#208020"/>
<path d="M962.5 169.5V181.5M960.3 169.5h4.4M960.3 181.5h4.4" stroke="#208020"/>
<path d="M958.5 191.5V201.5M956.3 191.5h4.4M956.3 201.5h4.4" stroke="#208020"/>
<rect x="667.5" y="132.5" width="6.0" height="6.0" fill="#008000" stroke="#000" stroke-width="1.5"/>
<rect x="666.5" y="151.5" width="6.0" height="6.0" fill="#008000" stroke="#000" stroke-width="1.5"/>
<rect x="668.5" y="150.5" width="6.0" height="6.0" fill="#008000" stroke="#000" stroke-width="1.5"/>
<rect x="668.5" y="133.5" width="6.0" height="6.0" fill="#008000" stroke="#000" stroke-width="1.5"/>
<rect x="666.5" y="154.5" width="6.0" height="6.0" fill="#008000" stroke="#000" stroke-width="1.5"/>
<rect x="664.5" y="139.5" width="6.0" height="6.0" fill="#008000" stroke="#000" stroke-width="1.5"/>
<rect x="665.5" y="151.5" width="6.0" height="6.0" fill="#008000" stroke="#000" stroke-width="1.5"/>
<rect x="667.5" y="127.5" width="6.0" height="6.0" fill="#008000" stroke="#000" stroke-width="1.5"/>
<rect x="664.5" y="122.5" width="6.0" height="6.0" fill="#008000" stroke="#000" stroke-width="1.5"/>
<rect x="694.5" y="121.5" width="6.0" height="6.0" fill="#008000" stroke="#000" stroke-width="1.5"/>
<rect x="686.5" y="123.5" width="6.0" height="6.0" fill="#008000" stroke="#000" stroke-width="1.5"/>
<rect x="700.5" y="118.5" width="6.0" height="6.0" fill="#008000" stroke="#000" stroke-width="1.5"/>
<rect x="695.5" y="124.5" width="6.0" height="6.0" fill="#008000" stroke="#000" stroke-width="1.5"/>
<rect x="693.5" y="118.5" width="6.0" height="6.0" fill="#008000" stroke="#000" stroke-width="1.5"/>
<rect x="700.5" y="122.5" width="6.0" height="6.0" fill="#008000" stroke="#000" stroke-width="1.5"/>
<rect x="689.5" y="142.5" width="6.0" height="6.0" fill="#008000" stroke="#000" stroke-width="1.5"/>
<rect x="703.5" y="120.5" width="6.0" height="6.0" fill="#008000" stroke="#000" stroke-width="1.5"/>
<rect x="735.5" y="145.5" width="6.0" height="6.0" fill="#008000" stroke="#000" stroke-width="1.5"/>
<rect x="722.5" y="144.5" width="6.0" height="6.0" fill="#008000" stroke="#000" stroke-width="1.5"/>
<rect x="720.5" y="142.5" width="6.0" height="6.0" fill="#008000" stroke="#000" stroke-width="1.5"/>
<rect x="734.5" y="134.5" width="6.0" height="6.0" fill="#008000" stroke="#000" stroke-width="1.5"/>
<rect x="725.5" y="131.5" width="6.0" height="6.0" fill="#008000" stroke="#000" stroke-width="1.5"/>
<rect x="781.5" y="133.5" width="6.0" height="6.0" fill="#008000" stroke="#000" stroke-width="1.5"/>
<rect x="790.5" y="141.5" width="6.0" height="6.0" fill="#008000" stroke="#000" stroke-width="1.5"/>
<rect x="771.5" y="131.5" width="6.0" height="6.0" fill="#008000" stroke="#000" stroke-width="1.5"/>
<rect x="762.5" y="127.5" width="6.0" height="6.0" fill="#008000" stroke="#000" stroke-width="1.5"/>
<rect x="768.5" y="135.5" width="6.0" height="6.0" fill="#008000" stroke="#000" stroke-width="1.5"/>
<rect x="771.5" y="136.5" width="6.0" height="6.0" fill="#008000" stroke="#000" stroke-width="1.5"/>
<rect x="791.5" y="132.5" width="6.0" height="6.0" fill="#008000" stroke="#000" stroke-width="1.5"/>
<rect x="774.5" y="123.5" width="6.0" height="6.0" fill="#008000" stroke="#000" stroke-width="1.5"/>
<rect x="779.5" y="142.5" width="6.0" height="6.0" fill="#008000" stroke="#000" stroke-width="1.5"/>
<rect x="761.5" y="125.5" width="6.0" height="6.0" fill="#008000" stroke="#000" stroke-width="1.5"/>
<rect x="766.5" y="133.5" width="6.0" height="6.0" fill="#008000" stroke="#000" stroke-width="1.5"/>
<rect x="775.5" y="129.5" width="6.0" height="6.0" fill="#008000" stroke="#000" stroke-width="1.5"/>
<rect x="794.5" y="148.5" width="6.0" height="6.0" fill="#008000" stroke="#000" stroke-width="1.5"/>
<rect x="767.5" y="132.5" width="6.0" height="6.0" fill="#008000" stroke="#000" stroke-width="1.5"/>
<rect x="601.5" y="204.5" width="6.0" height="6.0" fill="#008000" stroke="#000" stroke-width="1.5"/>
<rect x="603.5" y="190.5" width="6.0" height="6.0" fill="#008000" stroke="#000" stroke-width="1.5"/>
<rect x="605.5" y="176.5" width="6.0" height="6.0" fill="#008000" stroke="#000" stroke-width="1.5"/>
<rect x="604.5" y="165.5" width="6.0" height="6.0" fill="#008000" stroke="#000" stroke-width="1.5"/>
<rect x="607.5" y="149.5" width="6.0" height="6.0" fill="#008000" stroke="#000" stroke-width="1.5"/>
<rect x="609.5" y="135.5" width="6.0" height="6.0" fill="#008000" stroke="#000" stroke-width="1.5"/>
<rect x="600.5" y="193.5" width="6.0" height="6.0" fill="#008000" stroke="#000" stroke-width="1.5"/>
<rect x="599.5" y="187.5" width="6.0" height="6.0" fill="#008000" stroke="#000" stroke-width="1.5"/>
<rect x="782.5" y="150.5" width="6.0" height="6.0" fill="#008000" stroke="#000" stroke-width="1.5"/>
<rect x="789.5" y="152.5" width="6.0" height="6.0" fill="#008000" stroke="#000" stroke-width="1.5"/>
<rect x="708.5" y="151.5" width="6.0" height="6.0" fill="#008000" stroke="#000" stroke-width="1.5"/>
<rect x="732.5" y="145.5" width="6.0" height="6.0" fill="#008000" stroke="#000" stroke-width="1.5"/>
<rect x="947.5" y="172.5" width="6.0" height="6.0" fill="#008000" stroke="#000" stroke-width="1.5"/>
<rect x="949.5" y="189.5" width="6.0" height="6.0" fill="#008000" stroke="#000" stroke-width="1.5"/>
<rect x="956.5" y="204.5" width="6.0" height="6.0" fill="#008000" stroke="#000" stroke-width="1.5"/>
<rect x="963.5" y="146.5" width="6.0" height="6.0" fill="#008000" stroke="#000" stroke-width="1.5"/>
<rect x="959.5" y="162.5" width="6.0" height="6.0" fill="#008000" stroke="#000" stroke-width="1.5"/>
<rect x="959.5" y="172.5" width="6.0" height="6.0" fill="#008000" stroke="#000" stroke-width="1.5"/>
<rect x="955.5" y="193.5" width="6.0" height="6.0" fill="#008000" stroke="#000" stroke-width="1.5"/>
<path d="M663.5 135.5V154.5M661.3 135.5h4.4M661.3 154.5h4.4" stroke="#3030f0"/>
<path d="M657.5 120.5V133.5M655.3 120.5h4.4M655.3 133.5h4.4" stroke="#3030f0"/>
<path d="M659.5 121.5V133.5M657.3 121.5h4.4M657.3 133.5h4.4" stroke="#3030f0"/>
<path d="M659.5 140.5V156.5M657.3 140.5h4.4M657.3 156.5h4.4" stroke="#3030f0"/>
<path d="M660.5 145.5V158.5M658.3 145.5h4.4M658.3 158.5h4.4" stroke="#3030f0"/>
<path d="M663.5 134.5V149.5M661.3 134.5h4.4M661.3 149.5h4.4" stroke="#3030f0"/>
<path d="M657.5 150.5V163.5M655.3 150.5h4.4M655.3 163.5h4.4" stroke="#3030f0"/>
<path d="M663.5 152.5V165.5M661.3 152.5h4.4M661.3 165.5h4.4" stroke="#3030f0"/>
<path d="M661.5 128.5V142.5M659.3 128.5h4.4M659.3 142.5h4.4" stroke="#3030f0"/>
<path d="M660.5 125.5V135.5M658.3 125.5h4.4M658.3 135.5h4.4" stroke="#3030f0"/>
<path d="M661.5 121.5V130.5M659.3 121.5h4.4M659.3 130.5h4.4" stroke="#3030f0"/>
<path d="M659.5 131.5V146.5M657.3 131.5h4.4M657.3 146.5h4.4" stroke="#3030f0"/>
<path d="M659.5 151.5V167.5M657.3 151.5h4.4M657.3 167.5h4.4" stroke="#3030f0"/>
<path d="M660.5 150.5V162.5M658.3 150.5h4.4M658.3 162.5h4.4" stroke="#3030f0"/>
<path d="M658.5 118.5V135.5M656.3 118.5h4.4M656.3 135.5h4.4" stroke="#3030f0"/>
<path d="M676.5 136.5V152.5M674.3 136.5h4.4M674.3 152.5h4.4" stroke="#3030f0"/>
<path d="M684.5 127.5V138.5M682.3 127.5h4.4M682.3 138.5h4.4" stroke="#3030f0"/>
<path d="M683.5 150.5V156.5M681.3 150.5h4.4M681.3 156.5h4.4" stroke="#3030f0"/>
<path d="M688.5 132.5V141.5M686.3 132.5h4.4M686.3 141.5h4.4" stroke="#3030f0"/>
<path d="M684.5 142.5V156.5M682.3 142.5h4.4M682.3 156.5h4.4" stroke="#3030f0"/>
<path d="M687.5 136.5V149.5M685.3 136.5h4.4M685.3 149.5h4.4" stroke="#3030f0"/>
<path d="M689.5 123.5V133.5M687.3 123.5h4.4M687.3 133.5h4.4" stroke="#3030f0"/>
<path d="M687.5 134.5V147.5M685.3 134.5h4.4M685.3 147.5h4.4" stroke="#3030f0"/>
<path d="M700.5 134.5V139.5M698.3 134.5h4.4M698.3 139.5h4.4" stroke="#3030f0"/>
<path d="M710.5 127.5V133.5M708.3 127.5h4.4M708.3 133.5h4.4" stroke="#3030f0"/>
<path d="M707.5 117.5V130.5M705.3 117.5h4.4M705.3 130.5h4.4" stroke="#3030f0"/>
<path d="M709.5 142.5V150.5M707.3 142.5h4.4M707.3 150.5h4.4" stroke="#3030f0"/>
<path d="M718.5 142.5V150.5M716.3 142.5h4.4M716.3 150.5h4.4" stroke="#3030f0"/>
<path d="M712.5 126.5V135.5M710.3 126.5h4.4M710.3 135.5h4.4" stroke="#3030f0"/>
<path d="M721.5 127.5V137.5M719.3 127.5h4.4M719.3 137.5h4.4" stroke="#3030f0"/>
<path d="M707.5 135.5V144.5M705.3 135.5h4.4M705.3 144.5h4.4" stroke="#3030f0"/>
<path d="M719.5 120.5V126.5M717.3 120.5h4.4M717.3 126.5h4.4" stroke="#3030f0"/>
<path d="M711.5 128.5V149.5M709.3 128.5h4.4M709.3 149.5h4.4" stroke="#3030f0"/>
<path d="M706.5 140.5V149.5M704.3 140.5h4.4M704.3 149.5h4.4" stroke="#3030f0"/>
<path d="M709.5 129.5V142.5M707.3 129.5h4.4M707.3 142.5h4.4" stroke="#3030f0"/>
<path d="M740.5 142.5V152.5M738.3 142.5h4.4M738.3 152.5h4.4" stroke="#3030f0"/>
<path d="M736.5 120.5V126.5M734.3 120.5h4.4M734.3 126.5h4.4" stroke="#3030f0"/>
<path d="M745.5 137.5V146.5M743.3 137.5h4.4M743.3 146.5h4.4" stroke="#3030f0"/>
<path d="M756.5 126.5V133.5M754.3 126.5h4.4M754.3 133.5h4.4" stroke="#3030f0"/>
<path d="M754.5 121.5V131.5M752.3 121.5h4.4M752.3 131.5h4.4" stroke="#3030f0"/>
<path d="M754.5 124.5V134.5M752.3 124.5h4.4M752.3 134.5h4.4" stroke="#3030f0"/>
<path d="M756.5 122.5V134.5M754.3 122.5h4.4M754.3 134.5h4.4" stroke="#3030f0"/>
<path d="M782.5 146.5V154.5M780.3 146.5h4.4M780.3 154.5h4.4" stroke="#3030f0"/>
<path d="M663.5 141.4L666.6 144.5L663.5 147.6L660.4 144.5Z" fill="#0000ff"/>
<path d="M657.5 124.4L660.6 127.5L657.5 130.6L654.4 127.5Z" fill="#0000ff"/>
<path d="M659.5 124.4L662.6 127.5L659.5 130.6L656.4 127.5Z" fill="#0000ff"/>
<path d="M659.5 145.4L662.6 148.5L659.5 151.6L656.4 148.5Z" fill="#0000ff"/>
<path d="M660.5 149.4L663.6 152.5L660.5 155.6L657.4 152.5Z" fill="#0000ff"/>
<path d="M663.5 139.4L666.6 142.5L663.5 145.6L660.4 142.5Z" fill="#0000ff"/>
<path d="M657.5 153.4L660.6 156.5L657.5 159.6L654.4 156.5Z" fill="#0000ff"/>
<path d="M663.5 156.4L666.6 159.5L663.5 162.6L660.4 159.5Z" fill="#0000ff"/>
<path d="M661.5 132.4L664.6 135.5L661.5 138.6L658.4 135.5Z" fill="#0000ff"/>
<path d="M660.5 127.4L663.6 130.5L660.5 133.6L657.4 130.5Z" fill="#0000ff"/>
<path d="M661.5 122.4L664.6 125.5L661.5 128.6L658.4 125.5Z" fill="#0000ff"/>
<path d="M659.5 135.4L662.6 138.5L659.5 141.6L656.4 138.5Z" fill="#0000ff"/>
<path d="M659.5 156.4L662.6 159.5L659.5 162.6L656.4 159.5Z" fill="#0000ff"/>
<path d="M660.5 153.4L663.6 156.5L660.5 159.6L657.4 156.5Z" fill="#0000ff"/>
<path d="M658.5 123.4L661.6 126.5L658.5 129.6L655.4 126.5Z" fill="#0000ff"/>
<path d="M676.5 141.4L679.6 144.5L676.5 147.6L673.4 144.5Z" fill="#0000ff"/>
<path d="M684.5 130.4L687.6 133.5L684.5 136.6L681.4 133.5Z" fill="#0000ff"/>
<path d="M683.5 150.4L686.6 153.5L683.5 156.6L680.4 153.5Z" fill="#0000ff"/>
<path d="M688.5 133.4L691.6 136.5L688.5 139.6L685.4 136.5Z" fill="#0000ff"/>
<path d="M684.5 146.4L687.6 149.5L684.5 152.6L681.4 149.5Z" fill="#0000ff"/>
<path d="M687.5 140.4L690.6 143.5L687.5 146.6L684.4 143.5Z" fill="#0000ff"/>
<path d="M689.5 125.4L692.6 128.5L689.5 131.6L686.4 128.5Z" fill="#0000ff"/>
<path d="M687.5 138.4L690.6 141.5L687.5 144.6L684.4 141.5Z" fill="#0000ff"/>
<path d="M700.5 134.4L703.6 137.5L700.5 140.6L697.4 137.5Z" fill="#0000ff"/>
<path d="M710.5 127.4L713.6 130.5L710.5 133.6L707.4 130.5Z" fill="#0000ff"/>
<path d="M707.5 121.4L710.6 124.5L707.5 127.6L704.4 124.5Z" fill="#0000ff"/>
<path d="M709.5 143.4L712.6 146.5L709.5 149.6L706.4 146.5Z" fill="#0000ff"/>
<path d="M718.5 143.4L721.6 146.5L718.5 149.6L715.4 146.5Z" fill="#0000ff"/>
<path d="M712.5 127.4L715.6 130.5L712.5 133.6L709.4 130.5Z" fill="#0000ff"/>
<path d="M721.5 129.4L724.6 132.5L721.5 135.6L718.4 132.5Z" fill="#0000ff"/>
<path d="M707.5 137.4L710.6 140.5L707.5 143.6L704.4 140.5Z" fill="#0000ff"/>
<path d="M719.5 120.4L722.6 123.5L719.5 126.6L716.4 123.5Z" fill="#0000ff"/>
<path d="M711.5 136.4L714.6 139.5L711.5 142.6L708.4 139.5Z" fill="#0000ff"/>
<path d="M706.5 142.4L709.6 145.5L706.5 148.6L703.4 145.5Z" fill="#0000ff"/>
<path d="M709.5 132.4L712.6 135.5L709.5 138.6L706.4 135.5Z" fill="#0000ff"/>
<path d="M740.5 144.4L743.6 147.5L740.5 150.6L737.4 147.5Z" fill="#0000ff"/>
<path d="M736.5 120.4L739.6 123.5L736.5 126.6L733.4 123.5Z" fill="#0000ff"/>
<path d="M745.5 138.4L748.6 141.5L745.5 144.6L742.4 141.5Z" fill="#0000ff"/>
<path d="M756.5 127.4L759.6 130.5L756.5 133.6L753.4 130.5Z" fill="#0000ff"/>
<path d="M754.5 123.4L757.6 126.5L754.5 129.6L751.4 126.5Z" fill="#0000ff"/>
<path d="M754.5 126.4L757.6 129.5L754.5 132.6L751.4 129.5Z" fill="#0000ff"/>
<path d="M756.5 125.4L759.6 128.5L756.5 131.6L753.4 128.5Z" fill="#0000ff"/>
<path d="M782.5 147.4L785.6 150.5L782.5 153.6L779.4 150.5Z" fill="#0000ff"/>
<path d="M670.5 128.5V143.5M668.3 128.5h4.4M668.3 143.5h4.4" stroke="#208020"/>
<path d="M666.5 141.5V152.5M664.3 141.5h4.4M664.3 152.5h4.4" stroke="#208020"/>
<path d="M677.5 147.5V155.5M675.3 147.5h4.4M675.3 155.5h4.4" stroke="#208020"/>
<path d="M676.5 129.5V141.5M674.3 129.5h4.4M674.3 141.5h4.4" stroke="#208020"/>
<path d="M684.5 142.5V154.5M682.3 142.5h4.4M682.3 154.5h4.4" stroke="#208020"/>
<path d="M696.5 129.5V136.5M694.3 129.5h4.4M694.3 136.5h4.4" stroke="#208020"/>
<path d="M695.5 143.5V148.5M693.3 143.5h4.4M693.3 148.5h4.4" stroke="#208020"/>
<path d="M688.5 125.5V129.5M686.3 125.5h4.4M686.3 129.5h4.4" stroke="#208020"/>
<path d="M704.5 119.5V127.5M702.3 119.5h4.4M702.3 127.5h4.4" stroke="#208020"/>
<path d="M691.5 128.5V134.5M689.3 128.5h4.4M689.3 134.5h4.4" stroke="#208020"/>
<path d="M696.5 122.5V132.5M694.3 122.5h4.4M694.3 132.5h4.4" stroke="#208020"/>
<path d="M701.5 134.5V139.5M699.3 134.5h4.4M699.3 139.5h4.4" stroke="#208020"/>
<path d="M692.5 140.5V150.5M690.3 140.5h4.4M690.3 150.5h4.4" stroke="#208020"/>
<path d="M711.5 121.5V127.5M709.3 121.5h4.4M709.3 127.5h4.4" stroke="#208020"/>
<path d="M739.5 113.5V131.5M737.3 113.5h4.4M737.3 131.5h4.4" stroke="#208020"/>
<path d="M742.5 122.5V145.5M740.3 122.5h4.4M740.3 145.5h4.4" stroke="#208020"/>
<path d="M743.5 130.5V137.5M741.3 130.5h4.4M741.3 137.5h4.4" stroke="#208020"/>
<path d="M725.5 128.5V132.5M723.3 128.5h4.4M723.3 132.5h4.4" stroke="#208020"/>
<path d="M726.5 127.5V135.5M724.3 127.5h4.4M724.3 135.5h4.4" stroke="#208020"/>
<path d="M745.5 128.5V137.5M743.3 128.5h4.4M743.3 137.5h4.4" stroke="#208020"/>
<path d="M737.5 145.5V153.5M735.3 145.5h4.4M735.3 153.5h4.4" stroke="#208020"/>
<path d="M744.5 122.5V128.5M742.3 122.5h4.4M742.3 128.5h4.4" stroke="#208020"/>
<path d="M739.5 121.5V130.5M737.3 121.5h4.4M737.3 130.5h4.4" stroke="#208020"/>
<path d="M741.5 127.5V136.5M739.3 127.5h4.4M739.3 136.5h4.4" stroke="#208020"/>
<path d="M729.5 133.5V139.5M727.3 133.5h4.4M727.3 139.5h4.4" stroke="#208020"/>
<path d="M739.5 133.5V141.5M737.3 133.5h4.4M737.3 141.5h4.4" stroke="#208020"/>
<path d="M740.5 120.5V128.5M738.3 120.5h4.4M738.3 128.5h4.4" stroke="#208020"/>
<path d="M749.5 127.5V135.5M747.3 127.5h4.4M747.3 135.5h4.4" stroke="#208020"/>
<path d="M722.5 133.5V143.5M720.3 133.5h4.4M720.3 143.5h4.4" stroke="#208020"/>
<path d="M735.5 120.5V134.5M733.3 120.5h4.4M733.3 134.5h4.4" stroke="#208020"/>
<path d="M735.5 133.5V141.5M733.3 133.5h4.4M733.3 141.5h4.4" stroke="#208020"/>
<path d="M731.5 135.5V148.5M729.3 135.5h4.4M729.3 148.5h4.4" stroke="#208020"/>
<path d="M739.5 137.5V141.5M737.3 137.5h4.4M737.3 141.5h4.4" stroke="#208020"/>
<path d="M722.5 114.5V132.5M720.3 114.5h4.4M720.3 132.5h4.4" stroke="#208020"/>
<path d="M722.5 116.5V129.5M720.3 116.5h4.4M720.3 129.5h4.4" stroke="#208020"/>
<path d="M752.5 137.5V148.5M750.3 137.5h4.4M750.3 148.5h4.4" stroke="#208020"/>
<path d="M751.5 137.5V142.5M749.3 137.5h4.4M749.3 142.5h4.4" stroke="#208020"/>
<path d="M760.5 132.5V140.5M758.3 132.5h4.4M758.3 140.5h4.4" stroke="#208020"/>
<path d="M759.5 128.5V136.5M757.3 128.5h4.4M757.3 136.5h4.4" stroke="#208020"/>
<path d="M753.5 136.5V143.5M751.3 136.5h4.4M751.3 143.5h4.4" stroke="#208020"/>
<path d="M794.5 130.5V141.5M792.3 130.5h4.4M792.3 141.5h4.4" stroke="#208020"/>
<path d="M783.5 127.5V133.5M781.3 127.5h4.4M781.3 133.5h4.4" stroke="#208020"/>
<path d="M777.5 123.5V129.5M775.3 123.5h4.4M775.3 129.5h4.4" stroke="#208020"/>
<path d="M769.5 119.5V130.5M767.3 119.5h4.4M767.3 130.5h4.4" stroke="#208020"/>
<path d="M786.5 142.5V153.5M784.3 142.5h4.4M784.3 153.5h4.4" stroke="#208020"/>
<path d="M768.5 127.5V139.5M766.3 127.5h4.4M766.3 139.5h4.4" stroke="#208020"/>
<path d="M788.5 123.5V134.5M786.3 123.5h4.4M786.3 134.5h4.4" stroke="#208020"/>
<path d="M762.5 121.5V127.5M760.3 121.5h4.4M760.3 127.5h4.4" stroke="#208020"/>
<path d="M796.5 141.5V151.5M794.3 141.5h4.4M794.3 151.5h4.4" stroke="#208020"/>
<path d="M777.5 136.5V144.5M775.3 136.5h4.4M775.3 144.5h4.4" stroke="#208020"/>
<path d="M788.5 130.5V140.5M786.3 130.5h4.4M786.3 140.5h4.4" stroke="#208020"/>
<path d="M764.5 122.5V129.5M762.3 122.5h4.4M762.3 129.5h4.4" stroke="#208020"/>
<path d="M771.5 132.5V140.5M769.3 132.5h4.4M769.3 140.5h4.4" stroke="#208020"/>
<path d="M778.5 131.5V139.5M776.3 131.5h4.4M776.3 139.5h4.4" stroke="#208020"/>
<path d="M788.5 147.5V157.5M786.3 147.5h4.4M786.3 157.5h4.4" stroke="#208020"/>
<path d="M762.5 126.5V132.5M760.3 126.5h4.4M760.3 132.5h4.4" stroke="#208020"/>
<path d="M744.5 117.5V125.5M742.3 117.5h4.4M742.3 125.5h4.4" stroke="#208020"/>
<use href="#ast" x="670.5" y="135.5"/>
<use href="#ast" x="666.5" y="147.5"/>
<use href="#ast" x="677.5" y="151.5"/>
<use href="#ast" x="676.5" y="136.5"/>
<use href="#ast" x="684.5" y="148.5"/>
<use href="#ast" x="696.5" y="133.5"/>
<use href="#ast" x="695.5" y="146.5"/>
<use href="#ast" x="688.5" y="127.5"/>
<use href="#ast" x="704.5" y="123.5"/>
<use href="#ast" x="691.5" y="131.5"/>
<use href="#ast" x="696.5" y="127.5"/>
<use href="#ast" x="701.5" y="136.5"/>
<use href="#ast" x="692.5" y="145.5"/>
<use href="#ast" x="711.5" y="124.5"/>
<use href="#ast" x="739.5" y="122.5"/>
<use href="#ast" x="742.5" y="133.5"/>
<use href="#ast" x="743.5" y="134.5"/>
<use href="#ast" x="725.5" y="130.5"/>
<use href="#ast" x="726.5" y="131.5"/>
<use href="#ast" x="745.5" y="132.5"/>
<use href="#ast" x="737.5" y="149.5"/>
<use href="#ast" x="744.5" y="125.5"/>
<use href="#ast" x="739.5" y="125.5"/>
<use href="#ast" x="741.5" y="132.5"/>
<use href="#ast" x="729.5" y="136.5"/>
<use href="#ast" x="739.5" y="137.5"/>
<use href="#ast" x="740.5" y="124.5"/>
<use href="#ast" x="749.5" y="131.5"/>
<use href="#ast" x="722.5" y="138.5"/>
<use href="#ast" x="735.5" y="127.5"/>
<use href="#ast" x="735.5" y="137.5"/>
<use href="#ast" x="731.5" y="141.5"/>
<use href="#ast" x="739.5" y="139.5"/>
<use href="#ast" x="722.5" y="124.5"/>
<use href="#ast" x="722.5" y="122.5"/>
<use href="#ast" x="752.5" y="143.5"/>
<use href="#ast" x="751.5" y="140.5"/>
<use href="#ast" x="760.5" y="136.5"/>
<use href="#ast" x="759.5" y="132.5"/>
<use href="#ast" x="753.5" y="140.5"/>
<use href="#ast" x="794.5" y="135.5"/>
<use href="#ast" x="783.5" y="130.5"/>
<use href="#ast" x="777.5" y="126.5"/>
<use href="#ast" x="769.5" y="124.5"/>
<use href="#ast" x="786.5" y="147.5"/>
<use href="#ast" x="768.5" y="133.5"/>
<use href="#ast" x="788.5" y="128.5"/>
<use href="#ast" x="762.5" y="124.5"/>
<use href="#ast" x="796.5" y="146.5"/>
<use href="#ast" x="777.5" y="140.5"/>
<use href="#ast" x="788.5" y="135.5"/>
<use href="#ast" x="764.5" y="126.5"/>
<use href="#ast" x="771.5" y="136.5"/>
<use href="#ast" x="778.5" y="135.5"/>
<use href="#ast" x="788.5" y="152.5"/>
<use href="#ast" x="762.5" y="129.5"/>
<use href="#ast" x="744.5" y="121.5"/>
<circle cx="948.6" cy="135.5" r="5.7" fill="none" stroke="#ff6060" stroke-width="1"/>
<circle cx="595.5" cy="174.3" r="5" fill="none" stroke="#707070" stroke-width="1"/>
<line x1="95.5" y1="323.0" x2="95.5" y2="318.0" class="tk"/>
<line x1="95.5" y1="5.05" x2="95.5" y2="10.05" class="tk"/>
<text x="95.5" y="336.0" font-size="12" text-anchor="middle" textLength="23.4" lengthAdjust="spacingAndGlyphs">0.00</text>
<line x1="130.9" y1="323.0" x2="130.9" y2="318.0" class="tk"/>
<line x1="130.9" y1="5.05" x2="130.9" y2="10.05" class="tk"/>
<text x="130.9" y="336.0" font-size="12" text-anchor="middle" textLength="23.4" lengthAdjust="spacingAndGlyphs">0.10</text>
<line x1="166.3" y1="323.0" x2="166.3" y2="318.0" class="tk"/>
<line x1="166.3" y1="5.05" x2="166.3" y2="10.05" class="tk"/>
<text x="166.3" y="336.0" font-size="12" text-anchor="middle" textLength="23.4" lengthAdjust="spacingAndGlyphs">0.20</text>
<line x1="201.6" y1="323.0" x2="201.6" y2="318.0" class="tk"/>
<line x1="201.6" y1="5.05" x2="201.6" y2="10.05" class="tk"/>
<text x="201.6" y="336.0" font-size="12" text-anchor="middle" textLength="23.4" lengthAdjust="spacingAndGlyphs">0.30</text>
<line x1="237.0" y1="323.0" x2="237.0" y2="318.0" class="tk"/>
<line x1="237.0" y1="5.05" x2="237.0" y2="10.05" class="tk"/>
<text x="237.0" y="336.0" font-size="12" text-anchor="middle" textLength="23.4" lengthAdjust="spacingAndGlyphs">0.40</text>
<line x1="272.4" y1="323.0" x2="272.4" y2="318.0" class="tk"/>
<line x1="272.4" y1="5.05" x2="272.4" y2="10.05" class="tk"/>
<text x="272.4" y="336.0" font-size="12" text-anchor="middle" textLength="23.4" lengthAdjust="spacingAndGlyphs">0.50</text>
<line x1="307.8" y1="323.0" x2="307.8" y2="318.0" class="tk"/>
<line x1="307.8" y1="5.05" x2="307.8" y2="10.05" class="tk"/>
<text x="307.8" y="336.0" font-size="12" text-anchor="middle" textLength="23.4" lengthAdjust="spacingAndGlyphs">0.60</text>
<line x1="343.2" y1="323.0" x2="343.2" y2="318.0" class="tk"/>
<line x1="343.2" y1="5.05" x2="343.2" y2="10.05" class="tk"/>
<text x="343.2" y="336.0" font-size="12" text-anchor="middle" textLength="23.4" lengthAdjust="spacingAndGlyphs">0.70</text>
<line x1="378.5" y1="323.0" x2="378.5" y2="318.0" class="tk"/>
<line x1="378.5" y1="5.05" x2="378.5" y2="10.05" class="tk"/>
<text x="378.5" y="336.0" font-size="12" text-anchor="middle" textLength="23.4" lengthAdjust="spacingAndGlyphs">0.80</text>
<line x1="413.9" y1="323.0" x2="413.9" y2="318.0" class="tk"/>
<line x1="413.9" y1="5.05" x2="413.9" y2="10.05" class="tk"/>
<text x="413.9" y="336.0" font-size="12" text-anchor="middle" textLength="23.4" lengthAdjust="spacingAndGlyphs">0.90</text>
<line x1="449.3" y1="323.0" x2="449.3" y2="318.0" class="tk"/>
<line x1="449.3" y1="5.05" x2="449.3" y2="10.05" class="tk"/>
<text x="449.3" y="336.0" font-size="12" text-anchor="middle" textLength="23.4" lengthAdjust="spacingAndGlyphs">1.00</text>
<line x1="51.55" y1="27.4" x2="57.05" y2="27.4" class="tk"/>
<line x1="492.8" y1="27.4" x2="487.3" y2="27.4" class="tk"/>
<text x="48.0" y="31.5" font-size="11.5" text-anchor="end" textLength="27.6" lengthAdjust="spacingAndGlyphs">-0.45</text>
<line x1="51.55" y1="49.2" x2="57.05" y2="49.2" class="tk"/>
<line x1="492.8" y1="49.2" x2="487.3" y2="49.2" class="tk"/>
<text x="48.0" y="53.3" font-size="11.5" text-anchor="end" textLength="27.6" lengthAdjust="spacingAndGlyphs">-0.40</text>
<line x1="51.55" y1="71.1" x2="57.05" y2="71.1" class="tk"/>
<line x1="492.8" y1="71.1" x2="487.3" y2="71.1" class="tk"/>
<text x="48.0" y="75.2" font-size="11.5" text-anchor="end" textLength="27.6" lengthAdjust="spacingAndGlyphs">-0.35</text>
<line x1="51.55" y1="93.0" x2="57.05" y2="93.0" class="tk"/>
<line x1="492.8" y1="93.0" x2="487.3" y2="93.0" class="tk"/>
<text x="48.0" y="97.1" font-size="11.5" text-anchor="end" textLength="27.6" lengthAdjust="spacingAndGlyphs">-0.30</text>
<line x1="51.55" y1="114.8" x2="57.05" y2="114.8" class="tk"/>
<line x1="492.8" y1="114.8" x2="487.3" y2="114.8" class="tk"/>
<text x="48.0" y="118.9" font-size="11.5" text-anchor="end" textLength="27.6" lengthAdjust="spacingAndGlyphs">-0.25</text>
<line x1="51.55" y1="136.7" x2="57.05" y2="136.7" class="tk"/>
<line x1="492.8" y1="136.7" x2="487.3" y2="136.7" class="tk"/>
<text x="48.0" y="140.8" font-size="11.5" text-anchor="end" textLength="27.6" lengthAdjust="spacingAndGlyphs">-0.20</text>
<line x1="51.55" y1="158.6" x2="57.05" y2="158.6" class="tk"/>
<line x1="492.8" y1="158.6" x2="487.3" y2="158.6" class="tk"/>
<text x="48.0" y="162.7" font-size="11.5" text-anchor="end" textLength="27.6" lengthAdjust="spacingAndGlyphs">-0.15</text>
<line x1="51.55" y1="180.5" x2="57.05" y2="180.5" class="tk"/>
<line x1="492.8" y1="180.5" x2="487.3" y2="180.5" class="tk"/>
<text x="48.0" y="184.6" font-size="11.5" text-anchor="end" textLength="27.6" lengthAdjust="spacingAndGlyphs">-0.10</text>
<line x1="51.55" y1="202.3" x2="57.05" y2="202.3" class="tk"/>
<line x1="492.8" y1="202.3" x2="487.3" y2="202.3" class="tk"/>
<text x="48.0" y="206.4" font-size="11.5" text-anchor="end" textLength="27.6" lengthAdjust="spacingAndGlyphs">-0.05</text>
<line x1="51.55" y1="224.2" x2="57.05" y2="224.2" class="tk"/>
<line x1="492.8" y1="224.2" x2="487.3" y2="224.2" class="tk"/>
<text x="48.0" y="228.3" font-size="11.5" text-anchor="end" textLength="22.9" lengthAdjust="spacingAndGlyphs">0.00</text>
<line x1="51.55" y1="246.1" x2="57.05" y2="246.1" class="tk"/>
<line x1="492.8" y1="246.1" x2="487.3" y2="246.1" class="tk"/>
<text x="48.0" y="250.2" font-size="11.5" text-anchor="end" textLength="22.9" lengthAdjust="spacingAndGlyphs">0.05</text>
<line x1="51.55" y1="268.0" x2="57.05" y2="268.0" class="tk"/>
<line x1="492.8" y1="268.0" x2="487.3" y2="268.0" class="tk"/>
<text x="48.0" y="272.1" font-size="11.5" text-anchor="end" textLength="22.9" lengthAdjust="spacingAndGlyphs">0.10</text>
<line x1="51.55" y1="289.9" x2="57.05" y2="289.9" class="tk"/>
<line x1="492.8" y1="289.9" x2="487.3" y2="289.9" class="tk"/>
<text x="48.0" y="294.0" font-size="11.5" text-anchor="end" textLength="22.9" lengthAdjust="spacingAndGlyphs">0.15</text>
<rect x="51.55" y="5.05" width="441.25" height="317.95" fill="none" stroke="#000" stroke-width="1.35"/>
<text x="212.3" y="35.8" font-size="18" text-anchor="start" textLength="116.3" lengthAdjust="spacingAndGlyphs" style="stroke-width:0.65px">3873 Roddy</text>
<text x="183.0" y="56.8" font-size="12.5" text-anchor="start" textLength="176.0" lengthAdjust="spacingAndGlyphs">Period: 2.47900 ± 0.00006 h</text>
<text x="66.8" y="309.5" font-size="12.5" text-anchor="start" textLength="171.9" lengthAdjust="spacingAndGlyphs">JDo(LTC): 2454321.719364</text>
<text transform="translate(13.8,267.2) rotate(-90)" font-size="12.3" textLength="205.5" lengthAdjust="spacingAndGlyphs">Reduced Magnitude(R) alpha(24.1°)</text>
<line x1="597.2" y1="323.05" x2="597.2" y2="318.05" class="tk"/>
<line x1="597.2" y1="4.2" x2="597.2" y2="9.2" class="tk"/>
<text x="597.2" y="335.9" font-size="12" text-anchor="middle" textLength="23.2" lengthAdjust="spacingAndGlyphs">0.00</text>
<line x1="632.7" y1="323.05" x2="632.7" y2="318.05" class="tk"/>
<line x1="632.7" y1="4.2" x2="632.7" y2="9.2" class="tk"/>
<text x="632.7" y="335.9" font-size="12" text-anchor="middle" textLength="23.2" lengthAdjust="spacingAndGlyphs">0.10</text>
<line x1="668.2" y1="323.05" x2="668.2" y2="318.05" class="tk"/>
<line x1="668.2" y1="4.2" x2="668.2" y2="9.2" class="tk"/>
<text x="668.2" y="335.9" font-size="12" text-anchor="middle" textLength="23.2" lengthAdjust="spacingAndGlyphs">0.20</text>
<line x1="703.7" y1="323.05" x2="703.7" y2="318.05" class="tk"/>
<line x1="703.7" y1="4.2" x2="703.7" y2="9.2" class="tk"/>
<text x="703.7" y="335.9" font-size="12" text-anchor="middle" textLength="23.2" lengthAdjust="spacingAndGlyphs">0.30</text>
<line x1="739.2" y1="323.05" x2="739.2" y2="318.05" class="tk"/>
<line x1="739.2" y1="4.2" x2="739.2" y2="9.2" class="tk"/>
<text x="739.2" y="335.9" font-size="12" text-anchor="middle" textLength="23.2" lengthAdjust="spacingAndGlyphs">0.40</text>
<line x1="774.7" y1="323.05" x2="774.7" y2="318.05" class="tk"/>
<line x1="774.7" y1="4.2" x2="774.7" y2="9.2" class="tk"/>
<text x="774.7" y="335.9" font-size="12" text-anchor="middle" textLength="23.2" lengthAdjust="spacingAndGlyphs">0.50</text>
<line x1="810.2" y1="323.05" x2="810.2" y2="318.05" class="tk"/>
<line x1="810.2" y1="4.2" x2="810.2" y2="9.2" class="tk"/>
<text x="810.2" y="335.9" font-size="12" text-anchor="middle" textLength="23.2" lengthAdjust="spacingAndGlyphs">0.60</text>
<line x1="845.7" y1="323.05" x2="845.7" y2="318.05" class="tk"/>
<line x1="845.7" y1="4.2" x2="845.7" y2="9.2" class="tk"/>
<text x="845.7" y="335.9" font-size="12" text-anchor="middle" textLength="23.2" lengthAdjust="spacingAndGlyphs">0.70</text>
<line x1="881.2" y1="323.05" x2="881.2" y2="318.05" class="tk"/>
<line x1="881.2" y1="4.2" x2="881.2" y2="9.2" class="tk"/>
<text x="881.2" y="335.9" font-size="12" text-anchor="middle" textLength="23.2" lengthAdjust="spacingAndGlyphs">0.80</text>
<line x1="916.7" y1="323.05" x2="916.7" y2="318.05" class="tk"/>
<line x1="916.7" y1="4.2" x2="916.7" y2="9.2" class="tk"/>
<text x="916.7" y="335.9" font-size="12" text-anchor="middle" textLength="23.2" lengthAdjust="spacingAndGlyphs">0.90</text>
<line x1="952.2" y1="323.05" x2="952.2" y2="318.05" class="tk"/>
<line x1="952.2" y1="4.2" x2="952.2" y2="9.2" class="tk"/>
<text x="952.2" y="335.9" font-size="12" text-anchor="middle" textLength="23.2" lengthAdjust="spacingAndGlyphs">1.00</text>
<line x1="553.2" y1="37.0" x2="558.7" y2="37.0" class="tk"/>
<line x1="995.6" y1="37.0" x2="990.1" y2="37.0" class="tk"/>
<text x="549.6" y="41.1" font-size="11.5" text-anchor="end" textLength="27.2" lengthAdjust="spacingAndGlyphs">-0.25</text>
<line x1="553.2" y1="58.9" x2="558.7" y2="58.9" class="tk"/>
<line x1="995.6" y1="58.9" x2="990.1" y2="58.9" class="tk"/>
<text x="549.6" y="63.0" font-size="11.5" text-anchor="end" textLength="27.2" lengthAdjust="spacingAndGlyphs">-0.20</text>
<line x1="553.2" y1="80.7" x2="558.7" y2="80.7" class="tk"/>
<line x1="995.6" y1="80.7" x2="990.1" y2="80.7" class="tk"/>
<text x="549.6" y="84.8" font-size="11.5" text-anchor="end" textLength="27.2" lengthAdjust="spacingAndGlyphs">-0.15</text>
<line x1="553.2" y1="102.6" x2="558.7" y2="102.6" class="tk"/>
<line x1="995.6" y1="102.6" x2="990.1" y2="102.6" class="tk"/>
<text x="549.6" y="106.7" font-size="11.5" text-anchor="end" textLength="27.2" lengthAdjust="spacingAndGlyphs">-0.10</text>
<line x1="553.2" y1="124.4" x2="558.7" y2="124.4" class="tk"/>
<line x1="995.6" y1="124.4" x2="990.1" y2="124.4" class="tk"/>
<text x="549.6" y="128.5" font-size="11.5" text-anchor="end" textLength="27.2" lengthAdjust="spacingAndGlyphs">-0.05</text>
<line x1="553.2" y1="146.2" x2="558.7" y2="146.2" class="tk"/>
<line x1="995.6" y1="146.2" x2="990.1" y2="146.2" class="tk"/>
<text x="549.6" y="150.3" font-size="11.5" text-anchor="end" textLength="22.4" lengthAdjust="spacingAndGlyphs">0.00</text>
<line x1="553.2" y1="168.1" x2="558.7" y2="168.1" class="tk"/>
<line x1="995.6" y1="168.1" x2="990.1" y2="168.1" class="tk"/>
<text x="549.6" y="172.2" font-size="11.5" text-anchor="end" textLength="22.4" lengthAdjust="spacingAndGlyphs">0.05</text>
<line x1="553.2" y1="190.0" x2="558.7" y2="190.0" class="tk"/>
<line x1="995.6" y1="190.0" x2="990.1" y2="190.0" class="tk"/>
<text x="549.6" y="194.1" font-size="11.5" text-anchor="end" textLength="22.4" lengthAdjust="spacingAndGlyphs">0.10</text>
<line x1="553.2" y1="211.8" x2="558.7" y2="211.8" class="tk"/>
<line x1="995.6" y1="211.8" x2="990.1" y2="211.8" class="tk"/>
<text x="549.6" y="215.9" font-size="11.5" text-anchor="end" textLength="22.4" lengthAdjust="spacingAndGlyphs">0.15</text>
<line x1="553.2" y1="233.7" x2="558.7" y2="233.7" class="tk"/>
<line x1="995.6" y1="233.7" x2="990.1" y2="233.7" class="tk"/>
<text x="549.6" y="237.8" font-size="11.5" text-anchor="end" textLength="22.4" lengthAdjust="spacingAndGlyphs">0.20</text>
<line x1="553.2" y1="255.5" x2="558.7" y2="255.5" class="tk"/>
<line x1="995.6" y1="255.5" x2="990.1" y2="255.5" class="tk"/>
<text x="549.6" y="259.6" font-size="11.5" text-anchor="end" textLength="22.4" lengthAdjust="spacingAndGlyphs">0.25</text>
<line x1="553.2" y1="277.4" x2="558.7" y2="277.4" class="tk"/>
<line x1="995.6" y1="277.4" x2="990.1" y2="277.4" class="tk"/>
<text x="549.6" y="281.5" font-size="11.5" text-anchor="end" textLength="22.4" lengthAdjust="spacingAndGlyphs">0.30</text>
<line x1="553.2" y1="299.2" x2="558.7" y2="299.2" class="tk"/>
<line x1="995.6" y1="299.2" x2="990.1" y2="299.2" class="tk"/>
<text x="549.6" y="303.3" font-size="11.5" text-anchor="end" textLength="22.4" lengthAdjust="spacingAndGlyphs">0.35</text>
<rect x="553.2" y="4.2" width="442.4" height="318.85" fill="none" stroke="#000" stroke-width="1.35"/>
<text x="715.5" y="32.4" font-size="18" text-anchor="start" textLength="116.9" lengthAdjust="spacingAndGlyphs" style="stroke-width:0.65px">3873 Roddy</text>
<text x="697.6" y="52.8" font-size="12.5" text-anchor="start" textLength="154.0" lengthAdjust="spacingAndGlyphs">Period: 23.789 ± 0.006 h</text>
<text x="569.1" y="308.7" font-size="12.5" text-anchor="start" textLength="172.3" lengthAdjust="spacingAndGlyphs">JDo(LTC): 2454321.719364</text>
<text transform="translate(515.2,266.8) rotate(-90)" font-size="12.3" textLength="207.0" lengthAdjust="spacingAndGlyphs">Reduced Magnitude(R) alpha(24.1°)</text>
<rect x="333.5" y="199.4" width="69.30000000000001" height="111.6" fill="#000"/>
<rect x="331.5" y="197.4" width="69.30000000000001" height="111.6" fill="#fff" stroke="#333" stroke-width="1"/>
<text x="348.0" y="206.6" font-size="9.5" text-anchor="start" textLength="45.5" lengthAdjust="spacingAndGlyphs">Year: 2007</text>
<text x="348.0" y="217.7" font-size="9.5" text-anchor="start" textLength="50.7" lengthAdjust="spacingAndGlyphs">1910 - 08/09</text>
<rect x="337.5" y="211.5" width="6.0" height="6.0" fill="#000" stroke="#008000" stroke-width="1.5"/>
<text x="348.0" y="228.9" font-size="9.5" text-anchor="start" textLength="50.7" lengthAdjust="spacingAndGlyphs">1918 - 08/10</text>
<rect x="337.6" y="222.6" width="5.8" height="5.8" fill="#f00" stroke="#000" stroke-width="1.6"/>
<text x="348.0" y="239.9" font-size="9.5" text-anchor="start" textLength="50.7" lengthAdjust="spacingAndGlyphs">1920 - 08/11</text>
<rect x="337.5" y="233.5" width="6.0" height="6.0" fill="#000"/>
<text x="348.0" y="250.9" font-size="9.5" text-anchor="start" textLength="50.7" lengthAdjust="spacingAndGlyphs">1924 - 08/13</text>
<path d="M340.5 244.4L343.6 247.5L340.5 250.6L337.4 247.5Z" fill="#800080"/>
<text x="348.0" y="262.1" font-size="9.5" text-anchor="start" textLength="50.7" lengthAdjust="spacingAndGlyphs">1928 - 08/25</text>
<rect x="337.7" y="255.7" width="5.6" height="5.6" fill="#00f"/>
<text x="348.0" y="273.0" font-size="9.5" text-anchor="start" textLength="50.7" lengthAdjust="spacingAndGlyphs">1932 - 08/26</text>
<path d="M340.5 266.4L343.6 269.5L340.5 272.6L337.4 269.5Z" fill="#000080"/>
<text x="348.0" y="284.1" font-size="9.5" text-anchor="start" textLength="50.7" lengthAdjust="spacingAndGlyphs">1958 - 09/11</text>
<rect x="337.5" y="277.5" width="6.0" height="6.0" fill="#008000" stroke="#000" stroke-width="1.5"/>
<text x="348.0" y="295.0" font-size="9.5" text-anchor="start" textLength="50.7" lengthAdjust="spacingAndGlyphs">1964 - 09/12</text>
<path d="M340.5 288.4L343.6 291.5L340.5 294.6L337.4 291.5Z" fill="#0000ff"/>
<text x="348.0" y="306.0" font-size="9.5" text-anchor="start" textLength="50.7" lengthAdjust="spacingAndGlyphs">1967 - 09/13</text>
<use href="#ast" x="340.5" y="302.5"/>
<rect x="859.4" y="200.8" width="69.89999999999998" height="111.80000000000001" fill="#000"/>
<rect x="857.4" y="198.8" width="69.89999999999998" height="111.80000000000001" fill="#fff" stroke="#333" stroke-width="1"/>
<text x="874.3" y="208.9" font-size="9.5" text-anchor="start" textLength="46.0" lengthAdjust="spacingAndGlyphs">Year: 2007</text>
<text x="874.3" y="219.8" font-size="9.5" text-anchor="start" textLength="50.9" lengthAdjust="spacingAndGlyphs">1910 - 08/09</text>
<rect x="862.5" y="213.5" width="6.0" height="6.0" fill="#000" stroke="#008000" stroke-width="1.5"/>
<text x="874.3" y="230.8" font-size="9.5" text-anchor="start" textLength="50.9" lengthAdjust="spacingAndGlyphs">1918 - 08/10</text>
<rect x="862.6" y="224.6" width="5.8" height="5.8" fill="#f00" stroke="#000" stroke-width="1.6"/>
<text x="874.3" y="241.8" font-size="9.5" text-anchor="start" textLength="50.9" lengthAdjust="spacingAndGlyphs">1920 - 08/11</text>
<rect x="862.5" y="235.5" width="6.0" height="6.0" fill="#000"/>
<text x="874.3" y="252.7" font-size="9.5" text-anchor="start" textLength="50.9" lengthAdjust="spacingAndGlyphs">1924 - 08/13</text>
<path d="M865.5 246.4L868.6 249.5L865.5 252.6L862.4 249.5Z" fill="#800080"/>
<text x="874.3" y="263.7" font-size="9.5" text-anchor="start" textLength="50.9" lengthAdjust="spacingAndGlyphs">1928 - 08/25</text>
<rect x="862.7" y="257.7" width="5.6" height="5.6" fill="#00f"/>
<text x="874.3" y="274.7" font-size="9.5" text-anchor="start" textLength="50.9" lengthAdjust="spacingAndGlyphs">1932 - 08/26</text>
<path d="M865.5 268.4L868.6 271.5L865.5 274.6L862.4 271.5Z" fill="#000080"/>
<text x="874.3" y="285.6" font-size="9.5" text-anchor="start" textLength="50.9" lengthAdjust="spacingAndGlyphs">1958 - 09/11</text>
<rect x="862.5" y="279.5" width="6.0" height="6.0" fill="#008000" stroke="#000" stroke-width="1.5"/>
<text x="874.3" y="296.6" font-size="9.5" text-anchor="start" textLength="50.9" lengthAdjust="spacingAndGlyphs">1964 - 09/12</text>
<path d="M865.5 290.4L868.6 293.5L865.5 296.6L862.4 293.5Z" fill="#0000ff"/>
<text x="874.3" y="307.6" font-size="9.5" text-anchor="start" textLength="50.9" lengthAdjust="spacingAndGlyphs">1967 - 09/13</text>
<use href="#ast" x="865.5" y="304.5"/>
</svg></body></html>
